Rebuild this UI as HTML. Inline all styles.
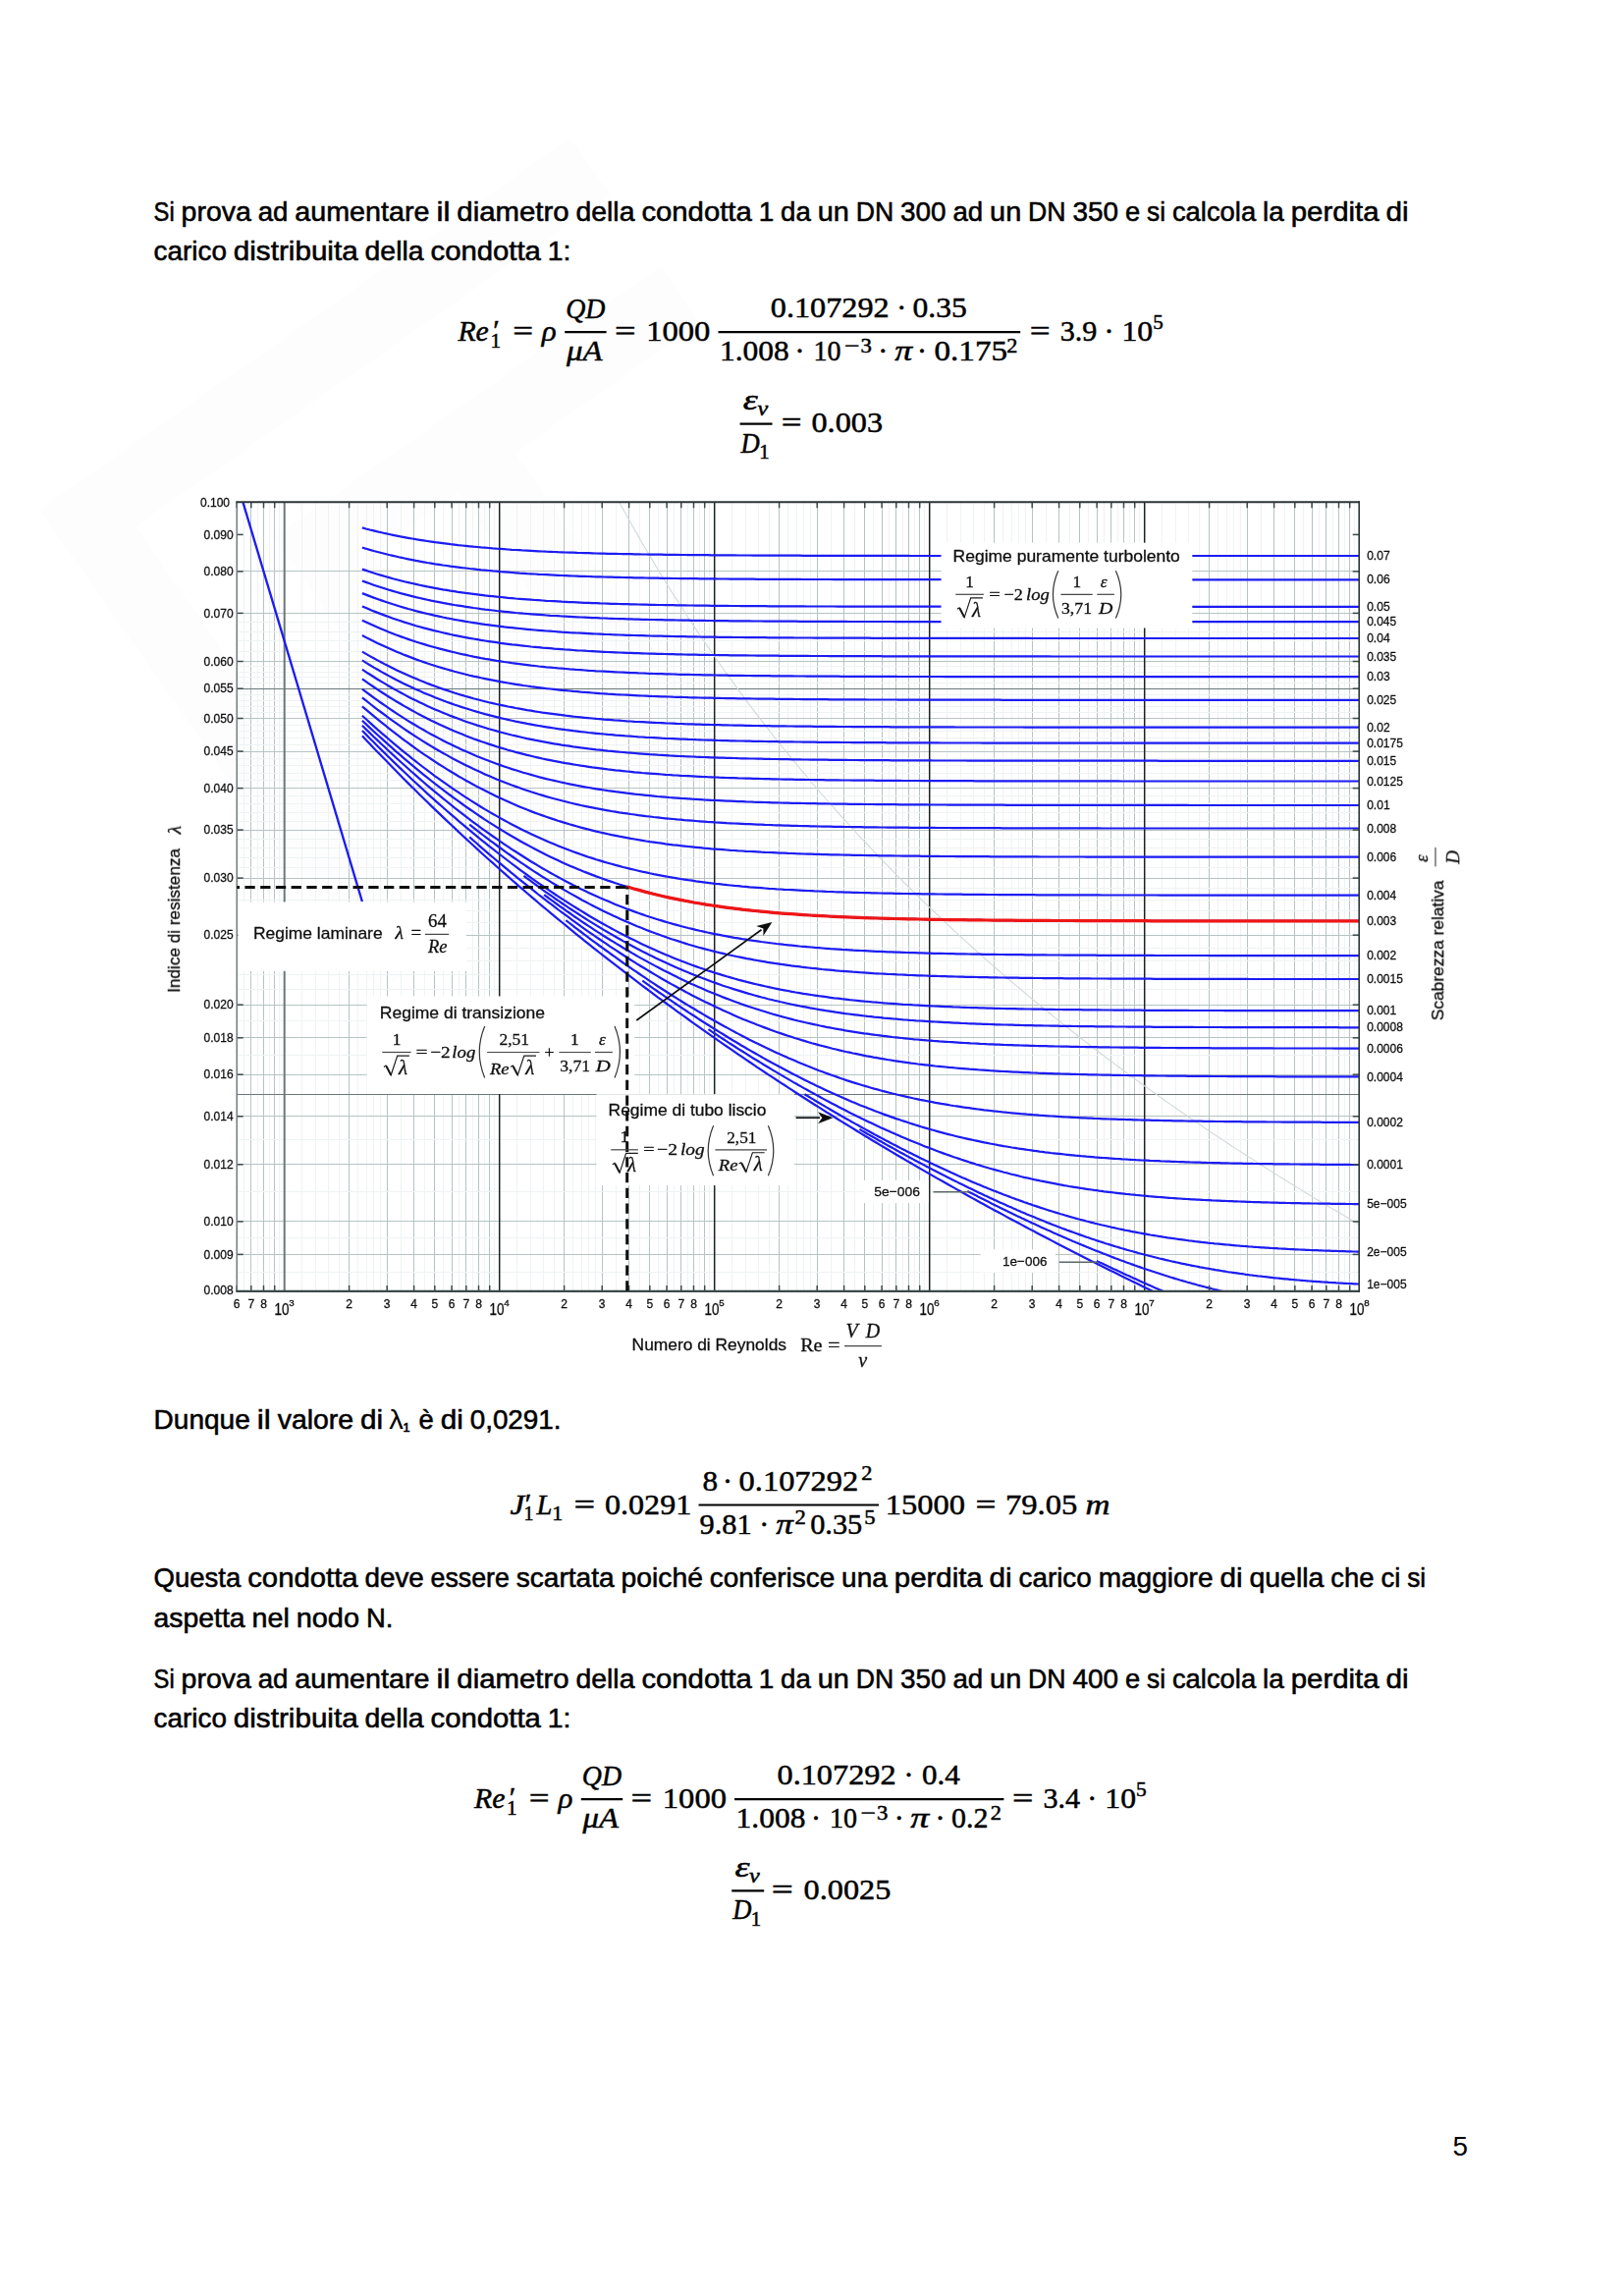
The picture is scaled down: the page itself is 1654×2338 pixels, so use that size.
<!DOCTYPE html>
<html lang="it"><head><meta charset="utf-8"><title>Pagina 5</title>
<style>html,body{margin:0;padding:0;background:#fff}svg{display:block}.s{font-family:"Liberation Sans", sans-serif}.si{font-family:"Liberation Sans", sans-serif;font-style:italic}.r{font-family:"Liberation Serif", serif}.ri{font-family:"Liberation Serif", serif;font-style:italic}text{white-space:pre}.c text{stroke:#111;stroke-width:.3px}</style></head><body>
<svg width="1654" height="2338" viewBox="0 0 1654 2338">
<rect x="0.0" y="0.0" width="1654.0" height="2338.0" fill="#fff" />
<g fill="#fdfdfe" transform="translate(500,600) rotate(-35)">
<rect x="-330" y="-330" width="660" height="70"/>
<rect x="-330" y="-330" width="70" height="600"/>
<rect x="-150" y="-170" width="70" height="440"/>
<rect x="30" y="-170" width="70" height="440"/>
<rect x="-150" y="-170" width="480" height="70"/>
</g>
<text x="156.6" y="224.6" font-size="27.4" class="s" textLength="21.1" lengthAdjust="spacingAndGlyphs" stroke="#000" stroke-width="0.55">Si</text>
<text x="184.6" y="224.6" font-size="27.4" class="s" textLength="71.3" lengthAdjust="spacingAndGlyphs" stroke="#000" stroke-width="0.55">prova</text>
<text x="262.7" y="224.6" font-size="27.4" class="s" textLength="30.7" lengthAdjust="spacingAndGlyphs" stroke="#000" stroke-width="0.55">ad</text>
<text x="300.3" y="224.6" font-size="27.4" class="s" textLength="137.1" lengthAdjust="spacingAndGlyphs" stroke="#000" stroke-width="0.55">aumentare</text>
<text x="444.4" y="224.6" font-size="27.4" class="s" textLength="14.0" lengthAdjust="spacingAndGlyphs" stroke="#000" stroke-width="0.55">il</text>
<text x="465.3" y="224.6" font-size="27.4" class="s" textLength="114.3" lengthAdjust="spacingAndGlyphs" stroke="#000" stroke-width="0.55">diametro</text>
<text x="586.5" y="224.6" font-size="27.4" class="s" textLength="59.9" lengthAdjust="spacingAndGlyphs" stroke="#000" stroke-width="0.55">della</text>
<text x="653.4" y="224.6" font-size="27.4" class="s" textLength="112.4" lengthAdjust="spacingAndGlyphs" stroke="#000" stroke-width="0.55">condotta</text>
<text x="772.7" y="224.6" font-size="27.4" class="s" textLength="15.5" lengthAdjust="spacingAndGlyphs" stroke="#000" stroke-width="0.55">1</text>
<text x="795.1" y="224.6" font-size="27.4" class="s" textLength="30.7" lengthAdjust="spacingAndGlyphs" stroke="#000" stroke-width="0.55">da</text>
<text x="832.7" y="224.6" font-size="27.4" class="s" textLength="32.1" lengthAdjust="spacingAndGlyphs" stroke="#000" stroke-width="0.55">un</text>
<text x="871.7" y="224.6" font-size="27.4" class="s" textLength="38.5" lengthAdjust="spacingAndGlyphs" stroke="#000" stroke-width="0.55">DN</text>
<text x="917.1" y="224.6" font-size="27.4" class="s" textLength="46.5" lengthAdjust="spacingAndGlyphs" stroke="#000" stroke-width="0.55">300</text>
<text x="970.5" y="224.6" font-size="27.4" class="s" textLength="30.7" lengthAdjust="spacingAndGlyphs" stroke="#000" stroke-width="0.55">ad</text>
<text x="1008.1" y="224.6" font-size="27.4" class="s" textLength="32.1" lengthAdjust="spacingAndGlyphs" stroke="#000" stroke-width="0.55">un</text>
<text x="1047.1" y="224.6" font-size="27.4" class="s" textLength="38.5" lengthAdjust="spacingAndGlyphs" stroke="#000" stroke-width="0.55">DN</text>
<text x="1092.6" y="224.6" font-size="27.4" class="s" textLength="46.5" lengthAdjust="spacingAndGlyphs" stroke="#000" stroke-width="0.55">350</text>
<text x="1146.0" y="224.6" font-size="27.4" class="s" textLength="15.2" lengthAdjust="spacingAndGlyphs" stroke="#000" stroke-width="0.55">e</text>
<text x="1168.1" y="224.6" font-size="27.4" class="s" textLength="19.0" lengthAdjust="spacingAndGlyphs" stroke="#000" stroke-width="0.55">si</text>
<text x="1193.9" y="224.6" font-size="27.4" class="s" textLength="85.3" lengthAdjust="spacingAndGlyphs" stroke="#000" stroke-width="0.55">calcola</text>
<text x="1286.1" y="224.6" font-size="27.4" class="s" textLength="21.7" lengthAdjust="spacingAndGlyphs" stroke="#000" stroke-width="0.55">la</text>
<text x="1314.7" y="224.6" font-size="27.4" class="s" textLength="89.9" lengthAdjust="spacingAndGlyphs" stroke="#000" stroke-width="0.55">perdita</text>
<text x="1411.5" y="224.6" font-size="27.4" class="s" textLength="23.1" lengthAdjust="spacingAndGlyphs" stroke="#000" stroke-width="0.55">di</text>
<text x="156.6" y="264.9" font-size="27.4" class="s" textLength="74.3" lengthAdjust="spacingAndGlyphs" stroke="#000" stroke-width="0.55">carico</text>
<text x="237.8" y="264.9" font-size="27.4" class="s" textLength="126.9" lengthAdjust="spacingAndGlyphs" stroke="#000" stroke-width="0.55">distribuita</text>
<text x="371.6" y="264.9" font-size="27.4" class="s" textLength="59.9" lengthAdjust="spacingAndGlyphs" stroke="#000" stroke-width="0.55">della</text>
<text x="438.5" y="264.9" font-size="27.4" class="s" textLength="112.4" lengthAdjust="spacingAndGlyphs" stroke="#000" stroke-width="0.55">condotta</text>
<text x="557.7" y="264.9" font-size="27.4" class="s" textLength="23.7" lengthAdjust="spacingAndGlyphs" stroke="#000" stroke-width="0.55">1:</text>
<text x="156.6" y="1455.4" font-size="27.4" class="s" textLength="98.2" lengthAdjust="spacingAndGlyphs" stroke="#000" stroke-width="0.55">Dunque</text>
<text x="261.7" y="1455.4" font-size="27.4" class="s" textLength="14.0" lengthAdjust="spacingAndGlyphs" stroke="#000" stroke-width="0.55">il</text>
<text x="282.7" y="1455.4" font-size="27.4" class="s" textLength="77.4" lengthAdjust="spacingAndGlyphs" stroke="#000" stroke-width="0.55">valore</text>
<text x="367.0" y="1455.4" font-size="27.4" class="s" textLength="23.1" lengthAdjust="spacingAndGlyphs" stroke="#000" stroke-width="0.55">di</text>
<text x="396.2" y="1455.4" font-size="27.4" class="s" textLength="14.6" lengthAdjust="spacingAndGlyphs">λ</text>
<text x="410.6" y="1458.3" font-size="13.5" class="s" textLength="7.0" lengthAdjust="spacingAndGlyphs" stroke="#000" stroke-width="0.7">1</text>
<text x="426.6" y="1455.4" font-size="27.4" class="s" textLength="15.2" lengthAdjust="spacingAndGlyphs" stroke="#000" stroke-width="0.55">è</text>
<text x="448.7" y="1455.4" font-size="27.4" class="s" textLength="23.1" lengthAdjust="spacingAndGlyphs" stroke="#000" stroke-width="0.55">di</text>
<text x="478.7" y="1455.4" font-size="27.4" class="s" textLength="92.8" lengthAdjust="spacingAndGlyphs" stroke="#000" stroke-width="0.55">0,0291.</text>
<text x="156.6" y="1616.2" font-size="27.4" class="s" textLength="88.7" lengthAdjust="spacingAndGlyphs" stroke="#000" stroke-width="0.55">Questa</text>
<text x="252.2" y="1616.2" font-size="27.4" class="s" textLength="112.4" lengthAdjust="spacingAndGlyphs" stroke="#000" stroke-width="0.55">condotta</text>
<text x="371.5" y="1616.2" font-size="27.4" class="s" textLength="60.3" lengthAdjust="spacingAndGlyphs" stroke="#000" stroke-width="0.55">deve</text>
<text x="438.6" y="1616.2" font-size="27.4" class="s" textLength="80.2" lengthAdjust="spacingAndGlyphs" stroke="#000" stroke-width="0.55">essere</text>
<text x="525.7" y="1616.2" font-size="27.4" class="s" textLength="99.9" lengthAdjust="spacingAndGlyphs" stroke="#000" stroke-width="0.55">scartata</text>
<text x="632.5" y="1616.2" font-size="27.4" class="s" textLength="83.4" lengthAdjust="spacingAndGlyphs" stroke="#000" stroke-width="0.55">poiché</text>
<text x="722.8" y="1616.2" font-size="27.4" class="s" textLength="127.4" lengthAdjust="spacingAndGlyphs" stroke="#000" stroke-width="0.55">conferisce</text>
<text x="857.1" y="1616.2" font-size="27.4" class="s" textLength="46.7" lengthAdjust="spacingAndGlyphs" stroke="#000" stroke-width="0.55">una</text>
<text x="910.8" y="1616.2" font-size="27.4" class="s" textLength="89.9" lengthAdjust="spacingAndGlyphs" stroke="#000" stroke-width="0.55">perdita</text>
<text x="1007.5" y="1616.2" font-size="27.4" class="s" textLength="23.1" lengthAdjust="spacingAndGlyphs" stroke="#000" stroke-width="0.55">di</text>
<text x="1037.5" y="1616.2" font-size="27.4" class="s" textLength="74.3" lengthAdjust="spacingAndGlyphs" stroke="#000" stroke-width="0.55">carico</text>
<text x="1118.7" y="1616.2" font-size="27.4" class="s" textLength="116.8" lengthAdjust="spacingAndGlyphs" stroke="#000" stroke-width="0.55">maggiore</text>
<text x="1242.4" y="1616.2" font-size="27.4" class="s" textLength="23.1" lengthAdjust="spacingAndGlyphs" stroke="#000" stroke-width="0.55">di</text>
<text x="1272.4" y="1616.2" font-size="27.4" class="s" textLength="76.0" lengthAdjust="spacingAndGlyphs" stroke="#000" stroke-width="0.55">quella</text>
<text x="1355.3" y="1616.2" font-size="27.4" class="s" textLength="44.2" lengthAdjust="spacingAndGlyphs" stroke="#000" stroke-width="0.55">che</text>
<text x="1406.4" y="1616.2" font-size="27.4" class="s" textLength="19.9" lengthAdjust="spacingAndGlyphs" stroke="#000" stroke-width="0.55">ci</text>
<text x="1433.2" y="1616.2" font-size="27.4" class="s" textLength="19.0" lengthAdjust="spacingAndGlyphs" stroke="#000" stroke-width="0.55">si</text>
<text x="156.6" y="1656.6" font-size="27.4" class="s" textLength="93.0" lengthAdjust="spacingAndGlyphs" stroke="#000" stroke-width="0.55">aspetta</text>
<text x="256.5" y="1656.6" font-size="27.4" class="s" textLength="38.3" lengthAdjust="spacingAndGlyphs" stroke="#000" stroke-width="0.55">nel</text>
<text x="301.7" y="1656.6" font-size="27.4" class="s" textLength="64.3" lengthAdjust="spacingAndGlyphs" stroke="#000" stroke-width="0.55">nodo</text>
<text x="372.9" y="1656.6" font-size="27.4" class="s" textLength="27.4" lengthAdjust="spacingAndGlyphs" stroke="#000" stroke-width="0.55">N.</text>
<text x="156.6" y="1718.7" font-size="27.4" class="s" textLength="21.1" lengthAdjust="spacingAndGlyphs" stroke="#000" stroke-width="0.55">Si</text>
<text x="184.6" y="1718.7" font-size="27.4" class="s" textLength="71.3" lengthAdjust="spacingAndGlyphs" stroke="#000" stroke-width="0.55">prova</text>
<text x="262.7" y="1718.7" font-size="27.4" class="s" textLength="30.7" lengthAdjust="spacingAndGlyphs" stroke="#000" stroke-width="0.55">ad</text>
<text x="300.3" y="1718.7" font-size="27.4" class="s" textLength="137.1" lengthAdjust="spacingAndGlyphs" stroke="#000" stroke-width="0.55">aumentare</text>
<text x="444.4" y="1718.7" font-size="27.4" class="s" textLength="14.0" lengthAdjust="spacingAndGlyphs" stroke="#000" stroke-width="0.55">il</text>
<text x="465.3" y="1718.7" font-size="27.4" class="s" textLength="114.3" lengthAdjust="spacingAndGlyphs" stroke="#000" stroke-width="0.55">diametro</text>
<text x="586.5" y="1718.7" font-size="27.4" class="s" textLength="59.9" lengthAdjust="spacingAndGlyphs" stroke="#000" stroke-width="0.55">della</text>
<text x="653.4" y="1718.7" font-size="27.4" class="s" textLength="112.4" lengthAdjust="spacingAndGlyphs" stroke="#000" stroke-width="0.55">condotta</text>
<text x="772.7" y="1718.7" font-size="27.4" class="s" textLength="15.5" lengthAdjust="spacingAndGlyphs" stroke="#000" stroke-width="0.55">1</text>
<text x="795.1" y="1718.7" font-size="27.4" class="s" textLength="30.7" lengthAdjust="spacingAndGlyphs" stroke="#000" stroke-width="0.55">da</text>
<text x="832.7" y="1718.7" font-size="27.4" class="s" textLength="32.1" lengthAdjust="spacingAndGlyphs" stroke="#000" stroke-width="0.55">un</text>
<text x="871.7" y="1718.7" font-size="27.4" class="s" textLength="38.5" lengthAdjust="spacingAndGlyphs" stroke="#000" stroke-width="0.55">DN</text>
<text x="917.1" y="1718.7" font-size="27.4" class="s" textLength="46.5" lengthAdjust="spacingAndGlyphs" stroke="#000" stroke-width="0.55">350</text>
<text x="970.5" y="1718.7" font-size="27.4" class="s" textLength="30.7" lengthAdjust="spacingAndGlyphs" stroke="#000" stroke-width="0.55">ad</text>
<text x="1008.1" y="1718.7" font-size="27.4" class="s" textLength="32.1" lengthAdjust="spacingAndGlyphs" stroke="#000" stroke-width="0.55">un</text>
<text x="1047.1" y="1718.7" font-size="27.4" class="s" textLength="38.5" lengthAdjust="spacingAndGlyphs" stroke="#000" stroke-width="0.55">DN</text>
<text x="1092.6" y="1718.7" font-size="27.4" class="s" textLength="46.5" lengthAdjust="spacingAndGlyphs" stroke="#000" stroke-width="0.55">400</text>
<text x="1146.0" y="1718.7" font-size="27.4" class="s" textLength="15.2" lengthAdjust="spacingAndGlyphs" stroke="#000" stroke-width="0.55">e</text>
<text x="1168.1" y="1718.7" font-size="27.4" class="s" textLength="19.0" lengthAdjust="spacingAndGlyphs" stroke="#000" stroke-width="0.55">si</text>
<text x="1193.9" y="1718.7" font-size="27.4" class="s" textLength="85.3" lengthAdjust="spacingAndGlyphs" stroke="#000" stroke-width="0.55">calcola</text>
<text x="1286.1" y="1718.7" font-size="27.4" class="s" textLength="21.7" lengthAdjust="spacingAndGlyphs" stroke="#000" stroke-width="0.55">la</text>
<text x="1314.7" y="1718.7" font-size="27.4" class="s" textLength="89.9" lengthAdjust="spacingAndGlyphs" stroke="#000" stroke-width="0.55">perdita</text>
<text x="1411.5" y="1718.7" font-size="27.4" class="s" textLength="23.1" lengthAdjust="spacingAndGlyphs" stroke="#000" stroke-width="0.55">di</text>
<text x="156.6" y="1759.2" font-size="27.4" class="s" textLength="74.3" lengthAdjust="spacingAndGlyphs" stroke="#000" stroke-width="0.55">carico</text>
<text x="237.8" y="1759.2" font-size="27.4" class="s" textLength="126.9" lengthAdjust="spacingAndGlyphs" stroke="#000" stroke-width="0.55">distribuita</text>
<text x="371.6" y="1759.2" font-size="27.4" class="s" textLength="59.9" lengthAdjust="spacingAndGlyphs" stroke="#000" stroke-width="0.55">della</text>
<text x="438.5" y="1759.2" font-size="27.4" class="s" textLength="112.4" lengthAdjust="spacingAndGlyphs" stroke="#000" stroke-width="0.55">condotta</text>
<text x="557.7" y="1759.2" font-size="27.4" class="s" textLength="23.7" lengthAdjust="spacingAndGlyphs" stroke="#000" stroke-width="0.55">1:</text>
<text x="1479.6" y="2195.2" font-size="27.4" class="s" textLength="15.5" lengthAdjust="spacingAndGlyphs">5</text>
<text x="466.4" y="347.2" font-size="30" class="ri" textLength="31.4" lengthAdjust="spacingAndGlyphs" stroke="#000" stroke-width="0.5">Re</text>
<text x="502.2" y="346.2" font-size="30" class="r" stroke="#000" stroke-width="0.5">′</text>
<text x="499.4" y="353.5" font-size="21.0" class="r" textLength="10.6" lengthAdjust="spacingAndGlyphs" stroke="#000" stroke-width="0.5">1</text>
<text x="522.2" y="347.2" font-size="30" class="r" textLength="20.8" lengthAdjust="spacingAndGlyphs" stroke="#000" stroke-width="0.5">=</text>
<text x="551.8" y="347.2" font-size="30" class="ri" textLength="14.9" lengthAdjust="spacingAndGlyphs" stroke="#000" stroke-width="0.5">ρ</text>
<line x1="575.2" y1="338.1" x2="617.6" y2="338.1" stroke="#000" stroke-width="2.2" />
<text x="576.2" y="323.8" font-size="30" class="ri" textLength="40.2" lengthAdjust="spacingAndGlyphs" stroke="#000" stroke-width="0.5">QD</text>
<text x="577.0" y="367.0" font-size="30" class="ri" textLength="36.5" lengthAdjust="spacingAndGlyphs" stroke="#000" stroke-width="0.5">μA</text>
<text x="626.0" y="347.2" font-size="30" class="r" textLength="21.6" lengthAdjust="spacingAndGlyphs" stroke="#000" stroke-width="0.5">=</text>
<text x="658.2" y="347.2" font-size="30" class="r" textLength="65.2" lengthAdjust="spacingAndGlyphs" stroke="#000" stroke-width="0.5">1000</text>
<line x1="731.5" y1="338.1" x2="1039.2" y2="338.1" stroke="#000" stroke-width="2.2" />
<text x="784.8" y="323.1" font-size="30" class="r" textLength="120.9" lengthAdjust="spacingAndGlyphs" stroke="#000" stroke-width="0.5">0.107292</text>
<text x="918.2" y="323.1" font-size="30" class="r" text-anchor="middle" stroke="#000" stroke-width="0.6">·</text>
<text x="929.6" y="323.1" font-size="30" class="r" textLength="55.2" lengthAdjust="spacingAndGlyphs" stroke="#000" stroke-width="0.5">0.35</text>
<text x="733.0" y="367.4" font-size="30" class="r" textLength="70.8" lengthAdjust="spacingAndGlyphs" stroke="#000" stroke-width="0.5">1.008</text>
<text x="814.4" y="367.4" font-size="30" class="r" text-anchor="middle" stroke="#000" stroke-width="0.6">·</text>
<text x="828.4" y="367.4" font-size="30" class="r" textLength="28.0" lengthAdjust="spacingAndGlyphs" stroke="#000" stroke-width="0.5">10</text>
<text x="859.9" y="359.4" font-size="21.0" class="r" textLength="15.4" lengthAdjust="spacingAndGlyphs" stroke="#000" stroke-width="0.5">−</text>
<text x="876.5" y="359.4" font-size="21.0" class="r" textLength="11.4" lengthAdjust="spacingAndGlyphs" stroke="#000" stroke-width="0.5">3</text>
<text x="899.2" y="367.4" font-size="30" class="r" text-anchor="middle" stroke="#000" stroke-width="0.6">·</text>
<text x="911.3" y="367.4" font-size="30" class="ri" textLength="17.9" lengthAdjust="spacingAndGlyphs" stroke="#000" stroke-width="0.5">π</text>
<text x="939.1" y="367.4" font-size="30" class="r" text-anchor="middle" stroke="#000" stroke-width="0.6">·</text>
<text x="951.5" y="367.4" font-size="30" class="r" textLength="74.5" lengthAdjust="spacingAndGlyphs" stroke="#000" stroke-width="0.5">0.175</text>
<text x="1025.3" y="359.4" font-size="21.0" class="r" textLength="11.1" lengthAdjust="spacingAndGlyphs" stroke="#000" stroke-width="0.5">2</text>
<text x="1048.7" y="347.2" font-size="30" class="r" textLength="20.9" lengthAdjust="spacingAndGlyphs" stroke="#000" stroke-width="0.5">=</text>
<text x="1079.7" y="347.2" font-size="30" class="r" textLength="37.7" lengthAdjust="spacingAndGlyphs" stroke="#000" stroke-width="0.5">3.9</text>
<text x="1129.4" y="347.2" font-size="30" class="r" text-anchor="middle" stroke="#000" stroke-width="0.6">·</text>
<text x="1142.5" y="347.2" font-size="30" class="r" textLength="31.7" lengthAdjust="spacingAndGlyphs" stroke="#000" stroke-width="0.5">10</text>
<text x="1174.3" y="335.3" font-size="21.0" class="r" textLength="10.5" lengthAdjust="spacingAndGlyphs" stroke="#000" stroke-width="0.5">5</text>
<line x1="753.6" y1="431.6" x2="786.5" y2="431.6" stroke="#000" stroke-width="2.2" />
<text x="756.8" y="416.8" font-size="30" class="ri" textLength="15.0" lengthAdjust="spacingAndGlyphs" stroke="#000" stroke-width="0.5">ε</text>
<text x="771.4" y="423.2" font-size="21.0" class="ri" textLength="10.7" lengthAdjust="spacingAndGlyphs" stroke="#000" stroke-width="0.5">v</text>
<text x="754.6" y="460.7" font-size="30" class="ri" textLength="19.2" lengthAdjust="spacingAndGlyphs" stroke="#000" stroke-width="0.5">D</text>
<text x="773.2" y="467.2" font-size="21.0" class="r" textLength="10.4" lengthAdjust="spacingAndGlyphs" stroke="#000" stroke-width="0.5">1</text>
<text x="795.8" y="440.4" font-size="30" class="r" textLength="20.8" lengthAdjust="spacingAndGlyphs" stroke="#000" stroke-width="0.5">=</text>
<text x="826.5" y="440.4" font-size="30" class="r" textLength="72.5" lengthAdjust="spacingAndGlyphs" stroke="#000" stroke-width="0.5">0.003</text>
<text x="519.4" y="1541.7" font-size="30" class="ri" textLength="14.7" lengthAdjust="spacingAndGlyphs" stroke="#000" stroke-width="0.5">J</text>
<text x="534.8" y="1540.7" font-size="30" class="r" stroke="#000" stroke-width="0.5">′</text>
<text x="533.6" y="1548.3" font-size="21.0" class="r" textLength="10.0" lengthAdjust="spacingAndGlyphs" stroke="#000" stroke-width="0.5">1</text>
<text x="546.5" y="1541.7" font-size="30" class="ri" textLength="15.9" lengthAdjust="spacingAndGlyphs" stroke="#000" stroke-width="0.5">L</text>
<text x="562.2" y="1548.3" font-size="21.0" class="r" textLength="11.0" lengthAdjust="spacingAndGlyphs" stroke="#000" stroke-width="0.5">1</text>
<text x="584.4" y="1541.7" font-size="30" class="r" textLength="21.6" lengthAdjust="spacingAndGlyphs" stroke="#000" stroke-width="0.5">=</text>
<text x="616.0" y="1541.7" font-size="30" class="r" textLength="88.2" lengthAdjust="spacingAndGlyphs" stroke="#000" stroke-width="0.5">0.0291</text>
<line x1="711.5" y1="1532.5" x2="895.0" y2="1532.5" stroke="#000" stroke-width="2.2" />
<text x="715.6" y="1518.3" font-size="30" class="r" textLength="15.6" lengthAdjust="spacingAndGlyphs" stroke="#000" stroke-width="0.5">8</text>
<text x="741.0" y="1518.3" font-size="30" class="r" text-anchor="middle" stroke="#000" stroke-width="0.6">·</text>
<text x="752.6" y="1518.3" font-size="30" class="r" textLength="121.6" lengthAdjust="spacingAndGlyphs" stroke="#000" stroke-width="0.5">0.107292</text>
<text x="877.3" y="1507.2" font-size="21.0" class="r" textLength="11.2" lengthAdjust="spacingAndGlyphs" stroke="#000" stroke-width="0.5">2</text>
<text x="712.5" y="1562.1" font-size="30" class="r" textLength="53.2" lengthAdjust="spacingAndGlyphs" stroke="#000" stroke-width="0.5">9.81</text>
<text x="778.2" y="1562.1" font-size="30" class="r" text-anchor="middle" stroke="#000" stroke-width="0.6">·</text>
<text x="790.3" y="1562.1" font-size="30" class="ri" textLength="17.6" lengthAdjust="spacingAndGlyphs" stroke="#000" stroke-width="0.5">π</text>
<text x="809.5" y="1552.4" font-size="21.0" class="r" textLength="11.3" lengthAdjust="spacingAndGlyphs" stroke="#000" stroke-width="0.5">2</text>
<text x="825.2" y="1562.1" font-size="30" class="r" textLength="53.1" lengthAdjust="spacingAndGlyphs" stroke="#000" stroke-width="0.5">0.35</text>
<text x="880.3" y="1552.4" font-size="21.0" class="r" textLength="11.3" lengthAdjust="spacingAndGlyphs" stroke="#000" stroke-width="0.5">5</text>
<text x="901.8" y="1541.7" font-size="30" class="r" textLength="81.2" lengthAdjust="spacingAndGlyphs" stroke="#000" stroke-width="0.5">15000</text>
<text x="993.4" y="1541.7" font-size="30" class="r" textLength="21.0" lengthAdjust="spacingAndGlyphs" stroke="#000" stroke-width="0.5">=</text>
<text x="1023.9" y="1541.7" font-size="30" class="r" textLength="73.4" lengthAdjust="spacingAndGlyphs" stroke="#000" stroke-width="0.5">79.05</text>
<text x="1105.4" y="1541.7" font-size="30" class="ri" textLength="25.0" lengthAdjust="spacingAndGlyphs" stroke="#000" stroke-width="0.5">m</text>
<text x="483.0" y="1841.2" font-size="30" class="ri" textLength="31.4" lengthAdjust="spacingAndGlyphs" stroke="#000" stroke-width="0.5">Re</text>
<text x="518.8" y="1840.2" font-size="30" class="r" stroke="#000" stroke-width="0.5">′</text>
<text x="516.0" y="1847.5" font-size="21.0" class="r" textLength="10.6" lengthAdjust="spacingAndGlyphs" stroke="#000" stroke-width="0.5">1</text>
<text x="538.8" y="1841.2" font-size="30" class="r" textLength="20.8" lengthAdjust="spacingAndGlyphs" stroke="#000" stroke-width="0.5">=</text>
<text x="568.4" y="1841.2" font-size="30" class="ri" textLength="14.9" lengthAdjust="spacingAndGlyphs" stroke="#000" stroke-width="0.5">ρ</text>
<line x1="591.8" y1="1832.1" x2="634.2" y2="1832.1" stroke="#000" stroke-width="2.2" />
<text x="592.8" y="1817.8" font-size="30" class="ri" textLength="40.2" lengthAdjust="spacingAndGlyphs" stroke="#000" stroke-width="0.5">QD</text>
<text x="593.6" y="1861.0" font-size="30" class="ri" textLength="36.5" lengthAdjust="spacingAndGlyphs" stroke="#000" stroke-width="0.5">μA</text>
<text x="642.6" y="1841.2" font-size="30" class="r" textLength="21.6" lengthAdjust="spacingAndGlyphs" stroke="#000" stroke-width="0.5">=</text>
<text x="674.8" y="1841.2" font-size="30" class="r" textLength="65.2" lengthAdjust="spacingAndGlyphs" stroke="#000" stroke-width="0.5">1000</text>
<line x1="748.1" y1="1832.1" x2="1022.4" y2="1832.1" stroke="#000" stroke-width="2.2" />
<text x="791.5" y="1817.1" font-size="30" class="r" textLength="121.1" lengthAdjust="spacingAndGlyphs" stroke="#000" stroke-width="0.5">0.107292</text>
<text x="925.6" y="1817.1" font-size="30" class="r" text-anchor="middle" stroke="#000" stroke-width="0.6">·</text>
<text x="939.0" y="1817.1" font-size="30" class="r" textLength="38.8" lengthAdjust="spacingAndGlyphs" stroke="#000" stroke-width="0.5">0.4</text>
<text x="749.6" y="1861.4" font-size="30" class="r" textLength="70.8" lengthAdjust="spacingAndGlyphs" stroke="#000" stroke-width="0.5">1.008</text>
<text x="831.0" y="1861.4" font-size="30" class="r" text-anchor="middle" stroke="#000" stroke-width="0.6">·</text>
<text x="845.0" y="1861.4" font-size="30" class="r" textLength="28.0" lengthAdjust="spacingAndGlyphs" stroke="#000" stroke-width="0.5">10</text>
<text x="876.5" y="1853.4" font-size="21.0" class="r" textLength="15.4" lengthAdjust="spacingAndGlyphs" stroke="#000" stroke-width="0.5">−</text>
<text x="893.1" y="1853.4" font-size="21.0" class="r" textLength="11.4" lengthAdjust="spacingAndGlyphs" stroke="#000" stroke-width="0.5">3</text>
<text x="915.8" y="1861.4" font-size="30" class="r" text-anchor="middle" stroke="#000" stroke-width="0.6">·</text>
<text x="927.2" y="1861.4" font-size="30" class="ri" textLength="18.9" lengthAdjust="spacingAndGlyphs" stroke="#000" stroke-width="0.5">π</text>
<text x="957.4" y="1861.4" font-size="30" class="r" text-anchor="middle" stroke="#000" stroke-width="0.6">·</text>
<text x="969.0" y="1861.4" font-size="30" class="r" textLength="37.4" lengthAdjust="spacingAndGlyphs" stroke="#000" stroke-width="0.5">0.2</text>
<text x="1008.7" y="1853.4" font-size="21.0" class="r" textLength="11.2" lengthAdjust="spacingAndGlyphs" stroke="#000" stroke-width="0.5">2</text>
<text x="1030.9" y="1841.2" font-size="30" class="r" textLength="21.4" lengthAdjust="spacingAndGlyphs" stroke="#000" stroke-width="0.5">=</text>
<text x="1062.5" y="1841.2" font-size="30" class="r" textLength="37.7" lengthAdjust="spacingAndGlyphs" stroke="#000" stroke-width="0.5">3.4</text>
<text x="1112.2" y="1841.2" font-size="30" class="r" text-anchor="middle" stroke="#000" stroke-width="0.6">·</text>
<text x="1125.3" y="1841.2" font-size="30" class="r" textLength="31.7" lengthAdjust="spacingAndGlyphs" stroke="#000" stroke-width="0.5">10</text>
<text x="1156.9" y="1829.3" font-size="21.0" class="r" textLength="10.7" lengthAdjust="spacingAndGlyphs" stroke="#000" stroke-width="0.5">5</text>
<line x1="745.2" y1="1925.3" x2="778.2" y2="1925.3" stroke="#000" stroke-width="2.2" />
<text x="748.4" y="1910.5" font-size="30" class="ri" textLength="15.0" lengthAdjust="spacingAndGlyphs" stroke="#000" stroke-width="0.5">ε</text>
<text x="763.0" y="1916.9" font-size="21.0" class="ri" textLength="10.7" lengthAdjust="spacingAndGlyphs" stroke="#000" stroke-width="0.5">v</text>
<text x="746.2" y="1954.4" font-size="30" class="ri" textLength="19.2" lengthAdjust="spacingAndGlyphs" stroke="#000" stroke-width="0.5">D</text>
<text x="764.8" y="1960.9" font-size="21.0" class="r" textLength="10.4" lengthAdjust="spacingAndGlyphs" stroke="#000" stroke-width="0.5">1</text>
<text x="785.8" y="1934.1" font-size="30" class="r" textLength="22.1" lengthAdjust="spacingAndGlyphs" stroke="#000" stroke-width="0.5">=</text>
<text x="818.6" y="1934.1" font-size="30" class="r" textLength="88.8" lengthAdjust="spacingAndGlyphs" stroke="#000" stroke-width="0.5">0.0025</text>
<filter id="bl" x="0" y="0" width="100%" height="100%" filterUnits="userSpaceOnUse"><feGaussianBlur stdDeviation="0.5"/></filter>
<g class="c" filter="url(#bl)">
<clipPath id="cp"><rect x="241.2" y="511.3" width="1143.0" height="803.6000000000001"/></clipPath>
<g clip-path="url(#cp)">
<g shape-rendering="crispEdges">
<line x1="241.1" y1="511.3" x2="241.1" y2="1314.9" stroke="#b7c3c3" stroke-width="1" />
<line x1="248.7" y1="511.3" x2="248.7" y2="1314.9" stroke="#eff3f3" stroke-width="1" />
<line x1="255.8" y1="511.3" x2="255.8" y2="1314.9" stroke="#b7c3c3" stroke-width="1" />
<line x1="262.3" y1="511.3" x2="262.3" y2="1314.9" stroke="#eff3f3" stroke-width="1" />
<line x1="268.5" y1="511.3" x2="268.5" y2="1314.9" stroke="#b7c3c3" stroke-width="1" />
<line x1="274.2" y1="511.3" x2="274.2" y2="1314.9" stroke="#eff3f3" stroke-width="1" />
<line x1="279.7" y1="511.3" x2="279.7" y2="1314.9" stroke="#b7c3c3" stroke-width="1" />
<line x1="284.8" y1="511.3" x2="284.8" y2="1314.9" stroke="#eff3f3" stroke-width="1" />
<line x1="307.0" y1="511.3" x2="307.0" y2="1314.9" stroke="#eff3f3" stroke-width="1" />
<line x1="321.7" y1="511.3" x2="321.7" y2="1314.9" stroke="#eff3f3" stroke-width="1" />
<line x1="334.4" y1="511.3" x2="334.4" y2="1314.9" stroke="#eff3f3" stroke-width="1" />
<line x1="345.6" y1="511.3" x2="345.6" y2="1314.9" stroke="#eff3f3" stroke-width="1" />
<line x1="355.6" y1="511.3" x2="355.6" y2="1314.9" stroke="#b7c3c3" stroke-width="1" />
<line x1="364.7" y1="511.3" x2="364.7" y2="1314.9" stroke="#eff3f3" stroke-width="1" />
<line x1="373.0" y1="511.3" x2="373.0" y2="1314.9" stroke="#eff3f3" stroke-width="1" />
<line x1="380.6" y1="511.3" x2="380.6" y2="1314.9" stroke="#eff3f3" stroke-width="1" />
<line x1="387.6" y1="511.3" x2="387.6" y2="1314.9" stroke="#eff3f3" stroke-width="1" />
<line x1="394.2" y1="511.3" x2="394.2" y2="1314.9" stroke="#b7c3c3" stroke-width="1" />
<line x1="408.9" y1="511.3" x2="408.9" y2="1314.9" stroke="#eff3f3" stroke-width="1" />
<line x1="421.6" y1="511.3" x2="421.6" y2="1314.9" stroke="#b7c3c3" stroke-width="1" />
<line x1="432.8" y1="511.3" x2="432.8" y2="1314.9" stroke="#eff3f3" stroke-width="1" />
<line x1="442.8" y1="511.3" x2="442.8" y2="1314.9" stroke="#b7c3c3" stroke-width="1" />
<line x1="451.8" y1="511.3" x2="451.8" y2="1314.9" stroke="#eff3f3" stroke-width="1" />
<line x1="460.1" y1="511.3" x2="460.1" y2="1314.9" stroke="#b7c3c3" stroke-width="1" />
<line x1="467.7" y1="511.3" x2="467.7" y2="1314.9" stroke="#eff3f3" stroke-width="1" />
<line x1="474.8" y1="511.3" x2="474.8" y2="1314.9" stroke="#b7c3c3" stroke-width="1" />
<line x1="481.3" y1="511.3" x2="481.3" y2="1314.9" stroke="#eff3f3" stroke-width="1" />
<line x1="487.5" y1="511.3" x2="487.5" y2="1314.9" stroke="#b7c3c3" stroke-width="1" />
<line x1="493.2" y1="511.3" x2="493.2" y2="1314.9" stroke="#eff3f3" stroke-width="1" />
<line x1="498.7" y1="511.3" x2="498.7" y2="1314.9" stroke="#b7c3c3" stroke-width="1" />
<line x1="503.8" y1="511.3" x2="503.8" y2="1314.9" stroke="#eff3f3" stroke-width="1" />
<line x1="526.0" y1="511.3" x2="526.0" y2="1314.9" stroke="#eff3f3" stroke-width="1" />
<line x1="540.7" y1="511.3" x2="540.7" y2="1314.9" stroke="#eff3f3" stroke-width="1" />
<line x1="553.4" y1="511.3" x2="553.4" y2="1314.9" stroke="#eff3f3" stroke-width="1" />
<line x1="564.6" y1="511.3" x2="564.6" y2="1314.9" stroke="#eff3f3" stroke-width="1" />
<line x1="574.6" y1="511.3" x2="574.6" y2="1314.9" stroke="#b7c3c3" stroke-width="1" />
<line x1="583.7" y1="511.3" x2="583.7" y2="1314.9" stroke="#eff3f3" stroke-width="1" />
<line x1="592.0" y1="511.3" x2="592.0" y2="1314.9" stroke="#eff3f3" stroke-width="1" />
<line x1="599.6" y1="511.3" x2="599.6" y2="1314.9" stroke="#eff3f3" stroke-width="1" />
<line x1="606.6" y1="511.3" x2="606.6" y2="1314.9" stroke="#eff3f3" stroke-width="1" />
<line x1="613.2" y1="511.3" x2="613.2" y2="1314.9" stroke="#b7c3c3" stroke-width="1" />
<line x1="627.9" y1="511.3" x2="627.9" y2="1314.9" stroke="#eff3f3" stroke-width="1" />
<line x1="640.6" y1="511.3" x2="640.6" y2="1314.9" stroke="#b7c3c3" stroke-width="1" />
<line x1="651.8" y1="511.3" x2="651.8" y2="1314.9" stroke="#eff3f3" stroke-width="1" />
<line x1="661.8" y1="511.3" x2="661.8" y2="1314.9" stroke="#b7c3c3" stroke-width="1" />
<line x1="670.8" y1="511.3" x2="670.8" y2="1314.9" stroke="#eff3f3" stroke-width="1" />
<line x1="679.1" y1="511.3" x2="679.1" y2="1314.9" stroke="#b7c3c3" stroke-width="1" />
<line x1="686.7" y1="511.3" x2="686.7" y2="1314.9" stroke="#eff3f3" stroke-width="1" />
<line x1="693.8" y1="511.3" x2="693.8" y2="1314.9" stroke="#b7c3c3" stroke-width="1" />
<line x1="700.3" y1="511.3" x2="700.3" y2="1314.9" stroke="#eff3f3" stroke-width="1" />
<line x1="706.5" y1="511.3" x2="706.5" y2="1314.9" stroke="#b7c3c3" stroke-width="1" />
<line x1="712.2" y1="511.3" x2="712.2" y2="1314.9" stroke="#eff3f3" stroke-width="1" />
<line x1="717.7" y1="511.3" x2="717.7" y2="1314.9" stroke="#b7c3c3" stroke-width="1" />
<line x1="722.8" y1="511.3" x2="722.8" y2="1314.9" stroke="#eff3f3" stroke-width="1" />
<line x1="745.0" y1="511.3" x2="745.0" y2="1314.9" stroke="#eff3f3" stroke-width="1" />
<line x1="759.7" y1="511.3" x2="759.7" y2="1314.9" stroke="#eff3f3" stroke-width="1" />
<line x1="772.4" y1="511.3" x2="772.4" y2="1314.9" stroke="#eff3f3" stroke-width="1" />
<line x1="783.6" y1="511.3" x2="783.6" y2="1314.9" stroke="#eff3f3" stroke-width="1" />
<line x1="793.6" y1="511.3" x2="793.6" y2="1314.9" stroke="#b7c3c3" stroke-width="1" />
<line x1="802.7" y1="511.3" x2="802.7" y2="1314.9" stroke="#eff3f3" stroke-width="1" />
<line x1="811.0" y1="511.3" x2="811.0" y2="1314.9" stroke="#eff3f3" stroke-width="1" />
<line x1="818.6" y1="511.3" x2="818.6" y2="1314.9" stroke="#eff3f3" stroke-width="1" />
<line x1="825.6" y1="511.3" x2="825.6" y2="1314.9" stroke="#eff3f3" stroke-width="1" />
<line x1="832.2" y1="511.3" x2="832.2" y2="1314.9" stroke="#b7c3c3" stroke-width="1" />
<line x1="846.9" y1="511.3" x2="846.9" y2="1314.9" stroke="#eff3f3" stroke-width="1" />
<line x1="859.6" y1="511.3" x2="859.6" y2="1314.9" stroke="#b7c3c3" stroke-width="1" />
<line x1="870.8" y1="511.3" x2="870.8" y2="1314.9" stroke="#eff3f3" stroke-width="1" />
<line x1="880.8" y1="511.3" x2="880.8" y2="1314.9" stroke="#b7c3c3" stroke-width="1" />
<line x1="889.8" y1="511.3" x2="889.8" y2="1314.9" stroke="#eff3f3" stroke-width="1" />
<line x1="898.1" y1="511.3" x2="898.1" y2="1314.9" stroke="#b7c3c3" stroke-width="1" />
<line x1="905.7" y1="511.3" x2="905.7" y2="1314.9" stroke="#eff3f3" stroke-width="1" />
<line x1="912.8" y1="511.3" x2="912.8" y2="1314.9" stroke="#b7c3c3" stroke-width="1" />
<line x1="919.3" y1="511.3" x2="919.3" y2="1314.9" stroke="#eff3f3" stroke-width="1" />
<line x1="925.5" y1="511.3" x2="925.5" y2="1314.9" stroke="#b7c3c3" stroke-width="1" />
<line x1="931.2" y1="511.3" x2="931.2" y2="1314.9" stroke="#eff3f3" stroke-width="1" />
<line x1="936.7" y1="511.3" x2="936.7" y2="1314.9" stroke="#b7c3c3" stroke-width="1" />
<line x1="941.8" y1="511.3" x2="941.8" y2="1314.9" stroke="#eff3f3" stroke-width="1" />
<line x1="964.0" y1="511.3" x2="964.0" y2="1314.9" stroke="#eff3f3" stroke-width="1" />
<line x1="978.7" y1="511.3" x2="978.7" y2="1314.9" stroke="#eff3f3" stroke-width="1" />
<line x1="991.4" y1="511.3" x2="991.4" y2="1314.9" stroke="#eff3f3" stroke-width="1" />
<line x1="1002.6" y1="511.3" x2="1002.6" y2="1314.9" stroke="#eff3f3" stroke-width="1" />
<line x1="1012.6" y1="511.3" x2="1012.6" y2="1314.9" stroke="#b7c3c3" stroke-width="1" />
<line x1="1021.7" y1="511.3" x2="1021.7" y2="1314.9" stroke="#eff3f3" stroke-width="1" />
<line x1="1030.0" y1="511.3" x2="1030.0" y2="1314.9" stroke="#eff3f3" stroke-width="1" />
<line x1="1037.6" y1="511.3" x2="1037.6" y2="1314.9" stroke="#eff3f3" stroke-width="1" />
<line x1="1044.6" y1="511.3" x2="1044.6" y2="1314.9" stroke="#eff3f3" stroke-width="1" />
<line x1="1051.2" y1="511.3" x2="1051.2" y2="1314.9" stroke="#b7c3c3" stroke-width="1" />
<line x1="1065.9" y1="511.3" x2="1065.9" y2="1314.9" stroke="#eff3f3" stroke-width="1" />
<line x1="1078.6" y1="511.3" x2="1078.6" y2="1314.9" stroke="#b7c3c3" stroke-width="1" />
<line x1="1089.8" y1="511.3" x2="1089.8" y2="1314.9" stroke="#eff3f3" stroke-width="1" />
<line x1="1099.8" y1="511.3" x2="1099.8" y2="1314.9" stroke="#b7c3c3" stroke-width="1" />
<line x1="1108.8" y1="511.3" x2="1108.8" y2="1314.9" stroke="#eff3f3" stroke-width="1" />
<line x1="1117.1" y1="511.3" x2="1117.1" y2="1314.9" stroke="#b7c3c3" stroke-width="1" />
<line x1="1124.7" y1="511.3" x2="1124.7" y2="1314.9" stroke="#eff3f3" stroke-width="1" />
<line x1="1131.8" y1="511.3" x2="1131.8" y2="1314.9" stroke="#b7c3c3" stroke-width="1" />
<line x1="1138.3" y1="511.3" x2="1138.3" y2="1314.9" stroke="#eff3f3" stroke-width="1" />
<line x1="1144.5" y1="511.3" x2="1144.5" y2="1314.9" stroke="#b7c3c3" stroke-width="1" />
<line x1="1150.2" y1="511.3" x2="1150.2" y2="1314.9" stroke="#eff3f3" stroke-width="1" />
<line x1="1155.7" y1="511.3" x2="1155.7" y2="1314.9" stroke="#b7c3c3" stroke-width="1" />
<line x1="1160.8" y1="511.3" x2="1160.8" y2="1314.9" stroke="#eff3f3" stroke-width="1" />
<line x1="1183.0" y1="511.3" x2="1183.0" y2="1314.9" stroke="#eff3f3" stroke-width="1" />
<line x1="1197.7" y1="511.3" x2="1197.7" y2="1314.9" stroke="#eff3f3" stroke-width="1" />
<line x1="1210.4" y1="511.3" x2="1210.4" y2="1314.9" stroke="#eff3f3" stroke-width="1" />
<line x1="1221.6" y1="511.3" x2="1221.6" y2="1314.9" stroke="#eff3f3" stroke-width="1" />
<line x1="1231.6" y1="511.3" x2="1231.6" y2="1314.9" stroke="#b7c3c3" stroke-width="1" />
<line x1="1240.7" y1="511.3" x2="1240.7" y2="1314.9" stroke="#eff3f3" stroke-width="1" />
<line x1="1249.0" y1="511.3" x2="1249.0" y2="1314.9" stroke="#eff3f3" stroke-width="1" />
<line x1="1256.6" y1="511.3" x2="1256.6" y2="1314.9" stroke="#eff3f3" stroke-width="1" />
<line x1="1263.6" y1="511.3" x2="1263.6" y2="1314.9" stroke="#eff3f3" stroke-width="1" />
<line x1="1270.2" y1="511.3" x2="1270.2" y2="1314.9" stroke="#b7c3c3" stroke-width="1" />
<line x1="1284.9" y1="511.3" x2="1284.9" y2="1314.9" stroke="#eff3f3" stroke-width="1" />
<line x1="1297.6" y1="511.3" x2="1297.6" y2="1314.9" stroke="#b7c3c3" stroke-width="1" />
<line x1="1308.8" y1="511.3" x2="1308.8" y2="1314.9" stroke="#eff3f3" stroke-width="1" />
<line x1="1318.8" y1="511.3" x2="1318.8" y2="1314.9" stroke="#b7c3c3" stroke-width="1" />
<line x1="1327.8" y1="511.3" x2="1327.8" y2="1314.9" stroke="#eff3f3" stroke-width="1" />
<line x1="1336.1" y1="511.3" x2="1336.1" y2="1314.9" stroke="#b7c3c3" stroke-width="1" />
<line x1="1343.7" y1="511.3" x2="1343.7" y2="1314.9" stroke="#eff3f3" stroke-width="1" />
<line x1="1350.8" y1="511.3" x2="1350.8" y2="1314.9" stroke="#b7c3c3" stroke-width="1" />
<line x1="1357.3" y1="511.3" x2="1357.3" y2="1314.9" stroke="#eff3f3" stroke-width="1" />
<line x1="1363.5" y1="511.3" x2="1363.5" y2="1314.9" stroke="#b7c3c3" stroke-width="1" />
<line x1="1369.2" y1="511.3" x2="1369.2" y2="1314.9" stroke="#eff3f3" stroke-width="1" />
<line x1="1374.7" y1="511.3" x2="1374.7" y2="1314.9" stroke="#b7c3c3" stroke-width="1" />
<line x1="1379.8" y1="511.3" x2="1379.8" y2="1314.9" stroke="#eff3f3" stroke-width="1" />
<line x1="241.2" y1="1295.6" x2="1384.2" y2="1295.6" stroke="#eff3f3" stroke-width="1" />
<line x1="241.2" y1="1260.2" x2="1384.2" y2="1260.2" stroke="#eff3f3" stroke-width="1" />
<line x1="241.2" y1="1213.5" x2="1384.2" y2="1213.5" stroke="#eff3f3" stroke-width="1" />
<line x1="241.2" y1="1160.3" x2="1384.2" y2="1160.3" stroke="#eff3f3" stroke-width="1" />
<line x1="241.2" y1="1074.9" x2="1384.2" y2="1074.9" stroke="#eff3f3" stroke-width="1" />
<line x1="241.2" y1="1039.5" x2="1384.2" y2="1039.5" stroke="#eff3f3" stroke-width="1" />
<line x1="241.2" y1="1007.7" x2="1384.2" y2="1007.7" stroke="#eff3f3" stroke-width="1" />
<line x1="241.2" y1="992.9" x2="1384.2" y2="992.9" stroke="#eff3f3" stroke-width="1" />
<line x1="241.2" y1="978.7" x2="1384.2" y2="978.7" stroke="#eff3f3" stroke-width="1" />
<line x1="241.2" y1="965.2" x2="1384.2" y2="965.2" stroke="#eff3f3" stroke-width="1" />
<line x1="241.2" y1="939.7" x2="1384.2" y2="939.7" stroke="#eff3f3" stroke-width="1" />
<line x1="241.2" y1="927.7" x2="1384.2" y2="927.7" stroke="#eff3f3" stroke-width="1" />
<line x1="241.2" y1="916.1" x2="1384.2" y2="916.1" stroke="#eff3f3" stroke-width="1" />
<line x1="241.2" y1="904.9" x2="1384.2" y2="904.9" stroke="#eff3f3" stroke-width="1" />
<line x1="241.2" y1="883.7" x2="1384.2" y2="883.7" stroke="#eff3f3" stroke-width="1" />
<line x1="241.2" y1="873.6" x2="1384.2" y2="873.6" stroke="#eff3f3" stroke-width="1" />
<line x1="241.2" y1="863.8" x2="1384.2" y2="863.8" stroke="#eff3f3" stroke-width="1" />
<line x1="241.2" y1="854.3" x2="1384.2" y2="854.3" stroke="#eff3f3" stroke-width="1" />
<line x1="241.2" y1="836.1" x2="1384.2" y2="836.1" stroke="#eff3f3" stroke-width="1" />
<line x1="241.2" y1="827.4" x2="1384.2" y2="827.4" stroke="#eff3f3" stroke-width="1" />
<line x1="241.2" y1="818.9" x2="1384.2" y2="818.9" stroke="#eff3f3" stroke-width="1" />
<line x1="241.2" y1="810.6" x2="1384.2" y2="810.6" stroke="#eff3f3" stroke-width="1" />
<line x1="241.2" y1="794.7" x2="1384.2" y2="794.7" stroke="#eff3f3" stroke-width="1" />
<line x1="241.2" y1="787.0" x2="1384.2" y2="787.0" stroke="#eff3f3" stroke-width="1" />
<line x1="241.2" y1="779.5" x2="1384.2" y2="779.5" stroke="#eff3f3" stroke-width="1" />
<line x1="241.2" y1="772.2" x2="1384.2" y2="772.2" stroke="#eff3f3" stroke-width="1" />
<line x1="241.2" y1="758.1" x2="1384.2" y2="758.1" stroke="#eff3f3" stroke-width="1" />
<line x1="241.2" y1="751.2" x2="1384.2" y2="751.2" stroke="#eff3f3" stroke-width="1" />
<line x1="241.2" y1="744.5" x2="1384.2" y2="744.5" stroke="#eff3f3" stroke-width="1" />
<line x1="241.2" y1="738.0" x2="1384.2" y2="738.0" stroke="#eff3f3" stroke-width="1" />
<line x1="241.2" y1="725.2" x2="1384.2" y2="725.2" stroke="#eff3f3" stroke-width="1" />
<line x1="241.2" y1="719.0" x2="1384.2" y2="719.0" stroke="#eff3f3" stroke-width="1" />
<line x1="241.2" y1="713.0" x2="1384.2" y2="713.0" stroke="#eff3f3" stroke-width="1" />
<line x1="241.2" y1="707.0" x2="1384.2" y2="707.0" stroke="#eff3f3" stroke-width="1" />
<line x1="241.2" y1="695.4" x2="1384.2" y2="695.4" stroke="#eff3f3" stroke-width="1" />
<line x1="241.2" y1="689.8" x2="1384.2" y2="689.8" stroke="#eff3f3" stroke-width="1" />
<line x1="241.2" y1="684.3" x2="1384.2" y2="684.3" stroke="#eff3f3" stroke-width="1" />
<line x1="241.2" y1="678.8" x2="1384.2" y2="678.8" stroke="#eff3f3" stroke-width="1" />
<line x1="241.2" y1="663.0" x2="1384.2" y2="663.0" stroke="#eff3f3" stroke-width="1" />
<line x1="241.2" y1="652.9" x2="1384.2" y2="652.9" stroke="#eff3f3" stroke-width="1" />
<line x1="241.2" y1="643.1" x2="1384.2" y2="643.1" stroke="#eff3f3" stroke-width="1" />
<line x1="241.2" y1="633.6" x2="1384.2" y2="633.6" stroke="#eff3f3" stroke-width="1" />
<line x1="241.2" y1="1277.4" x2="1384.2" y2="1277.4" stroke="#b7c3c3" stroke-width="1" />
<line x1="241.2" y1="1243.9" x2="1384.2" y2="1243.9" stroke="#b7c3c3" stroke-width="1" />
<line x1="241.2" y1="1185.8" x2="1384.2" y2="1185.8" stroke="#b7c3c3" stroke-width="1" />
<line x1="241.2" y1="1136.8" x2="1384.2" y2="1136.8" stroke="#b7c3c3" stroke-width="1" />
<line x1="241.2" y1="1094.2" x2="1384.2" y2="1094.2" stroke="#b7c3c3" stroke-width="1" />
<line x1="241.2" y1="1056.8" x2="1384.2" y2="1056.8" stroke="#b7c3c3" stroke-width="1" />
<line x1="241.2" y1="1023.2" x2="1384.2" y2="1023.2" stroke="#b7c3c3" stroke-width="1" />
<line x1="241.2" y1="952.2" x2="1384.2" y2="952.2" stroke="#b7c3c3" stroke-width="1" />
<line x1="241.2" y1="894.1" x2="1384.2" y2="894.1" stroke="#b7c3c3" stroke-width="1" />
<line x1="241.2" y1="845.1" x2="1384.2" y2="845.1" stroke="#b7c3c3" stroke-width="1" />
<line x1="241.2" y1="802.6" x2="1384.2" y2="802.6" stroke="#b7c3c3" stroke-width="1" />
<line x1="241.2" y1="765.1" x2="1384.2" y2="765.1" stroke="#b7c3c3" stroke-width="1" />
<line x1="241.2" y1="731.5" x2="1384.2" y2="731.5" stroke="#b7c3c3" stroke-width="1" />
<line x1="241.2" y1="673.5" x2="1384.2" y2="673.5" stroke="#b7c3c3" stroke-width="1" />
<line x1="241.2" y1="624.4" x2="1384.2" y2="624.4" stroke="#b7c3c3" stroke-width="1" />
<line x1="241.2" y1="581.9" x2="1384.2" y2="581.9" stroke="#b7c3c3" stroke-width="1" />
<line x1="241.2" y1="1114.8" x2="1384.2" y2="1114.8" stroke="#6a7878" stroke-width="1" />
<line x1="241.2" y1="701.2" x2="1384.2" y2="701.2" stroke="#6a7878" stroke-width="1" />
</g>
<line x1="289.7" y1="511.3" x2="289.7" y2="1314.9" stroke="#6a7878" stroke-width="2.0" />
<line x1="508.7" y1="511.3" x2="508.7" y2="1314.9" stroke="#1c2222" stroke-width="1.5" />
<line x1="727.7" y1="511.3" x2="727.7" y2="1314.9" stroke="#1c2222" stroke-width="1.5" />
<line x1="946.7" y1="511.3" x2="946.7" y2="1314.9" stroke="#1c2222" stroke-width="1.5" />
<line x1="1165.7" y1="511.3" x2="1165.7" y2="1314.9" stroke="#1c2222" stroke-width="1.5" />
<polyline fill="none" stroke="#d2d9d9" stroke-width="1.1" points="606.0,464.2 610.3,472.8 614.7,481.3 619.1,489.7 623.5,497.9 627.9,506.1 632.2,514.2 636.6,522.1 641.0,530.0 645.4,537.8 649.8,545.4 654.1,553.0 658.5,560.5 662.9,567.9 667.3,575.2 671.7,582.5 676.0,589.6 680.4,596.7 684.8,603.7 689.2,610.6 693.6,617.5 697.9,624.3 702.3,631.0 706.7,637.6 711.1,644.2 715.5,650.7 719.8,657.1 724.2,663.5 728.6,669.8 733.0,676.0 737.4,682.2 741.7,688.3 746.1,694.4 750.5,700.4 754.9,706.3 759.3,712.2 763.6,718.1 768.0,723.9 772.4,729.6 776.8,735.3 781.2,740.9 785.5,746.5 789.9,752.1 794.3,757.5 798.7,763.0 803.1,768.4 807.4,773.7 811.8,779.0 816.2,784.3 820.6,789.5 825.0,794.7 829.3,799.8 833.7,804.9 838.1,810.0 842.5,815.0 846.9,820.0 851.2,824.9 855.6,829.8 860.0,834.7 864.4,839.5 868.8,844.3 873.1,849.0 877.5,853.8 881.9,858.4 886.3,863.1 890.7,867.7 895.0,872.3 899.4,876.8 903.8,881.4 908.2,885.8 912.6,890.3 916.9,894.7 921.3,899.1 925.7,903.5 930.1,907.8 934.5,912.1 938.8,916.4 943.2,920.6 947.6,924.8 952.0,929.0 956.4,933.2 960.7,937.3 965.1,941.4 969.5,945.5 973.9,949.6 978.3,953.6 982.6,957.6 987.0,961.6 991.4,965.5 995.8,969.5 1000.2,973.4 1004.5,977.3 1008.9,981.1 1013.3,985.0 1017.7,988.8 1022.1,992.6 1026.4,996.3 1030.8,1000.1 1035.2,1003.8 1039.6,1007.5 1044.0,1011.2 1048.3,1014.8 1052.7,1018.5 1057.1,1022.1 1061.5,1025.7 1065.9,1029.3 1070.2,1032.8 1074.6,1036.4 1079.0,1039.9 1083.4,1043.4 1087.8,1046.9 1092.1,1050.3 1096.5,1053.8 1100.9,1057.2 1105.3,1060.6 1109.7,1064.0 1114.0,1067.4 1118.4,1070.7 1122.8,1074.0 1127.2,1077.4 1131.6,1080.7 1135.9,1083.9 1140.3,1087.2 1144.7,1090.5 1149.1,1093.7 1153.5,1096.9 1157.8,1100.1 1162.2,1103.3 1166.6,1106.5 1171.0,1109.6 1175.4,1112.7 1179.7,1115.9 1184.1,1119.0 1188.5,1122.1 1192.9,1125.1 1197.3,1128.2 1201.6,1131.2 1206.0,1134.3 1210.4,1137.3 1214.8,1140.3 1219.2,1143.3 1223.5,1146.3 1227.9,1149.2 1232.3,1152.2 1236.7,1155.1 1241.1,1158.0 1245.4,1160.9 1249.8,1163.8 1254.2,1166.7 1258.6,1169.6 1263.0,1172.4 1267.3,1175.3 1271.7,1178.1 1276.1,1180.9 1280.5,1183.7 1284.9,1186.5 1289.2,1189.3 1293.6,1192.1 1298.0,1194.8 1302.4,1197.6 1306.8,1200.3 1311.1,1203.0 1315.5,1205.7 1319.9,1208.4 1324.3,1211.1 1328.7,1213.8 1333.0,1216.5 1337.4,1219.1 1341.8,1221.8 1346.2,1224.4 1350.6,1227.0 1354.9,1229.6 1359.3,1232.2 1363.7,1234.8 1368.1,1237.4 1372.5,1240.0 1376.8,1242.5 1381.2,1245.1 1385.6,1247.6 1390.0,1250.1 1394.4,1252.6 1398.7,1255.1 1403.1,1257.6 1407.5,1260.1 1411.9,1262.6 1416.3,1265.1 1420.6,1267.5 1425.0,1270.0 1429.4,1272.4 1433.8,1274.9 1438.2,1277.3 1442.5,1279.7 1446.9,1282.1 1451.3,1284.5 1455.7,1286.9 1460.1,1289.2 1464.4,1291.6 1468.8,1294.0 1473.2,1296.3 1477.6,1298.7"/>
<line x1="247.3" y1="510.9" x2="368.9" y2="918.1" stroke="#1a1af2" stroke-width="2.3" />
<polyline fill="none" stroke="#1a1af2" stroke-width="2.2" points="368.9,537.4 372.8,538.5 376.7,539.5 380.6,540.4 384.5,541.4 388.5,542.3 392.4,543.2 396.3,544.0 400.2,544.8 404.1,545.6 408.0,546.4 411.9,547.1 415.8,547.8 419.7,548.5 423.6,549.2 427.5,549.8 431.4,550.4 435.3,551.0 439.2,551.6 443.1,552.2 447.1,552.7 451.0,553.2 454.9,553.7 458.8,554.2 462.7,554.6 466.6,555.1 470.5,555.5 474.4,555.9 478.3,556.3 482.2,556.7 486.1,557.0 490.0,557.4 493.9,557.7 497.8,558.0 501.8,558.4 505.7,558.7 509.6,558.9 513.5,559.2 517.4,559.5 521.3,559.8 525.2,560.0 529.1,560.2 533.0,560.5 536.9,560.7 540.8,560.9 544.7,561.1 548.6,561.3 552.5,561.5 556.4,561.7 560.4,561.8 564.3,562.0 568.2,562.2 572.1,562.3 576.0,562.5 579.9,562.6 583.8,562.7 587.7,562.9 591.6,563.0 595.5,563.1 599.4,563.2 603.3,563.3 607.2,563.5 611.1,563.6 615.1,563.7 619.0,563.8 622.9,563.8 626.8,563.9 630.7,564.0 634.6,564.1 638.5,564.2 642.4,564.2 646.3,564.3 650.2,564.4 654.1,564.5 658.0,564.5 661.9,564.6 665.8,564.6 669.7,564.7 673.7,564.7 677.6,564.8 681.5,564.8 685.4,564.9 689.3,564.9 693.2,565.0 697.1,565.0 701.0,565.1 704.9,565.1 708.8,565.1 712.7,565.2 716.6,565.2 720.5,565.2 724.4,565.3 728.3,565.3 732.3,565.3 736.2,565.4 740.1,565.4 744.0,565.4 747.9,565.4 751.8,565.5 755.7,565.5 759.6,565.5 763.5,565.5 767.4,565.6 771.3,565.6 775.2,565.6 779.1,565.6 783.0,565.6 787.0,565.6 790.9,565.7 794.8,565.7 798.7,565.7 802.6,565.7 806.5,565.7 810.4,565.7 814.3,565.7 818.2,565.8 822.1,565.8 826.0,565.8 829.9,565.8 833.8,565.8 837.7,565.8 841.6,565.8 845.6,565.8 849.5,565.8 853.4,565.8 857.3,565.9 861.2,565.9 865.1,565.9 869.0,565.9 872.9,565.9 876.8,565.9 880.7,565.9 884.6,565.9 888.5,565.9 892.4,565.9 896.3,565.9 900.3,565.9 904.2,565.9 908.1,565.9 912.0,565.9 915.9,565.9 919.8,565.9 923.7,565.9 927.6,566.0 931.5,566.0 935.4,566.0 939.3,566.0 943.2,566.0 947.1,566.0 951.0,566.0 954.9,566.0 958.9,566.0 962.8,566.0 966.7,566.0 970.6,566.0 974.5,566.0 978.4,566.0 982.3,566.0 986.2,566.0 990.1,566.0 994.0,566.0 997.9,566.0 1001.8,566.0 1005.7,566.0 1009.6,566.0 1013.5,566.0 1017.5,566.0 1021.4,566.0 1025.3,566.0 1029.2,566.0 1033.1,566.0 1037.0,566.0 1040.9,566.0 1044.8,566.0 1048.7,566.0 1052.6,566.0 1056.5,566.0 1060.4,566.0 1064.3,566.0 1068.2,566.0 1072.2,566.0 1076.1,566.0 1080.0,566.0 1083.9,566.0 1087.8,566.0 1091.7,566.0 1095.6,566.0 1099.5,566.0 1103.4,566.0 1107.3,566.0 1111.2,566.0 1115.1,566.0 1119.0,566.0 1122.9,566.0 1126.8,566.0 1130.8,566.0 1134.7,566.0 1138.6,566.0 1142.5,566.0 1146.4,566.0 1150.3,566.0 1154.2,566.0 1158.1,566.0 1162.0,566.0 1165.9,566.0 1169.8,566.0 1173.7,566.0 1177.6,566.0 1181.5,566.0 1185.5,566.0 1189.4,566.0 1193.3,566.0 1197.2,566.0 1201.1,566.0 1205.0,566.0 1208.9,566.0 1212.8,566.0 1216.7,566.0 1220.6,566.0 1224.5,566.0 1228.4,566.0 1232.3,566.0 1236.2,566.0 1240.1,566.0 1244.1,566.0 1248.0,566.0 1251.9,566.0 1255.8,566.0 1259.7,566.0 1263.6,566.0 1267.5,566.0 1271.4,566.0 1275.3,566.0 1279.2,566.0 1283.1,566.0 1287.0,566.0 1290.9,566.0 1294.8,566.0 1298.7,566.0 1302.7,566.0 1306.6,566.0 1310.5,566.0 1314.4,566.0 1318.3,566.0 1322.2,566.0 1326.1,566.0 1330.0,566.0 1333.9,566.0 1337.8,566.0 1341.7,566.0 1345.6,566.0 1349.5,566.0 1353.4,566.0 1357.4,566.0 1361.3,566.0 1365.2,566.0 1369.1,566.0 1373.0,566.0 1376.9,566.0 1380.8,566.0 1384.7,566.0"/>
<polyline fill="none" stroke="#1a1af2" stroke-width="2.2" points="368.9,557.6 372.8,558.7 376.7,559.9 380.6,561.0 384.5,562.0 388.5,563.0 392.4,564.0 396.3,565.0 400.2,565.9 404.1,566.8 408.0,567.7 411.9,568.5 415.8,569.3 419.7,570.1 423.6,570.9 427.5,571.6 431.4,572.3 435.3,573.0 439.2,573.6 443.1,574.3 447.1,574.9 451.0,575.5 454.9,576.0 458.8,576.6 462.7,577.1 466.6,577.6 470.5,578.1 474.4,578.5 478.3,579.0 482.2,579.4 486.1,579.9 490.0,580.3 493.9,580.6 497.8,581.0 501.8,581.4 505.7,581.7 509.6,582.1 513.5,582.4 517.4,582.7 521.3,583.0 525.2,583.3 529.1,583.6 533.0,583.8 536.9,584.1 540.8,584.3 544.7,584.5 548.6,584.8 552.5,585.0 556.4,585.2 560.4,585.4 564.3,585.6 568.2,585.8 572.1,586.0 576.0,586.1 579.9,586.3 583.8,586.5 587.7,586.6 591.6,586.8 595.5,586.9 599.4,587.0 603.3,587.2 607.2,587.3 611.1,587.4 615.1,587.5 619.0,587.6 622.9,587.7 626.8,587.8 630.7,587.9 634.6,588.0 638.5,588.1 642.4,588.2 646.3,588.3 650.2,588.4 654.1,588.4 658.0,588.5 661.9,588.6 665.8,588.7 669.7,588.7 673.7,588.8 677.6,588.8 681.5,588.9 685.4,589.0 689.3,589.0 693.2,589.1 697.1,589.1 701.0,589.2 704.9,589.2 708.8,589.2 712.7,589.3 716.6,589.3 720.5,589.4 724.4,589.4 728.3,589.4 732.3,589.5 736.2,589.5 740.1,589.5 744.0,589.6 747.9,589.6 751.8,589.6 755.7,589.7 759.6,589.7 763.5,589.7 767.4,589.7 771.3,589.8 775.2,589.8 779.1,589.8 783.0,589.8 787.0,589.8 790.9,589.9 794.8,589.9 798.7,589.9 802.6,589.9 806.5,589.9 810.4,589.9 814.3,589.9 818.2,590.0 822.1,590.0 826.0,590.0 829.9,590.0 833.8,590.0 837.7,590.0 841.6,590.0 845.6,590.0 849.5,590.1 853.4,590.1 857.3,590.1 861.2,590.1 865.1,590.1 869.0,590.1 872.9,590.1 876.8,590.1 880.7,590.1 884.6,590.1 888.5,590.1 892.4,590.1 896.3,590.1 900.3,590.2 904.2,590.2 908.1,590.2 912.0,590.2 915.9,590.2 919.8,590.2 923.7,590.2 927.6,590.2 931.5,590.2 935.4,590.2 939.3,590.2 943.2,590.2 947.1,590.2 951.0,590.2 954.9,590.2 958.9,590.2 962.8,590.2 966.7,590.2 970.6,590.2 974.5,590.2 978.4,590.2 982.3,590.2 986.2,590.2 990.1,590.2 994.0,590.2 997.9,590.2 1001.8,590.2 1005.7,590.2 1009.6,590.2 1013.5,590.2 1017.5,590.3 1021.4,590.3 1025.3,590.3 1029.2,590.3 1033.1,590.3 1037.0,590.3 1040.9,590.3 1044.8,590.3 1048.7,590.3 1052.6,590.3 1056.5,590.3 1060.4,590.3 1064.3,590.3 1068.2,590.3 1072.2,590.3 1076.1,590.3 1080.0,590.3 1083.9,590.3 1087.8,590.3 1091.7,590.3 1095.6,590.3 1099.5,590.3 1103.4,590.3 1107.3,590.3 1111.2,590.3 1115.1,590.3 1119.0,590.3 1122.9,590.3 1126.8,590.3 1130.8,590.3 1134.7,590.3 1138.6,590.3 1142.5,590.3 1146.4,590.3 1150.3,590.3 1154.2,590.3 1158.1,590.3 1162.0,590.3 1165.9,590.3 1169.8,590.3 1173.7,590.3 1177.6,590.3 1181.5,590.3 1185.5,590.3 1189.4,590.3 1193.3,590.3 1197.2,590.3 1201.1,590.3 1205.0,590.3 1208.9,590.3 1212.8,590.3 1216.7,590.3 1220.6,590.3 1224.5,590.3 1228.4,590.3 1232.3,590.3 1236.2,590.3 1240.1,590.3 1244.1,590.3 1248.0,590.3 1251.9,590.3 1255.8,590.3 1259.7,590.3 1263.6,590.3 1267.5,590.3 1271.4,590.3 1275.3,590.3 1279.2,590.3 1283.1,590.3 1287.0,590.3 1290.9,590.3 1294.8,590.3 1298.7,590.3 1302.7,590.3 1306.6,590.3 1310.5,590.3 1314.4,590.3 1318.3,590.3 1322.2,590.3 1326.1,590.3 1330.0,590.3 1333.9,590.3 1337.8,590.3 1341.7,590.3 1345.6,590.3 1349.5,590.3 1353.4,590.3 1357.4,590.3 1361.3,590.3 1365.2,590.3 1369.1,590.3 1373.0,590.3 1376.9,590.3 1380.8,590.3 1384.7,590.3"/>
<polyline fill="none" stroke="#1a1af2" stroke-width="2.2" points="368.9,579.6 372.8,580.9 376.7,582.2 380.6,583.5 384.5,584.7 388.5,585.9 392.4,587.0 396.3,588.1 400.2,589.2 404.1,590.2 408.0,591.2 411.9,592.2 415.8,593.1 419.7,594.0 423.6,594.9 427.5,595.8 431.4,596.6 435.3,597.4 439.2,598.1 443.1,598.9 447.1,599.6 451.0,600.3 454.9,600.9 458.8,601.6 462.7,602.2 466.6,602.8 470.5,603.3 474.4,603.9 478.3,604.4 482.2,604.9 486.1,605.4 490.0,605.9 493.9,606.4 497.8,606.8 501.8,607.2 505.7,607.6 509.6,608.0 513.5,608.4 517.4,608.8 521.3,609.1 525.2,609.5 529.1,609.8 533.0,610.1 536.9,610.4 540.8,610.7 544.7,611.0 548.6,611.2 552.5,611.5 556.4,611.8 560.4,612.0 564.3,612.2 568.2,612.4 572.1,612.7 576.0,612.9 579.9,613.1 583.8,613.2 587.7,613.4 591.6,613.6 595.5,613.8 599.4,613.9 603.3,614.1 607.2,614.2 611.1,614.4 615.1,614.5 619.0,614.6 622.9,614.8 626.8,614.9 630.7,615.0 634.6,615.1 638.5,615.2 642.4,615.3 646.3,615.4 650.2,615.5 654.1,615.6 658.0,615.7 661.9,615.8 665.8,615.9 669.7,616.0 673.7,616.0 677.6,616.1 681.5,616.2 685.4,616.2 689.3,616.3 693.2,616.4 697.1,616.4 701.0,616.5 704.9,616.5 708.8,616.6 712.7,616.6 716.6,616.7 720.5,616.7 724.4,616.8 728.3,616.8 732.3,616.9 736.2,616.9 740.1,616.9 744.0,617.0 747.9,617.0 751.8,617.0 755.7,617.1 759.6,617.1 763.5,617.1 767.4,617.2 771.3,617.2 775.2,617.2 779.1,617.2 783.0,617.3 787.0,617.3 790.9,617.3 794.8,617.3 798.7,617.3 802.6,617.4 806.5,617.4 810.4,617.4 814.3,617.4 818.2,617.4 822.1,617.5 826.0,617.5 829.9,617.5 833.8,617.5 837.7,617.5 841.6,617.5 845.6,617.5 849.5,617.5 853.4,617.6 857.3,617.6 861.2,617.6 865.1,617.6 869.0,617.6 872.9,617.6 876.8,617.6 880.7,617.6 884.6,617.6 888.5,617.6 892.4,617.7 896.3,617.7 900.3,617.7 904.2,617.7 908.1,617.7 912.0,617.7 915.9,617.7 919.8,617.7 923.7,617.7 927.6,617.7 931.5,617.7 935.4,617.7 939.3,617.7 943.2,617.7 947.1,617.7 951.0,617.7 954.9,617.7 958.9,617.7 962.8,617.7 966.7,617.7 970.6,617.8 974.5,617.8 978.4,617.8 982.3,617.8 986.2,617.8 990.1,617.8 994.0,617.8 997.9,617.8 1001.8,617.8 1005.7,617.8 1009.6,617.8 1013.5,617.8 1017.5,617.8 1021.4,617.8 1025.3,617.8 1029.2,617.8 1033.1,617.8 1037.0,617.8 1040.9,617.8 1044.8,617.8 1048.7,617.8 1052.6,617.8 1056.5,617.8 1060.4,617.8 1064.3,617.8 1068.2,617.8 1072.2,617.8 1076.1,617.8 1080.0,617.8 1083.9,617.8 1087.8,617.8 1091.7,617.8 1095.6,617.8 1099.5,617.8 1103.4,617.8 1107.3,617.8 1111.2,617.8 1115.1,617.8 1119.0,617.8 1122.9,617.8 1126.8,617.8 1130.8,617.8 1134.7,617.8 1138.6,617.8 1142.5,617.8 1146.4,617.8 1150.3,617.8 1154.2,617.8 1158.1,617.8 1162.0,617.8 1165.9,617.8 1169.8,617.8 1173.7,617.8 1177.6,617.8 1181.5,617.8 1185.5,617.8 1189.4,617.8 1193.3,617.8 1197.2,617.8 1201.1,617.8 1205.0,617.8 1208.9,617.8 1212.8,617.8 1216.7,617.8 1220.6,617.8 1224.5,617.8 1228.4,617.8 1232.3,617.8 1236.2,617.8 1240.1,617.8 1244.1,617.8 1248.0,617.8 1251.9,617.8 1255.8,617.8 1259.7,617.8 1263.6,617.8 1267.5,617.8 1271.4,617.8 1275.3,617.8 1279.2,617.8 1283.1,617.8 1287.0,617.8 1290.9,617.8 1294.8,617.8 1298.7,617.8 1302.7,617.8 1306.6,617.8 1310.5,617.8 1314.4,617.8 1318.3,617.8 1322.2,617.8 1326.1,617.8 1330.0,617.8 1333.9,617.8 1337.8,617.8 1341.7,617.8 1345.6,617.8 1349.5,617.8 1353.4,617.8 1357.4,617.8 1361.3,617.8 1365.2,617.8 1369.1,617.8 1373.0,617.8 1376.9,617.8 1380.8,617.8 1384.7,617.8"/>
<polyline fill="none" stroke="#1a1af2" stroke-width="2.2" points="368.9,591.5 372.8,592.9 376.7,594.3 380.6,595.7 384.5,597.0 388.5,598.3 392.4,599.5 396.3,600.7 400.2,601.9 404.1,603.0 408.0,604.1 411.9,605.1 415.8,606.1 419.7,607.1 423.6,608.1 427.5,609.0 431.4,609.9 435.3,610.7 439.2,611.6 443.1,612.4 447.1,613.1 451.0,613.9 454.9,614.6 458.8,615.3 462.7,616.0 466.6,616.6 470.5,617.2 474.4,617.8 478.3,618.4 482.2,619.0 486.1,619.5 490.0,620.1 493.9,620.6 497.8,621.0 501.8,621.5 505.7,622.0 509.6,622.4 513.5,622.8 517.4,623.2 521.3,623.6 525.2,624.0 529.1,624.3 533.0,624.7 536.9,625.0 540.8,625.3 544.7,625.6 548.6,625.9 552.5,626.2 556.4,626.5 560.4,626.8 564.3,627.0 568.2,627.2 572.1,627.5 576.0,627.7 579.9,627.9 583.8,628.1 587.7,628.3 591.6,628.5 595.5,628.7 599.4,628.9 603.3,629.1 607.2,629.2 611.1,629.4 615.1,629.5 619.0,629.7 622.9,629.8 626.8,630.0 630.7,630.1 634.6,630.2 638.5,630.3 642.4,630.4 646.3,630.6 650.2,630.7 654.1,630.8 658.0,630.9 661.9,631.0 665.8,631.0 669.7,631.1 673.7,631.2 677.6,631.3 681.5,631.4 685.4,631.4 689.3,631.5 693.2,631.6 697.1,631.7 701.0,631.7 704.9,631.8 708.8,631.8 712.7,631.9 716.6,631.9 720.5,632.0 724.4,632.0 728.3,632.1 732.3,632.1 736.2,632.2 740.1,632.2 744.0,632.3 747.9,632.3 751.8,632.3 755.7,632.4 759.6,632.4 763.5,632.4 767.4,632.5 771.3,632.5 775.2,632.5 779.1,632.6 783.0,632.6 787.0,632.6 790.9,632.6 794.8,632.7 798.7,632.7 802.6,632.7 806.5,632.7 810.4,632.7 814.3,632.8 818.2,632.8 822.1,632.8 826.0,632.8 829.9,632.8 833.8,632.8 837.7,632.9 841.6,632.9 845.6,632.9 849.5,632.9 853.4,632.9 857.3,632.9 861.2,632.9 865.1,633.0 869.0,633.0 872.9,633.0 876.8,633.0 880.7,633.0 884.6,633.0 888.5,633.0 892.4,633.0 896.3,633.0 900.3,633.0 904.2,633.0 908.1,633.0 912.0,633.1 915.9,633.1 919.8,633.1 923.7,633.1 927.6,633.1 931.5,633.1 935.4,633.1 939.3,633.1 943.2,633.1 947.1,633.1 951.0,633.1 954.9,633.1 958.9,633.1 962.8,633.1 966.7,633.1 970.6,633.1 974.5,633.1 978.4,633.1 982.3,633.1 986.2,633.1 990.1,633.1 994.0,633.2 997.9,633.2 1001.8,633.2 1005.7,633.2 1009.6,633.2 1013.5,633.2 1017.5,633.2 1021.4,633.2 1025.3,633.2 1029.2,633.2 1033.1,633.2 1037.0,633.2 1040.9,633.2 1044.8,633.2 1048.7,633.2 1052.6,633.2 1056.5,633.2 1060.4,633.2 1064.3,633.2 1068.2,633.2 1072.2,633.2 1076.1,633.2 1080.0,633.2 1083.9,633.2 1087.8,633.2 1091.7,633.2 1095.6,633.2 1099.5,633.2 1103.4,633.2 1107.3,633.2 1111.2,633.2 1115.1,633.2 1119.0,633.2 1122.9,633.2 1126.8,633.2 1130.8,633.2 1134.7,633.2 1138.6,633.2 1142.5,633.2 1146.4,633.2 1150.3,633.2 1154.2,633.2 1158.1,633.2 1162.0,633.2 1165.9,633.2 1169.8,633.2 1173.7,633.2 1177.6,633.2 1181.5,633.2 1185.5,633.2 1189.4,633.2 1193.3,633.2 1197.2,633.2 1201.1,633.2 1205.0,633.2 1208.9,633.2 1212.8,633.2 1216.7,633.2 1220.6,633.2 1224.5,633.2 1228.4,633.2 1232.3,633.2 1236.2,633.2 1240.1,633.2 1244.1,633.2 1248.0,633.2 1251.9,633.2 1255.8,633.2 1259.7,633.2 1263.6,633.2 1267.5,633.2 1271.4,633.2 1275.3,633.2 1279.2,633.2 1283.1,633.2 1287.0,633.2 1290.9,633.2 1294.8,633.2 1298.7,633.2 1302.7,633.2 1306.6,633.2 1310.5,633.2 1314.4,633.2 1318.3,633.2 1322.2,633.2 1326.1,633.2 1330.0,633.2 1333.9,633.2 1337.8,633.2 1341.7,633.2 1345.6,633.2 1349.5,633.2 1353.4,633.2 1357.4,633.2 1361.3,633.2 1365.2,633.2 1369.1,633.2 1373.0,633.2 1376.9,633.2 1380.8,633.2 1384.7,633.2"/>
<polyline fill="none" stroke="#1a1af2" stroke-width="2.2" points="368.9,604.1 372.8,605.6 376.7,607.1 380.6,608.6 384.5,610.0 388.5,611.4 392.4,612.7 396.3,614.0 400.2,615.3 404.1,616.5 408.0,617.7 411.9,618.9 415.8,620.0 419.7,621.0 423.6,622.1 427.5,623.1 431.4,624.1 435.3,625.0 439.2,625.9 443.1,626.8 447.1,627.6 451.0,628.5 454.9,629.3 458.8,630.0 462.7,630.8 466.6,631.5 470.5,632.2 474.4,632.9 478.3,633.5 482.2,634.1 486.1,634.7 490.0,635.3 493.9,635.9 497.8,636.4 501.8,636.9 505.7,637.4 509.6,637.9 513.5,638.4 517.4,638.8 521.3,639.2 525.2,639.6 529.1,640.0 533.0,640.4 536.9,640.8 540.8,641.2 544.7,641.5 548.6,641.8 552.5,642.1 556.4,642.5 560.4,642.7 564.3,643.0 568.2,643.3 572.1,643.6 576.0,643.8 579.9,644.1 583.8,644.3 587.7,644.5 591.6,644.7 595.5,644.9 599.4,645.1 603.3,645.3 607.2,645.5 611.1,645.7 615.1,645.9 619.0,646.0 622.9,646.2 626.8,646.3 630.7,646.5 634.6,646.6 638.5,646.8 642.4,646.9 646.3,647.0 650.2,647.1 654.1,647.2 658.0,647.3 661.9,647.5 665.8,647.6 669.7,647.6 673.7,647.7 677.6,647.8 681.5,647.9 685.4,648.0 689.3,648.1 693.2,648.2 697.1,648.2 701.0,648.3 704.9,648.4 708.8,648.4 712.7,648.5 716.6,648.6 720.5,648.6 724.4,648.7 728.3,648.7 732.3,648.8 736.2,648.8 740.1,648.9 744.0,648.9 747.9,649.0 751.8,649.0 755.7,649.0 759.6,649.1 763.5,649.1 767.4,649.1 771.3,649.2 775.2,649.2 779.1,649.2 783.0,649.3 787.0,649.3 790.9,649.3 794.8,649.4 798.7,649.4 802.6,649.4 806.5,649.4 810.4,649.5 814.3,649.5 818.2,649.5 822.1,649.5 826.0,649.5 829.9,649.6 833.8,649.6 837.7,649.6 841.6,649.6 845.6,649.6 849.5,649.6 853.4,649.7 857.3,649.7 861.2,649.7 865.1,649.7 869.0,649.7 872.9,649.7 876.8,649.7 880.7,649.7 884.6,649.7 888.5,649.8 892.4,649.8 896.3,649.8 900.3,649.8 904.2,649.8 908.1,649.8 912.0,649.8 915.9,649.8 919.8,649.8 923.7,649.8 927.6,649.8 931.5,649.8 935.4,649.8 939.3,649.9 943.2,649.9 947.1,649.9 951.0,649.9 954.9,649.9 958.9,649.9 962.8,649.9 966.7,649.9 970.6,649.9 974.5,649.9 978.4,649.9 982.3,649.9 986.2,649.9 990.1,649.9 994.0,649.9 997.9,649.9 1001.8,649.9 1005.7,649.9 1009.6,649.9 1013.5,649.9 1017.5,649.9 1021.4,649.9 1025.3,649.9 1029.2,649.9 1033.1,649.9 1037.0,649.9 1040.9,649.9 1044.8,649.9 1048.7,649.9 1052.6,650.0 1056.5,650.0 1060.4,650.0 1064.3,650.0 1068.2,650.0 1072.2,650.0 1076.1,650.0 1080.0,650.0 1083.9,650.0 1087.8,650.0 1091.7,650.0 1095.6,650.0 1099.5,650.0 1103.4,650.0 1107.3,650.0 1111.2,650.0 1115.1,650.0 1119.0,650.0 1122.9,650.0 1126.8,650.0 1130.8,650.0 1134.7,650.0 1138.6,650.0 1142.5,650.0 1146.4,650.0 1150.3,650.0 1154.2,650.0 1158.1,650.0 1162.0,650.0 1165.9,650.0 1169.8,650.0 1173.7,650.0 1177.6,650.0 1181.5,650.0 1185.5,650.0 1189.4,650.0 1193.3,650.0 1197.2,650.0 1201.1,650.0 1205.0,650.0 1208.9,650.0 1212.8,650.0 1216.7,650.0 1220.6,650.0 1224.5,650.0 1228.4,650.0 1232.3,650.0 1236.2,650.0 1240.1,650.0 1244.1,650.0 1248.0,650.0 1251.9,650.0 1255.8,650.0 1259.7,650.0 1263.6,650.0 1267.5,650.0 1271.4,650.0 1275.3,650.0 1279.2,650.0 1283.1,650.0 1287.0,650.0 1290.9,650.0 1294.8,650.0 1298.7,650.0 1302.7,650.0 1306.6,650.0 1310.5,650.0 1314.4,650.0 1318.3,650.0 1322.2,650.0 1326.1,650.0 1330.0,650.0 1333.9,650.0 1337.8,650.0 1341.7,650.0 1345.6,650.0 1349.5,650.0 1353.4,650.0 1357.4,650.0 1361.3,650.0 1365.2,650.0 1369.1,650.0 1373.0,650.0 1376.9,650.0 1380.8,650.0 1384.7,650.0"/>
<polyline fill="none" stroke="#1a1af2" stroke-width="2.2" points="368.9,617.4 372.8,619.1 376.7,620.8 380.6,622.4 384.5,623.9 388.5,625.4 392.4,626.9 396.3,628.3 400.2,629.7 404.1,631.0 408.0,632.3 411.9,633.6 415.8,634.8 419.7,636.0 423.6,637.2 427.5,638.3 431.4,639.4 435.3,640.4 439.2,641.4 443.1,642.4 447.1,643.3 451.0,644.2 454.9,645.1 458.8,646.0 462.7,646.8 466.6,647.6 470.5,648.4 474.4,649.1 478.3,649.8 482.2,650.5 486.1,651.2 490.0,651.9 493.9,652.5 497.8,653.1 501.8,653.7 505.7,654.2 509.6,654.8 513.5,655.3 517.4,655.8 521.3,656.3 525.2,656.7 529.1,657.2 533.0,657.6 536.9,658.0 540.8,658.5 544.7,658.8 548.6,659.2 552.5,659.6 556.4,659.9 560.4,660.2 564.3,660.6 568.2,660.9 572.1,661.2 576.0,661.5 579.9,661.7 583.8,662.0 587.7,662.3 591.6,662.5 595.5,662.7 599.4,663.0 603.3,663.2 607.2,663.4 611.1,663.6 615.1,663.8 619.0,664.0 622.9,664.1 626.8,664.3 630.7,664.5 634.6,664.6 638.5,664.8 642.4,664.9 646.3,665.1 650.2,665.2 654.1,665.3 658.0,665.5 661.9,665.6 665.8,665.7 669.7,665.8 673.7,665.9 677.6,666.0 681.5,666.1 685.4,666.2 689.3,666.3 693.2,666.4 697.1,666.5 701.0,666.6 704.9,666.6 708.8,666.7 712.7,666.8 716.6,666.8 720.5,666.9 724.4,667.0 728.3,667.0 732.3,667.1 736.2,667.2 740.1,667.2 744.0,667.3 747.9,667.3 751.8,667.4 755.7,667.4 759.6,667.4 763.5,667.5 767.4,667.5 771.3,667.6 775.2,667.6 779.1,667.6 783.0,667.7 787.0,667.7 790.9,667.7 794.8,667.8 798.7,667.8 802.6,667.8 806.5,667.8 810.4,667.9 814.3,667.9 818.2,667.9 822.1,667.9 826.0,668.0 829.9,668.0 833.8,668.0 837.7,668.0 841.6,668.0 845.6,668.1 849.5,668.1 853.4,668.1 857.3,668.1 861.2,668.1 865.1,668.1 869.0,668.2 872.9,668.2 876.8,668.2 880.7,668.2 884.6,668.2 888.5,668.2 892.4,668.2 896.3,668.2 900.3,668.3 904.2,668.3 908.1,668.3 912.0,668.3 915.9,668.3 919.8,668.3 923.7,668.3 927.6,668.3 931.5,668.3 935.4,668.3 939.3,668.3 943.2,668.3 947.1,668.3 951.0,668.3 954.9,668.4 958.9,668.4 962.8,668.4 966.7,668.4 970.6,668.4 974.5,668.4 978.4,668.4 982.3,668.4 986.2,668.4 990.1,668.4 994.0,668.4 997.9,668.4 1001.8,668.4 1005.7,668.4 1009.6,668.4 1013.5,668.4 1017.5,668.4 1021.4,668.4 1025.3,668.4 1029.2,668.4 1033.1,668.4 1037.0,668.4 1040.9,668.4 1044.8,668.4 1048.7,668.4 1052.6,668.4 1056.5,668.4 1060.4,668.4 1064.3,668.4 1068.2,668.4 1072.2,668.5 1076.1,668.5 1080.0,668.5 1083.9,668.5 1087.8,668.5 1091.7,668.5 1095.6,668.5 1099.5,668.5 1103.4,668.5 1107.3,668.5 1111.2,668.5 1115.1,668.5 1119.0,668.5 1122.9,668.5 1126.8,668.5 1130.8,668.5 1134.7,668.5 1138.6,668.5 1142.5,668.5 1146.4,668.5 1150.3,668.5 1154.2,668.5 1158.1,668.5 1162.0,668.5 1165.9,668.5 1169.8,668.5 1173.7,668.5 1177.6,668.5 1181.5,668.5 1185.5,668.5 1189.4,668.5 1193.3,668.5 1197.2,668.5 1201.1,668.5 1205.0,668.5 1208.9,668.5 1212.8,668.5 1216.7,668.5 1220.6,668.5 1224.5,668.5 1228.4,668.5 1232.3,668.5 1236.2,668.5 1240.1,668.5 1244.1,668.5 1248.0,668.5 1251.9,668.5 1255.8,668.5 1259.7,668.5 1263.6,668.5 1267.5,668.5 1271.4,668.5 1275.3,668.5 1279.2,668.5 1283.1,668.5 1287.0,668.5 1290.9,668.5 1294.8,668.5 1298.7,668.5 1302.7,668.5 1306.6,668.5 1310.5,668.5 1314.4,668.5 1318.3,668.5 1322.2,668.5 1326.1,668.5 1330.0,668.5 1333.9,668.5 1337.8,668.5 1341.7,668.5 1345.6,668.5 1349.5,668.5 1353.4,668.5 1357.4,668.5 1361.3,668.5 1365.2,668.5 1369.1,668.5 1373.0,668.5 1376.9,668.5 1380.8,668.5 1384.7,668.5"/>
<polyline fill="none" stroke="#1a1af2" stroke-width="2.2" points="368.9,631.7 372.8,633.5 376.7,635.3 380.6,637.1 384.5,638.8 388.5,640.5 392.4,642.1 396.3,643.7 400.2,645.2 404.1,646.7 408.0,648.1 411.9,649.5 415.8,650.9 419.7,652.2 423.6,653.5 427.5,654.7 431.4,655.9 435.3,657.1 439.2,658.2 443.1,659.3 447.1,660.4 451.0,661.4 454.9,662.4 458.8,663.4 462.7,664.3 466.6,665.2 470.5,666.1 474.4,666.9 478.3,667.8 482.2,668.6 486.1,669.3 490.0,670.1 493.9,670.8 497.8,671.4 501.8,672.1 505.7,672.8 509.6,673.4 513.5,674.0 517.4,674.5 521.3,675.1 525.2,675.6 529.1,676.1 533.0,676.6 536.9,677.1 540.8,677.6 544.7,678.0 548.6,678.5 552.5,678.9 556.4,679.3 560.4,679.6 564.3,680.0 568.2,680.4 572.1,680.7 576.0,681.0 579.9,681.4 583.8,681.7 587.7,682.0 591.6,682.2 595.5,682.5 599.4,682.8 603.3,683.0 607.2,683.3 611.1,683.5 615.1,683.7 619.0,683.9 622.9,684.1 626.8,684.3 630.7,684.5 634.6,684.7 638.5,684.9 642.4,685.1 646.3,685.2 650.2,685.4 654.1,685.5 658.0,685.7 661.9,685.8 665.8,686.0 669.7,686.1 673.7,686.2 677.6,686.3 681.5,686.4 685.4,686.5 689.3,686.7 693.2,686.8 697.1,686.9 701.0,686.9 704.9,687.0 708.8,687.1 712.7,687.2 716.6,687.3 720.5,687.4 724.4,687.4 728.3,687.5 732.3,687.6 736.2,687.6 740.1,687.7 744.0,687.8 747.9,687.8 751.8,687.9 755.7,687.9 759.6,688.0 763.5,688.0 767.4,688.1 771.3,688.1 775.2,688.2 779.1,688.2 783.0,688.2 787.0,688.3 790.9,688.3 794.8,688.4 798.7,688.4 802.6,688.4 806.5,688.4 810.4,688.5 814.3,688.5 818.2,688.5 822.1,688.6 826.0,688.6 829.9,688.6 833.8,688.6 837.7,688.7 841.6,688.7 845.6,688.7 849.5,688.7 853.4,688.7 857.3,688.8 861.2,688.8 865.1,688.8 869.0,688.8 872.9,688.8 876.8,688.8 880.7,688.9 884.6,688.9 888.5,688.9 892.4,688.9 896.3,688.9 900.3,688.9 904.2,688.9 908.1,688.9 912.0,688.9 915.9,689.0 919.8,689.0 923.7,689.0 927.6,689.0 931.5,689.0 935.4,689.0 939.3,689.0 943.2,689.0 947.1,689.0 951.0,689.0 954.9,689.0 958.9,689.0 962.8,689.1 966.7,689.1 970.6,689.1 974.5,689.1 978.4,689.1 982.3,689.1 986.2,689.1 990.1,689.1 994.0,689.1 997.9,689.1 1001.8,689.1 1005.7,689.1 1009.6,689.1 1013.5,689.1 1017.5,689.1 1021.4,689.1 1025.3,689.1 1029.2,689.1 1033.1,689.1 1037.0,689.1 1040.9,689.1 1044.8,689.1 1048.7,689.1 1052.6,689.1 1056.5,689.1 1060.4,689.1 1064.3,689.1 1068.2,689.1 1072.2,689.1 1076.1,689.2 1080.0,689.2 1083.9,689.2 1087.8,689.2 1091.7,689.2 1095.6,689.2 1099.5,689.2 1103.4,689.2 1107.3,689.2 1111.2,689.2 1115.1,689.2 1119.0,689.2 1122.9,689.2 1126.8,689.2 1130.8,689.2 1134.7,689.2 1138.6,689.2 1142.5,689.2 1146.4,689.2 1150.3,689.2 1154.2,689.2 1158.1,689.2 1162.0,689.2 1165.9,689.2 1169.8,689.2 1173.7,689.2 1177.6,689.2 1181.5,689.2 1185.5,689.2 1189.4,689.2 1193.3,689.2 1197.2,689.2 1201.1,689.2 1205.0,689.2 1208.9,689.2 1212.8,689.2 1216.7,689.2 1220.6,689.2 1224.5,689.2 1228.4,689.2 1232.3,689.2 1236.2,689.2 1240.1,689.2 1244.1,689.2 1248.0,689.2 1251.9,689.2 1255.8,689.2 1259.7,689.2 1263.6,689.2 1267.5,689.2 1271.4,689.2 1275.3,689.2 1279.2,689.2 1283.1,689.2 1287.0,689.2 1290.9,689.2 1294.8,689.2 1298.7,689.2 1302.7,689.2 1306.6,689.2 1310.5,689.2 1314.4,689.2 1318.3,689.2 1322.2,689.2 1326.1,689.2 1330.0,689.2 1333.9,689.2 1337.8,689.2 1341.7,689.2 1345.6,689.2 1349.5,689.2 1353.4,689.2 1357.4,689.2 1361.3,689.2 1365.2,689.2 1369.1,689.2 1373.0,689.2 1376.9,689.2 1380.8,689.2 1384.7,689.2"/>
<polyline fill="none" stroke="#1a1af2" stroke-width="2.2" points="368.9,647.0 372.8,649.1 376.7,651.1 380.6,653.0 384.5,654.9 388.5,656.8 392.4,658.6 396.3,660.3 400.2,662.0 404.1,663.7 408.0,665.3 411.9,666.9 415.8,668.4 419.7,669.9 423.6,671.4 427.5,672.8 431.4,674.1 435.3,675.5 439.2,676.8 443.1,678.0 447.1,679.2 451.0,680.4 454.9,681.5 458.8,682.6 462.7,683.7 466.6,684.7 470.5,685.7 474.4,686.7 478.3,687.7 482.2,688.6 486.1,689.4 490.0,690.3 493.9,691.1 497.8,691.9 501.8,692.7 505.7,693.4 509.6,694.2 513.5,694.8 517.4,695.5 521.3,696.2 525.2,696.8 529.1,697.4 533.0,698.0 536.9,698.5 540.8,699.1 544.7,699.6 548.6,700.1 552.5,700.6 556.4,701.1 560.4,701.5 564.3,701.9 568.2,702.4 572.1,702.8 576.0,703.1 579.9,703.5 583.8,703.9 587.7,704.2 591.6,704.6 595.5,704.9 599.4,705.2 603.3,705.5 607.2,705.8 611.1,706.1 615.1,706.3 619.0,706.6 622.9,706.8 626.8,707.1 630.7,707.3 634.6,707.5 638.5,707.7 642.4,707.9 646.3,708.1 650.2,708.3 654.1,708.5 658.0,708.6 661.9,708.8 665.8,709.0 669.7,709.1 673.7,709.3 677.6,709.4 681.5,709.5 685.4,709.7 689.3,709.8 693.2,709.9 697.1,710.0 701.0,710.2 704.9,710.3 708.8,710.4 712.7,710.5 716.6,710.6 720.5,710.6 724.4,710.7 728.3,710.8 732.3,710.9 736.2,711.0 740.1,711.1 744.0,711.1 747.9,711.2 751.8,711.3 755.7,711.3 759.6,711.4 763.5,711.4 767.4,711.5 771.3,711.6 775.2,711.6 779.1,711.7 783.0,711.7 787.0,711.7 790.9,711.8 794.8,711.8 798.7,711.9 802.6,711.9 806.5,711.9 810.4,712.0 814.3,712.0 818.2,712.1 822.1,712.1 826.0,712.1 829.9,712.1 833.8,712.2 837.7,712.2 841.6,712.2 845.6,712.3 849.5,712.3 853.4,712.3 857.3,712.3 861.2,712.3 865.1,712.4 869.0,712.4 872.9,712.4 876.8,712.4 880.7,712.4 884.6,712.5 888.5,712.5 892.4,712.5 896.3,712.5 900.3,712.5 904.2,712.5 908.1,712.5 912.0,712.5 915.9,712.6 919.8,712.6 923.7,712.6 927.6,712.6 931.5,712.6 935.4,712.6 939.3,712.6 943.2,712.6 947.1,712.6 951.0,712.6 954.9,712.7 958.9,712.7 962.8,712.7 966.7,712.7 970.6,712.7 974.5,712.7 978.4,712.7 982.3,712.7 986.2,712.7 990.1,712.7 994.0,712.7 997.9,712.7 1001.8,712.7 1005.7,712.7 1009.6,712.7 1013.5,712.7 1017.5,712.7 1021.4,712.8 1025.3,712.8 1029.2,712.8 1033.1,712.8 1037.0,712.8 1040.9,712.8 1044.8,712.8 1048.7,712.8 1052.6,712.8 1056.5,712.8 1060.4,712.8 1064.3,712.8 1068.2,712.8 1072.2,712.8 1076.1,712.8 1080.0,712.8 1083.9,712.8 1087.8,712.8 1091.7,712.8 1095.6,712.8 1099.5,712.8 1103.4,712.8 1107.3,712.8 1111.2,712.8 1115.1,712.8 1119.0,712.8 1122.9,712.8 1126.8,712.8 1130.8,712.8 1134.7,712.8 1138.6,712.8 1142.5,712.8 1146.4,712.8 1150.3,712.8 1154.2,712.8 1158.1,712.8 1162.0,712.8 1165.9,712.8 1169.8,712.8 1173.7,712.8 1177.6,712.8 1181.5,712.8 1185.5,712.8 1189.4,712.8 1193.3,712.8 1197.2,712.8 1201.1,712.8 1205.0,712.8 1208.9,712.8 1212.8,712.8 1216.7,712.8 1220.6,712.8 1224.5,712.8 1228.4,712.8 1232.3,712.8 1236.2,712.8 1240.1,712.8 1244.1,712.8 1248.0,712.8 1251.9,712.8 1255.8,712.8 1259.7,712.8 1263.6,712.8 1267.5,712.8 1271.4,712.8 1275.3,712.8 1279.2,712.8 1283.1,712.8 1287.0,712.8 1290.9,712.8 1294.8,712.8 1298.7,712.8 1302.7,712.8 1306.6,712.8 1310.5,712.8 1314.4,712.8 1318.3,712.8 1322.2,712.8 1326.1,712.8 1330.0,712.8 1333.9,712.8 1337.8,712.8 1341.7,712.8 1345.6,712.8 1349.5,712.8 1353.4,712.8 1357.4,712.8 1361.3,712.8 1365.2,712.8 1369.1,712.8 1373.0,712.8 1376.9,712.8 1380.8,712.8 1384.7,712.8"/>
<polyline fill="none" stroke="#1a1af2" stroke-width="2.2" points="368.9,663.6 372.8,665.9 376.7,668.1 380.6,670.3 384.5,672.4 388.5,674.5 392.4,676.6 396.3,678.5 400.2,680.5 404.1,682.4 408.0,684.2 411.9,686.0 415.8,687.8 419.7,689.5 423.6,691.1 427.5,692.8 431.4,694.3 435.3,695.9 439.2,697.4 443.1,698.8 447.1,700.2 451.0,701.6 454.9,702.9 458.8,704.2 462.7,705.5 466.6,706.7 470.5,707.9 474.4,709.0 478.3,710.1 482.2,711.2 486.1,712.2 490.0,713.2 493.9,714.2 497.8,715.2 501.8,716.1 505.7,717.0 509.6,717.8 513.5,718.6 517.4,719.5 521.3,720.2 525.2,721.0 529.1,721.7 533.0,722.4 536.9,723.1 540.8,723.7 544.7,724.4 548.6,725.0 552.5,725.6 556.4,726.1 560.4,726.7 564.3,727.2 568.2,727.7 572.1,728.2 576.0,728.7 579.9,729.1 583.8,729.6 587.7,730.0 591.6,730.4 595.5,730.8 599.4,731.2 603.3,731.5 607.2,731.9 611.1,732.2 615.1,732.6 619.0,732.9 622.9,733.2 626.8,733.5 630.7,733.7 634.6,734.0 638.5,734.3 642.4,734.5 646.3,734.8 650.2,735.0 654.1,735.2 658.0,735.4 661.9,735.6 665.8,735.8 669.7,736.0 673.7,736.2 677.6,736.4 681.5,736.5 685.4,736.7 689.3,736.9 693.2,737.0 697.1,737.2 701.0,737.3 704.9,737.4 708.8,737.6 712.7,737.7 716.6,737.8 720.5,737.9 724.4,738.0 728.3,738.1 732.3,738.2 736.2,738.3 740.1,738.4 744.0,738.5 747.9,738.6 751.8,738.7 755.7,738.7 759.6,738.8 763.5,738.9 767.4,739.0 771.3,739.0 775.2,739.1 779.1,739.2 783.0,739.2 787.0,739.3 790.9,739.3 794.8,739.4 798.7,739.4 802.6,739.5 806.5,739.5 810.4,739.6 814.3,739.6 818.2,739.7 822.1,739.7 826.0,739.7 829.9,739.8 833.8,739.8 837.7,739.8 841.6,739.9 845.6,739.9 849.5,739.9 853.4,740.0 857.3,740.0 861.2,740.0 865.1,740.0 869.0,740.1 872.9,740.1 876.8,740.1 880.7,740.1 884.6,740.2 888.5,740.2 892.4,740.2 896.3,740.2 900.3,740.2 904.2,740.2 908.1,740.3 912.0,740.3 915.9,740.3 919.8,740.3 923.7,740.3 927.6,740.3 931.5,740.3 935.4,740.4 939.3,740.4 943.2,740.4 947.1,740.4 951.0,740.4 954.9,740.4 958.9,740.4 962.8,740.4 966.7,740.4 970.6,740.4 974.5,740.5 978.4,740.5 982.3,740.5 986.2,740.5 990.1,740.5 994.0,740.5 997.9,740.5 1001.8,740.5 1005.7,740.5 1009.6,740.5 1013.5,740.5 1017.5,740.5 1021.4,740.5 1025.3,740.5 1029.2,740.5 1033.1,740.5 1037.0,740.5 1040.9,740.5 1044.8,740.6 1048.7,740.6 1052.6,740.6 1056.5,740.6 1060.4,740.6 1064.3,740.6 1068.2,740.6 1072.2,740.6 1076.1,740.6 1080.0,740.6 1083.9,740.6 1087.8,740.6 1091.7,740.6 1095.6,740.6 1099.5,740.6 1103.4,740.6 1107.3,740.6 1111.2,740.6 1115.1,740.6 1119.0,740.6 1122.9,740.6 1126.8,740.6 1130.8,740.6 1134.7,740.6 1138.6,740.6 1142.5,740.6 1146.4,740.6 1150.3,740.6 1154.2,740.6 1158.1,740.6 1162.0,740.6 1165.9,740.6 1169.8,740.6 1173.7,740.6 1177.6,740.6 1181.5,740.6 1185.5,740.6 1189.4,740.6 1193.3,740.6 1197.2,740.6 1201.1,740.6 1205.0,740.6 1208.9,740.6 1212.8,740.6 1216.7,740.6 1220.6,740.6 1224.5,740.6 1228.4,740.6 1232.3,740.6 1236.2,740.6 1240.1,740.6 1244.1,740.6 1248.0,740.6 1251.9,740.6 1255.8,740.6 1259.7,740.6 1263.6,740.6 1267.5,740.6 1271.4,740.6 1275.3,740.6 1279.2,740.6 1283.1,740.6 1287.0,740.6 1290.9,740.6 1294.8,740.6 1298.7,740.6 1302.7,740.6 1306.6,740.6 1310.5,740.6 1314.4,740.6 1318.3,740.6 1322.2,740.6 1326.1,740.6 1330.0,740.6 1333.9,740.6 1337.8,740.6 1341.7,740.6 1345.6,740.6 1349.5,740.6 1353.4,740.6 1357.4,740.6 1361.3,740.6 1365.2,740.6 1369.1,740.6 1373.0,740.6 1376.9,740.6 1380.8,740.6 1384.7,740.6"/>
<polyline fill="none" stroke="#1a1af2" stroke-width="2.2" points="368.9,672.4 372.8,674.9 376.7,677.2 380.6,679.6 384.5,681.8 388.5,684.1 392.4,686.2 396.3,688.4 400.2,690.4 404.1,692.5 408.0,694.4 411.9,696.4 415.8,698.3 419.7,700.1 423.6,701.9 427.5,703.6 431.4,705.4 435.3,707.0 439.2,708.6 443.1,710.2 447.1,711.7 451.0,713.2 454.9,714.7 458.8,716.1 462.7,717.5 466.6,718.8 470.5,720.1 474.4,721.3 478.3,722.5 482.2,723.7 486.1,724.9 490.0,726.0 493.9,727.1 497.8,728.1 501.8,729.1 505.7,730.1 509.6,731.1 513.5,732.0 517.4,732.9 521.3,733.7 525.2,734.6 529.1,735.4 533.0,736.1 536.9,736.9 540.8,737.6 544.7,738.3 548.6,739.0 552.5,739.7 556.4,740.3 560.4,740.9 564.3,741.5 568.2,742.1 572.1,742.6 576.0,743.2 579.9,743.7 583.8,744.2 587.7,744.6 591.6,745.1 595.5,745.5 599.4,746.0 603.3,746.4 607.2,746.8 611.1,747.2 615.1,747.5 619.0,747.9 622.9,748.2 626.8,748.6 630.7,748.9 634.6,749.2 638.5,749.5 642.4,749.7 646.3,750.0 650.2,750.3 654.1,750.5 658.0,750.8 661.9,751.0 665.8,751.2 669.7,751.4 673.7,751.7 677.6,751.9 681.5,752.0 685.4,752.2 689.3,752.4 693.2,752.6 697.1,752.7 701.0,752.9 704.9,753.0 708.8,753.2 712.7,753.3 716.6,753.5 720.5,753.6 724.4,753.7 728.3,753.8 732.3,754.0 736.2,754.1 740.1,754.2 744.0,754.3 747.9,754.4 751.8,754.5 755.7,754.5 759.6,754.6 763.5,754.7 767.4,754.8 771.3,754.9 775.2,754.9 779.1,755.0 783.0,755.1 787.0,755.2 790.9,755.2 794.8,755.3 798.7,755.3 802.6,755.4 806.5,755.4 810.4,755.5 814.3,755.5 818.2,755.6 822.1,755.6 826.0,755.7 829.9,755.7 833.8,755.8 837.7,755.8 841.6,755.8 845.6,755.9 849.5,755.9 853.4,755.9 857.3,756.0 861.2,756.0 865.1,756.0 869.0,756.1 872.9,756.1 876.8,756.1 880.7,756.1 884.6,756.2 888.5,756.2 892.4,756.2 896.3,756.2 900.3,756.2 904.2,756.3 908.1,756.3 912.0,756.3 915.9,756.3 919.8,756.3 923.7,756.3 927.6,756.4 931.5,756.4 935.4,756.4 939.3,756.4 943.2,756.4 947.1,756.4 951.0,756.4 954.9,756.4 958.9,756.5 962.8,756.5 966.7,756.5 970.6,756.5 974.5,756.5 978.4,756.5 982.3,756.5 986.2,756.5 990.1,756.5 994.0,756.5 997.9,756.5 1001.8,756.6 1005.7,756.6 1009.6,756.6 1013.5,756.6 1017.5,756.6 1021.4,756.6 1025.3,756.6 1029.2,756.6 1033.1,756.6 1037.0,756.6 1040.9,756.6 1044.8,756.6 1048.7,756.6 1052.6,756.6 1056.5,756.6 1060.4,756.6 1064.3,756.6 1068.2,756.6 1072.2,756.6 1076.1,756.6 1080.0,756.6 1083.9,756.6 1087.8,756.6 1091.7,756.7 1095.6,756.7 1099.5,756.7 1103.4,756.7 1107.3,756.7 1111.2,756.7 1115.1,756.7 1119.0,756.7 1122.9,756.7 1126.8,756.7 1130.8,756.7 1134.7,756.7 1138.6,756.7 1142.5,756.7 1146.4,756.7 1150.3,756.7 1154.2,756.7 1158.1,756.7 1162.0,756.7 1165.9,756.7 1169.8,756.7 1173.7,756.7 1177.6,756.7 1181.5,756.7 1185.5,756.7 1189.4,756.7 1193.3,756.7 1197.2,756.7 1201.1,756.7 1205.0,756.7 1208.9,756.7 1212.8,756.7 1216.7,756.7 1220.6,756.7 1224.5,756.7 1228.4,756.7 1232.3,756.7 1236.2,756.7 1240.1,756.7 1244.1,756.7 1248.0,756.7 1251.9,756.7 1255.8,756.7 1259.7,756.7 1263.6,756.7 1267.5,756.7 1271.4,756.7 1275.3,756.7 1279.2,756.7 1283.1,756.7 1287.0,756.7 1290.9,756.7 1294.8,756.7 1298.7,756.7 1302.7,756.7 1306.6,756.7 1310.5,756.7 1314.4,756.7 1318.3,756.7 1322.2,756.7 1326.1,756.7 1330.0,756.7 1333.9,756.7 1337.8,756.7 1341.7,756.7 1345.6,756.7 1349.5,756.7 1353.4,756.7 1357.4,756.7 1361.3,756.7 1365.2,756.7 1369.1,756.7 1373.0,756.7 1376.9,756.7 1380.8,756.7 1384.7,756.7"/>
<polyline fill="none" stroke="#1a1af2" stroke-width="2.2" points="368.9,681.7 372.8,684.3 376.7,686.8 380.6,689.3 384.5,691.7 388.5,694.1 392.4,696.4 396.3,698.7 400.2,701.0 404.1,703.1 408.0,705.3 411.9,707.4 415.8,709.4 419.7,711.4 423.6,713.3 427.5,715.3 431.4,717.1 435.3,718.9 439.2,720.7 443.1,722.4 447.1,724.1 451.0,725.7 454.9,727.3 458.8,728.9 462.7,730.4 466.6,731.8 470.5,733.3 474.4,734.7 478.3,736.0 482.2,737.3 486.1,738.6 490.0,739.8 493.9,741.0 497.8,742.2 501.8,743.3 505.7,744.4 509.6,745.5 513.5,746.5 517.4,747.5 521.3,748.5 525.2,749.4 529.1,750.3 533.0,751.2 536.9,752.1 540.8,752.9 544.7,753.7 548.6,754.4 552.5,755.2 556.4,755.9 560.4,756.6 564.3,757.3 568.2,757.9 572.1,758.6 576.0,759.2 579.9,759.7 583.8,760.3 587.7,760.8 591.6,761.4 595.5,761.9 599.4,762.4 603.3,762.8 607.2,763.3 611.1,763.7 615.1,764.2 619.0,764.6 622.9,764.9 626.8,765.3 630.7,765.7 634.6,766.0 638.5,766.4 642.4,766.7 646.3,767.0 650.2,767.3 654.1,767.6 658.0,767.9 661.9,768.2 665.8,768.4 669.7,768.7 673.7,768.9 677.6,769.1 681.5,769.4 685.4,769.6 689.3,769.8 693.2,770.0 697.1,770.2 701.0,770.3 704.9,770.5 708.8,770.7 712.7,770.8 716.6,771.0 720.5,771.1 724.4,771.3 728.3,771.4 732.3,771.6 736.2,771.7 740.1,771.8 744.0,771.9 747.9,772.0 751.8,772.2 755.7,772.3 759.6,772.4 763.5,772.5 767.4,772.5 771.3,772.6 775.2,772.7 779.1,772.8 783.0,772.9 787.0,773.0 790.9,773.0 794.8,773.1 798.7,773.2 802.6,773.2 806.5,773.3 810.4,773.4 814.3,773.4 818.2,773.5 822.1,773.5 826.0,773.6 829.9,773.6 833.8,773.7 837.7,773.7 841.6,773.7 845.6,773.8 849.5,773.8 853.4,773.9 857.3,773.9 861.2,773.9 865.1,774.0 869.0,774.0 872.9,774.0 876.8,774.1 880.7,774.1 884.6,774.1 888.5,774.1 892.4,774.2 896.3,774.2 900.3,774.2 904.2,774.2 908.1,774.3 912.0,774.3 915.9,774.3 919.8,774.3 923.7,774.3 927.6,774.4 931.5,774.4 935.4,774.4 939.3,774.4 943.2,774.4 947.1,774.4 951.0,774.5 954.9,774.5 958.9,774.5 962.8,774.5 966.7,774.5 970.6,774.5 974.5,774.5 978.4,774.5 982.3,774.5 986.2,774.6 990.1,774.6 994.0,774.6 997.9,774.6 1001.8,774.6 1005.7,774.6 1009.6,774.6 1013.5,774.6 1017.5,774.6 1021.4,774.6 1025.3,774.6 1029.2,774.6 1033.1,774.6 1037.0,774.6 1040.9,774.7 1044.8,774.7 1048.7,774.7 1052.6,774.7 1056.5,774.7 1060.4,774.7 1064.3,774.7 1068.2,774.7 1072.2,774.7 1076.1,774.7 1080.0,774.7 1083.9,774.7 1087.8,774.7 1091.7,774.7 1095.6,774.7 1099.5,774.7 1103.4,774.7 1107.3,774.7 1111.2,774.7 1115.1,774.7 1119.0,774.7 1122.9,774.7 1126.8,774.7 1130.8,774.7 1134.7,774.7 1138.6,774.7 1142.5,774.7 1146.4,774.7 1150.3,774.7 1154.2,774.7 1158.1,774.7 1162.0,774.7 1165.9,774.7 1169.8,774.7 1173.7,774.7 1177.6,774.7 1181.5,774.8 1185.5,774.8 1189.4,774.8 1193.3,774.8 1197.2,774.8 1201.1,774.8 1205.0,774.8 1208.9,774.8 1212.8,774.8 1216.7,774.8 1220.6,774.8 1224.5,774.8 1228.4,774.8 1232.3,774.8 1236.2,774.8 1240.1,774.8 1244.1,774.8 1248.0,774.8 1251.9,774.8 1255.8,774.8 1259.7,774.8 1263.6,774.8 1267.5,774.8 1271.4,774.8 1275.3,774.8 1279.2,774.8 1283.1,774.8 1287.0,774.8 1290.9,774.8 1294.8,774.8 1298.7,774.8 1302.7,774.8 1306.6,774.8 1310.5,774.8 1314.4,774.8 1318.3,774.8 1322.2,774.8 1326.1,774.8 1330.0,774.8 1333.9,774.8 1337.8,774.8 1341.7,774.8 1345.6,774.8 1349.5,774.8 1353.4,774.8 1357.4,774.8 1361.3,774.8 1365.2,774.8 1369.1,774.8 1373.0,774.8 1376.9,774.8 1380.8,774.8 1384.7,774.8"/>
<polyline fill="none" stroke="#1a1af2" stroke-width="2.2" points="368.9,691.4 372.8,694.2 376.7,696.9 380.6,699.5 384.5,702.2 388.5,704.7 392.4,707.2 396.3,709.7 400.2,712.1 404.1,714.5 408.0,716.8 411.9,719.1 415.8,721.3 419.7,723.5 423.6,725.6 427.5,727.7 431.4,729.7 435.3,731.7 439.2,733.7 443.1,735.6 447.1,737.4 451.0,739.2 454.9,741.0 458.8,742.7 462.7,744.4 466.6,746.0 470.5,747.6 474.4,749.2 478.3,750.7 482.2,752.2 486.1,753.6 490.0,755.0 493.9,756.3 497.8,757.6 501.8,758.9 505.7,760.2 509.6,761.4 513.5,762.5 517.4,763.7 521.3,764.8 525.2,765.9 529.1,766.9 533.0,767.9 536.9,768.9 540.8,769.8 544.7,770.7 548.6,771.6 552.5,772.5 556.4,773.3 560.4,774.1 564.3,774.9 568.2,775.6 572.1,776.4 576.0,777.1 579.9,777.7 583.8,778.4 587.7,779.0 591.6,779.7 595.5,780.2 599.4,780.8 603.3,781.4 607.2,781.9 611.1,782.4 615.1,782.9 619.0,783.4 622.9,783.8 626.8,784.3 630.7,784.7 634.6,785.1 638.5,785.5 642.4,785.9 646.3,786.3 650.2,786.6 654.1,787.0 658.0,787.3 661.9,787.6 665.8,787.9 669.7,788.2 673.7,788.5 677.6,788.8 681.5,789.0 685.4,789.3 689.3,789.5 693.2,789.8 697.1,790.0 701.0,790.2 704.9,790.4 708.8,790.6 712.7,790.8 716.6,791.0 720.5,791.2 724.4,791.3 728.3,791.5 732.3,791.7 736.2,791.8 740.1,792.0 744.0,792.1 747.9,792.2 751.8,792.4 755.7,792.5 759.6,792.6 763.5,792.7 767.4,792.8 771.3,792.9 775.2,793.0 779.1,793.1 783.0,793.2 787.0,793.3 790.9,793.4 794.8,793.5 798.7,793.6 802.6,793.6 806.5,793.7 810.4,793.8 814.3,793.9 818.2,793.9 822.1,794.0 826.0,794.0 829.9,794.1 833.8,794.2 837.7,794.2 841.6,794.3 845.6,794.3 849.5,794.4 853.4,794.4 857.3,794.5 861.2,794.5 865.1,794.5 869.0,794.6 872.9,794.6 876.8,794.6 880.7,794.7 884.6,794.7 888.5,794.7 892.4,794.8 896.3,794.8 900.3,794.8 904.2,794.9 908.1,794.9 912.0,794.9 915.9,794.9 919.8,795.0 923.7,795.0 927.6,795.0 931.5,795.0 935.4,795.0 939.3,795.1 943.2,795.1 947.1,795.1 951.0,795.1 954.9,795.1 958.9,795.1 962.8,795.2 966.7,795.2 970.6,795.2 974.5,795.2 978.4,795.2 982.3,795.2 986.2,795.2 990.1,795.2 994.0,795.3 997.9,795.3 1001.8,795.3 1005.7,795.3 1009.6,795.3 1013.5,795.3 1017.5,795.3 1021.4,795.3 1025.3,795.3 1029.2,795.3 1033.1,795.3 1037.0,795.3 1040.9,795.4 1044.8,795.4 1048.7,795.4 1052.6,795.4 1056.5,795.4 1060.4,795.4 1064.3,795.4 1068.2,795.4 1072.2,795.4 1076.1,795.4 1080.0,795.4 1083.9,795.4 1087.8,795.4 1091.7,795.4 1095.6,795.4 1099.5,795.4 1103.4,795.4 1107.3,795.4 1111.2,795.4 1115.1,795.4 1119.0,795.4 1122.9,795.4 1126.8,795.4 1130.8,795.4 1134.7,795.4 1138.6,795.4 1142.5,795.5 1146.4,795.5 1150.3,795.5 1154.2,795.5 1158.1,795.5 1162.0,795.5 1165.9,795.5 1169.8,795.5 1173.7,795.5 1177.6,795.5 1181.5,795.5 1185.5,795.5 1189.4,795.5 1193.3,795.5 1197.2,795.5 1201.1,795.5 1205.0,795.5 1208.9,795.5 1212.8,795.5 1216.7,795.5 1220.6,795.5 1224.5,795.5 1228.4,795.5 1232.3,795.5 1236.2,795.5 1240.1,795.5 1244.1,795.5 1248.0,795.5 1251.9,795.5 1255.8,795.5 1259.7,795.5 1263.6,795.5 1267.5,795.5 1271.4,795.5 1275.3,795.5 1279.2,795.5 1283.1,795.5 1287.0,795.5 1290.9,795.5 1294.8,795.5 1298.7,795.5 1302.7,795.5 1306.6,795.5 1310.5,795.5 1314.4,795.5 1318.3,795.5 1322.2,795.5 1326.1,795.5 1330.0,795.5 1333.9,795.5 1337.8,795.5 1341.7,795.5 1345.6,795.5 1349.5,795.5 1353.4,795.5 1357.4,795.5 1361.3,795.5 1365.2,795.5 1369.1,795.5 1373.0,795.5 1376.9,795.5 1380.8,795.5 1384.7,795.5"/>
<polyline fill="none" stroke="#1a1af2" stroke-width="2.2" points="368.9,701.6 372.8,704.6 376.7,707.5 380.6,710.4 384.5,713.2 388.5,716.0 392.4,718.7 396.3,721.4 400.2,724.0 404.1,726.6 408.0,729.1 411.9,731.6 415.8,734.1 419.7,736.5 423.6,738.8 427.5,741.1 431.4,743.3 435.3,745.6 439.2,747.7 443.1,749.8 447.1,751.9 451.0,753.9 454.9,755.9 458.8,757.8 462.7,759.7 466.6,761.6 470.5,763.4 474.4,765.1 478.3,766.8 482.2,768.5 486.1,770.2 490.0,771.7 493.9,773.3 497.8,774.8 501.8,776.3 505.7,777.7 509.6,779.1 513.5,780.5 517.4,781.8 521.3,783.1 525.2,784.3 529.1,785.5 533.0,786.7 536.9,787.8 540.8,788.9 544.7,790.0 548.6,791.1 552.5,792.1 556.4,793.1 560.4,794.0 564.3,794.9 568.2,795.8 572.1,796.7 576.0,797.5 579.9,798.3 583.8,799.1 587.7,799.9 591.6,800.6 595.5,801.3 599.4,802.0 603.3,802.7 607.2,803.3 611.1,803.9 615.1,804.5 619.0,805.1 622.9,805.6 626.8,806.2 630.7,806.7 634.6,807.2 638.5,807.7 642.4,808.1 646.3,808.6 650.2,809.0 654.1,809.4 658.0,809.8 661.9,810.2 665.8,810.6 669.7,811.0 673.7,811.3 677.6,811.6 681.5,812.0 685.4,812.3 689.3,812.6 693.2,812.9 697.1,813.1 701.0,813.4 704.9,813.7 708.8,813.9 712.7,814.1 716.6,814.4 720.5,814.6 724.4,814.8 728.3,815.0 732.3,815.2 736.2,815.4 740.1,815.6 744.0,815.7 747.9,815.9 751.8,816.1 755.7,816.2 759.6,816.4 763.5,816.5 767.4,816.7 771.3,816.8 775.2,816.9 779.1,817.0 783.0,817.1 787.0,817.3 790.9,817.4 794.8,817.5 798.7,817.6 802.6,817.7 806.5,817.8 810.4,817.8 814.3,817.9 818.2,818.0 822.1,818.1 826.0,818.2 829.9,818.2 833.8,818.3 837.7,818.4 841.6,818.4 845.6,818.5 849.5,818.6 853.4,818.6 857.3,818.7 861.2,818.7 865.1,818.8 869.0,818.8 872.9,818.9 876.8,818.9 880.7,819.0 884.6,819.0 888.5,819.0 892.4,819.1 896.3,819.1 900.3,819.1 904.2,819.2 908.1,819.2 912.0,819.2 915.9,819.3 919.8,819.3 923.7,819.3 927.6,819.4 931.5,819.4 935.4,819.4 939.3,819.4 943.2,819.4 947.1,819.5 951.0,819.5 954.9,819.5 958.9,819.5 962.8,819.5 966.7,819.6 970.6,819.6 974.5,819.6 978.4,819.6 982.3,819.6 986.2,819.6 990.1,819.7 994.0,819.7 997.9,819.7 1001.8,819.7 1005.7,819.7 1009.6,819.7 1013.5,819.7 1017.5,819.7 1021.4,819.7 1025.3,819.8 1029.2,819.8 1033.1,819.8 1037.0,819.8 1040.9,819.8 1044.8,819.8 1048.7,819.8 1052.6,819.8 1056.5,819.8 1060.4,819.8 1064.3,819.8 1068.2,819.8 1072.2,819.8 1076.1,819.8 1080.0,819.9 1083.9,819.9 1087.8,819.9 1091.7,819.9 1095.6,819.9 1099.5,819.9 1103.4,819.9 1107.3,819.9 1111.2,819.9 1115.1,819.9 1119.0,819.9 1122.9,819.9 1126.8,819.9 1130.8,819.9 1134.7,819.9 1138.6,819.9 1142.5,819.9 1146.4,819.9 1150.3,819.9 1154.2,819.9 1158.1,819.9 1162.0,819.9 1165.9,819.9 1169.8,819.9 1173.7,819.9 1177.6,819.9 1181.5,819.9 1185.5,819.9 1189.4,819.9 1193.3,819.9 1197.2,819.9 1201.1,819.9 1205.0,819.9 1208.9,819.9 1212.8,820.0 1216.7,820.0 1220.6,820.0 1224.5,820.0 1228.4,820.0 1232.3,820.0 1236.2,820.0 1240.1,820.0 1244.1,820.0 1248.0,820.0 1251.9,820.0 1255.8,820.0 1259.7,820.0 1263.6,820.0 1267.5,820.0 1271.4,820.0 1275.3,820.0 1279.2,820.0 1283.1,820.0 1287.0,820.0 1290.9,820.0 1294.8,820.0 1298.7,820.0 1302.7,820.0 1306.6,820.0 1310.5,820.0 1314.4,820.0 1318.3,820.0 1322.2,820.0 1326.1,820.0 1330.0,820.0 1333.9,820.0 1337.8,820.0 1341.7,820.0 1345.6,820.0 1349.5,820.0 1353.4,820.0 1357.4,820.0 1361.3,820.0 1365.2,820.0 1369.1,820.0 1373.0,820.0 1376.9,820.0 1380.8,820.0 1384.7,820.0"/>
<polyline fill="none" stroke="#1a1af2" stroke-width="2.2" points="368.9,710.3 372.8,713.4 376.7,716.5 380.6,719.6 384.5,722.6 388.5,725.5 392.4,728.4 396.3,731.3 400.2,734.1 404.1,736.9 408.0,739.7 411.9,742.4 415.8,745.0 419.7,747.6 423.6,750.1 427.5,752.6 431.4,755.1 435.3,757.5 439.2,759.9 443.1,762.2 447.1,764.5 451.0,766.7 454.9,768.9 458.8,771.1 462.7,773.2 466.6,775.2 470.5,777.2 474.4,779.2 478.3,781.1 482.2,783.0 486.1,784.8 490.0,786.6 493.9,788.4 497.8,790.1 501.8,791.8 505.7,793.4 509.6,795.0 513.5,796.5 517.4,798.0 521.3,799.5 525.2,800.9 529.1,802.3 533.0,803.7 536.9,805.0 540.8,806.3 544.7,807.5 548.6,808.8 552.5,809.9 556.4,811.1 560.4,812.2 564.3,813.3 568.2,814.3 572.1,815.3 576.0,816.3 579.9,817.3 583.8,818.2 587.7,819.1 591.6,820.0 595.5,820.8 599.4,821.6 603.3,822.4 607.2,823.2 611.1,823.9 615.1,824.6 619.0,825.3 622.9,826.0 626.8,826.6 630.7,827.3 634.6,827.9 638.5,828.4 642.4,829.0 646.3,829.5 650.2,830.1 654.1,830.6 658.0,831.1 661.9,831.5 665.8,832.0 669.7,832.4 673.7,832.9 677.6,833.3 681.5,833.7 685.4,834.0 689.3,834.4 693.2,834.7 697.1,835.1 701.0,835.4 704.9,835.7 708.8,836.0 712.7,836.3 716.6,836.6 720.5,836.9 724.4,837.1 728.3,837.4 732.3,837.6 736.2,837.8 740.1,838.1 744.0,838.3 747.9,838.5 751.8,838.7 755.7,838.9 759.6,839.1 763.5,839.2 767.4,839.4 771.3,839.6 775.2,839.7 779.1,839.9 783.0,840.0 787.0,840.2 790.9,840.3 794.8,840.4 798.7,840.6 802.6,840.7 806.5,840.8 810.4,840.9 814.3,841.0 818.2,841.1 822.1,841.2 826.0,841.3 829.9,841.4 833.8,841.5 837.7,841.6 841.6,841.6 845.6,841.7 849.5,841.8 853.4,841.9 857.3,841.9 861.2,842.0 865.1,842.0 869.0,842.1 872.9,842.2 876.8,842.2 880.7,842.3 884.6,842.3 888.5,842.4 892.4,842.4 896.3,842.5 900.3,842.5 904.2,842.6 908.1,842.6 912.0,842.6 915.9,842.7 919.8,842.7 923.7,842.7 927.6,842.8 931.5,842.8 935.4,842.8 939.3,842.9 943.2,842.9 947.1,842.9 951.0,842.9 954.9,843.0 958.9,843.0 962.8,843.0 966.7,843.0 970.6,843.1 974.5,843.1 978.4,843.1 982.3,843.1 986.2,843.1 990.1,843.1 994.0,843.2 997.9,843.2 1001.8,843.2 1005.7,843.2 1009.6,843.2 1013.5,843.2 1017.5,843.2 1021.4,843.3 1025.3,843.3 1029.2,843.3 1033.1,843.3 1037.0,843.3 1040.9,843.3 1044.8,843.3 1048.7,843.3 1052.6,843.3 1056.5,843.4 1060.4,843.4 1064.3,843.4 1068.2,843.4 1072.2,843.4 1076.1,843.4 1080.0,843.4 1083.9,843.4 1087.8,843.4 1091.7,843.4 1095.6,843.4 1099.5,843.4 1103.4,843.4 1107.3,843.4 1111.2,843.4 1115.1,843.4 1119.0,843.4 1122.9,843.5 1126.8,843.5 1130.8,843.5 1134.7,843.5 1138.6,843.5 1142.5,843.5 1146.4,843.5 1150.3,843.5 1154.2,843.5 1158.1,843.5 1162.0,843.5 1165.9,843.5 1169.8,843.5 1173.7,843.5 1177.6,843.5 1181.5,843.5 1185.5,843.5 1189.4,843.5 1193.3,843.5 1197.2,843.5 1201.1,843.5 1205.0,843.5 1208.9,843.5 1212.8,843.5 1216.7,843.5 1220.6,843.5 1224.5,843.5 1228.4,843.5 1232.3,843.5 1236.2,843.5 1240.1,843.5 1244.1,843.5 1248.0,843.5 1251.9,843.5 1255.8,843.5 1259.7,843.5 1263.6,843.5 1267.5,843.5 1271.4,843.5 1275.3,843.5 1279.2,843.5 1283.1,843.5 1287.0,843.5 1290.9,843.5 1294.8,843.5 1298.7,843.5 1302.7,843.5 1306.6,843.5 1310.5,843.5 1314.4,843.5 1318.3,843.5 1322.2,843.5 1326.1,843.5 1330.0,843.5 1333.9,843.5 1337.8,843.5 1341.7,843.5 1345.6,843.5 1349.5,843.5 1353.4,843.5 1357.4,843.5 1361.3,843.5 1365.2,843.5 1369.1,843.5 1373.0,843.5 1376.9,843.5 1380.8,843.5 1384.7,843.5"/>
<polyline fill="none" stroke="#1a1af2" stroke-width="2.2" points="368.9,719.3 372.8,722.6 376.7,725.9 380.6,729.2 384.5,732.4 388.5,735.6 392.4,738.7 396.3,741.8 400.2,744.9 404.1,747.9 408.0,750.9 411.9,753.8 415.8,756.7 419.7,759.5 423.6,762.3 427.5,765.1 431.4,767.8 435.3,770.4 439.2,773.0 443.1,775.6 447.1,778.2 451.0,780.6 454.9,783.1 458.8,785.5 462.7,787.8 466.6,790.2 470.5,792.4 474.4,794.7 478.3,796.8 482.2,799.0 486.1,801.1 490.0,803.1 493.9,805.1 497.8,807.1 501.8,809.0 505.7,810.9 509.6,812.8 513.5,814.6 517.4,816.3 521.3,818.1 525.2,819.7 529.1,821.4 533.0,823.0 536.9,824.6 540.8,826.1 544.7,827.6 548.6,829.0 552.5,830.4 556.4,831.8 560.4,833.1 564.3,834.4 568.2,835.7 572.1,836.9 576.0,838.1 579.9,839.3 583.8,840.4 587.7,841.5 591.6,842.6 595.5,843.6 599.4,844.6 603.3,845.6 607.2,846.6 611.1,847.5 615.1,848.4 619.0,849.2 622.9,850.1 626.8,850.9 630.7,851.7 634.6,852.4 638.5,853.1 642.4,853.9 646.3,854.5 650.2,855.2 654.1,855.8 658.0,856.5 661.9,857.1 665.8,857.6 669.7,858.2 673.7,858.7 677.6,859.3 681.5,859.8 685.4,860.3 689.3,860.7 693.2,861.2 697.1,861.6 701.0,862.0 704.9,862.4 708.8,862.8 712.7,863.2 716.6,863.6 720.5,863.9 724.4,864.3 728.3,864.6 732.3,864.9 736.2,865.2 740.1,865.5 744.0,865.8 747.9,866.0 751.8,866.3 755.7,866.5 759.6,866.8 763.5,867.0 767.4,867.2 771.3,867.4 775.2,867.7 779.1,867.9 783.0,868.0 787.0,868.2 790.9,868.4 794.8,868.6 798.7,868.7 802.6,868.9 806.5,869.0 810.4,869.2 814.3,869.3 818.2,869.5 822.1,869.6 826.0,869.7 829.9,869.8 833.8,869.9 837.7,870.1 841.6,870.2 845.6,870.3 849.5,870.4 853.4,870.4 857.3,870.5 861.2,870.6 865.1,870.7 869.0,870.8 872.9,870.9 876.8,870.9 880.7,871.0 884.6,871.1 888.5,871.1 892.4,871.2 896.3,871.3 900.3,871.3 904.2,871.4 908.1,871.4 912.0,871.5 915.9,871.5 919.8,871.6 923.7,871.6 927.6,871.7 931.5,871.7 935.4,871.7 939.3,871.8 943.2,871.8 947.1,871.9 951.0,871.9 954.9,871.9 958.9,872.0 962.8,872.0 966.7,872.0 970.6,872.0 974.5,872.1 978.4,872.1 982.3,872.1 986.2,872.1 990.1,872.2 994.0,872.2 997.9,872.2 1001.8,872.2 1005.7,872.2 1009.6,872.3 1013.5,872.3 1017.5,872.3 1021.4,872.3 1025.3,872.3 1029.2,872.3 1033.1,872.4 1037.0,872.4 1040.9,872.4 1044.8,872.4 1048.7,872.4 1052.6,872.4 1056.5,872.4 1060.4,872.5 1064.3,872.5 1068.2,872.5 1072.2,872.5 1076.1,872.5 1080.0,872.5 1083.9,872.5 1087.8,872.5 1091.7,872.5 1095.6,872.5 1099.5,872.5 1103.4,872.5 1107.3,872.6 1111.2,872.6 1115.1,872.6 1119.0,872.6 1122.9,872.6 1126.8,872.6 1130.8,872.6 1134.7,872.6 1138.6,872.6 1142.5,872.6 1146.4,872.6 1150.3,872.6 1154.2,872.6 1158.1,872.6 1162.0,872.6 1165.9,872.6 1169.8,872.6 1173.7,872.6 1177.6,872.6 1181.5,872.6 1185.5,872.6 1189.4,872.6 1193.3,872.6 1197.2,872.6 1201.1,872.7 1205.0,872.7 1208.9,872.7 1212.8,872.7 1216.7,872.7 1220.6,872.7 1224.5,872.7 1228.4,872.7 1232.3,872.7 1236.2,872.7 1240.1,872.7 1244.1,872.7 1248.0,872.7 1251.9,872.7 1255.8,872.7 1259.7,872.7 1263.6,872.7 1267.5,872.7 1271.4,872.7 1275.3,872.7 1279.2,872.7 1283.1,872.7 1287.0,872.7 1290.9,872.7 1294.8,872.7 1298.7,872.7 1302.7,872.7 1306.6,872.7 1310.5,872.7 1314.4,872.7 1318.3,872.7 1322.2,872.7 1326.1,872.7 1330.0,872.7 1333.9,872.7 1337.8,872.7 1341.7,872.7 1345.6,872.7 1349.5,872.7 1353.4,872.7 1357.4,872.7 1361.3,872.7 1365.2,872.7 1369.1,872.7 1373.0,872.7 1376.9,872.7 1380.8,872.7 1384.7,872.7"/>
<polyline fill="none" stroke="#1a1af2" stroke-width="2.2" points="368.9,728.8 372.8,732.3 376.7,735.9 380.6,739.4 384.5,742.9 388.5,746.3 392.4,749.7 396.3,753.0 400.2,756.4 404.1,759.6 408.0,762.9 411.9,766.1 415.8,769.2 419.7,772.4 423.6,775.4 427.5,778.5 431.4,781.5 435.3,784.4 439.2,787.4 443.1,790.3 447.1,793.1 451.0,795.9 454.9,798.7 458.8,801.4 462.7,804.1 466.6,806.7 470.5,809.3 474.4,811.9 478.3,814.4 482.2,816.9 486.1,819.3 490.0,821.7 493.9,824.1 497.8,826.4 501.8,828.7 505.7,830.9 509.6,833.1 513.5,835.3 517.4,837.4 521.3,839.4 525.2,841.5 529.1,843.5 533.0,845.4 536.9,847.3 540.8,849.2 544.7,851.0 548.6,852.8 552.5,854.6 556.4,856.3 560.4,858.0 564.3,859.6 568.2,861.2 572.1,862.8 576.0,864.3 579.9,865.8 583.8,867.2 587.7,868.6 591.6,870.0 595.5,871.4 599.4,872.7 603.3,873.9 607.2,875.2 611.1,876.4 615.1,877.6 619.0,878.7 622.9,879.8 626.8,880.9 630.7,881.9 634.6,883.0 638.5,883.9 642.4,884.9 646.3,885.8 650.2,886.7 654.1,887.6 658.0,888.4 661.9,889.3 665.8,890.1 669.7,890.8 673.7,891.6 677.6,892.3 681.5,893.0 685.4,893.7 689.3,894.3 693.2,895.0 697.1,895.6 701.0,896.2 704.9,896.7 708.8,897.3 712.7,897.8 716.6,898.3 720.5,898.8 724.4,899.3 728.3,899.8 732.3,900.2 736.2,900.7 740.1,901.1 744.0,901.5 747.9,901.9 751.8,902.2 755.7,902.6 759.6,902.9 763.5,903.3 767.4,903.6 771.3,903.9 775.2,904.2 779.1,904.5 783.0,904.8 787.0,905.0 790.9,905.3 794.8,905.5 798.7,905.8 802.6,906.0 806.5,906.2 810.4,906.4 814.3,906.6 818.2,906.8 822.1,907.0 826.0,907.2 829.9,907.4 833.8,907.5 837.7,907.7 841.6,907.9 845.6,908.0 849.5,908.2 853.4,908.3 857.3,908.4 861.2,908.6 865.1,908.7 869.0,908.8 872.9,908.9 876.8,909.0 880.7,909.1 884.6,909.2 888.5,909.3 892.4,909.4 896.3,909.5 900.3,909.6 904.2,909.7 908.1,909.7 912.0,909.8 915.9,909.9 919.8,910.0 923.7,910.0 927.6,910.1 931.5,910.2 935.4,910.2 939.3,910.3 943.2,910.3 947.1,910.4 951.0,910.4 954.9,910.5 958.9,910.5 962.8,910.6 966.7,910.6 970.6,910.7 974.5,910.7 978.4,910.7 982.3,910.8 986.2,910.8 990.1,910.8 994.0,910.9 997.9,910.9 1001.8,910.9 1005.7,911.0 1009.6,911.0 1013.5,911.0 1017.5,911.1 1021.4,911.1 1025.3,911.1 1029.2,911.1 1033.1,911.1 1037.0,911.2 1040.9,911.2 1044.8,911.2 1048.7,911.2 1052.6,911.2 1056.5,911.3 1060.4,911.3 1064.3,911.3 1068.2,911.3 1072.2,911.3 1076.1,911.3 1080.0,911.3 1083.9,911.4 1087.8,911.4 1091.7,911.4 1095.6,911.4 1099.5,911.4 1103.4,911.4 1107.3,911.4 1111.2,911.4 1115.1,911.4 1119.0,911.4 1122.9,911.5 1126.8,911.5 1130.8,911.5 1134.7,911.5 1138.6,911.5 1142.5,911.5 1146.4,911.5 1150.3,911.5 1154.2,911.5 1158.1,911.5 1162.0,911.5 1165.9,911.5 1169.8,911.5 1173.7,911.5 1177.6,911.5 1181.5,911.6 1185.5,911.6 1189.4,911.6 1193.3,911.6 1197.2,911.6 1201.1,911.6 1205.0,911.6 1208.9,911.6 1212.8,911.6 1216.7,911.6 1220.6,911.6 1224.5,911.6 1228.4,911.6 1232.3,911.6 1236.2,911.6 1240.1,911.6 1244.1,911.6 1248.0,911.6 1251.9,911.6 1255.8,911.6 1259.7,911.6 1263.6,911.6 1267.5,911.6 1271.4,911.6 1275.3,911.6 1279.2,911.6 1283.1,911.6 1287.0,911.6 1290.9,911.6 1294.8,911.6 1298.7,911.6 1302.7,911.6 1306.6,911.6 1310.5,911.6 1314.4,911.6 1318.3,911.6 1322.2,911.6 1326.1,911.6 1330.0,911.6 1333.9,911.6 1337.8,911.6 1341.7,911.6 1345.6,911.6 1349.5,911.6 1353.4,911.6 1357.4,911.6 1361.3,911.6 1365.2,911.6 1369.1,911.6 1373.0,911.6 1376.9,911.6 1380.8,911.6 1384.7,911.6"/>
<polyline fill="none" stroke="#1a1af2" stroke-width="2.2" points="368.9,733.7 372.8,737.4 376.7,741.1 380.6,744.7 384.5,748.3 388.5,751.9 392.4,755.4 396.3,758.9 400.2,762.4 404.1,765.8 408.0,769.2 411.9,772.6 415.8,775.9 419.7,779.2 423.6,782.4 427.5,785.6 431.4,788.8 435.3,791.9 439.2,795.0 443.1,798.1 447.1,801.1 451.0,804.1 454.9,807.1 458.8,810.0 462.7,812.9 466.6,815.7 470.5,818.5 474.4,821.3 478.3,824.0 482.2,826.7 486.1,829.4 490.0,832.0 493.9,834.6 497.8,837.1 501.8,839.6 505.7,842.1 509.6,844.5 513.5,846.9 517.4,849.2 521.3,851.5 525.2,853.8 529.1,856.0 533.0,858.2 536.9,860.3 540.8,862.4 544.7,864.5 548.6,866.5 552.5,868.5 556.4,870.5 560.4,872.4 564.3,874.3 568.2,876.1 572.1,877.9 576.0,879.7 579.9,881.4 583.8,883.1 587.7,884.7 591.6,886.3 595.5,887.9 599.4,889.4 603.3,890.9 607.2,892.4 611.1,893.8 615.1,895.2 619.0,896.6 622.9,897.9 626.8,899.2 630.7,900.5 634.6,901.7 638.5,902.9 642.4,904.0 646.3,905.2 650.2,906.3 654.1,907.3 658.0,908.4 661.9,909.4 665.8,910.3 669.7,911.3 673.7,912.2 677.6,913.1 681.5,914.0 685.4,914.8 689.3,915.6 693.2,916.4 697.1,917.2 701.0,917.9 704.9,918.6 708.8,919.3 712.7,920.0 716.6,920.6 720.5,921.3 724.4,921.9 728.3,922.5 732.3,923.0 736.2,923.6 740.1,924.1 744.0,924.6 747.9,925.1 751.8,925.6 755.7,926.1 759.6,926.5 763.5,926.9 767.4,927.4 771.3,927.7 775.2,928.1 779.1,928.5 783.0,928.9 787.0,929.2 790.9,929.5 794.8,929.9 798.7,930.2 802.6,930.5 806.5,930.8 810.4,931.0 814.3,931.3 818.2,931.6 822.1,931.8 826.0,932.0 829.9,932.3 833.8,932.5 837.7,932.7 841.6,932.9 845.6,933.1 849.5,933.3 853.4,933.5 857.3,933.6 861.2,933.8 865.1,934.0 869.0,934.1 872.9,934.3 876.8,934.4 880.7,934.6 884.6,934.7 888.5,934.8 892.4,934.9 896.3,935.1 900.3,935.2 904.2,935.3 908.1,935.4 912.0,935.5 915.9,935.6 919.8,935.7 923.7,935.8 927.6,935.8 931.5,935.9 935.4,936.0 939.3,936.1 943.2,936.2 947.1,936.2 951.0,936.3 954.9,936.4 958.9,936.4 962.8,936.5 966.7,936.5 970.6,936.6 974.5,936.6 978.4,936.7 982.3,936.7 986.2,936.8 990.1,936.8 994.0,936.9 997.9,936.9 1001.8,937.0 1005.7,937.0 1009.6,937.0 1013.5,937.1 1017.5,937.1 1021.4,937.1 1025.3,937.2 1029.2,937.2 1033.1,937.2 1037.0,937.3 1040.9,937.3 1044.8,937.3 1048.7,937.3 1052.6,937.4 1056.5,937.4 1060.4,937.4 1064.3,937.4 1068.2,937.4 1072.2,937.5 1076.1,937.5 1080.0,937.5 1083.9,937.5 1087.8,937.5 1091.7,937.5 1095.6,937.6 1099.5,937.6 1103.4,937.6 1107.3,937.6 1111.2,937.6 1115.1,937.6 1119.0,937.6 1122.9,937.6 1126.8,937.7 1130.8,937.7 1134.7,937.7 1138.6,937.7 1142.5,937.7 1146.4,937.7 1150.3,937.7 1154.2,937.7 1158.1,937.7 1162.0,937.7 1165.9,937.7 1169.8,937.8 1173.7,937.8 1177.6,937.8 1181.5,937.8 1185.5,937.8 1189.4,937.8 1193.3,937.8 1197.2,937.8 1201.1,937.8 1205.0,937.8 1208.9,937.8 1212.8,937.8 1216.7,937.8 1220.6,937.8 1224.5,937.8 1228.4,937.8 1232.3,937.8 1236.2,937.8 1240.1,937.8 1244.1,937.8 1248.0,937.8 1251.9,937.8 1255.8,937.9 1259.7,937.9 1263.6,937.9 1267.5,937.9 1271.4,937.9 1275.3,937.9 1279.2,937.9 1283.1,937.9 1287.0,937.9 1290.9,937.9 1294.8,937.9 1298.7,937.9 1302.7,937.9 1306.6,937.9 1310.5,937.9 1314.4,937.9 1318.3,937.9 1322.2,937.9 1326.1,937.9 1330.0,937.9 1333.9,937.9 1337.8,937.9 1341.7,937.9 1345.6,937.9 1349.5,937.9 1353.4,937.9 1357.4,937.9 1361.3,937.9 1365.2,937.9 1369.1,937.9 1373.0,937.9 1376.9,937.9 1380.8,937.9 1384.7,937.9"/>
<polyline fill="none" stroke="#1a1af2" stroke-width="2.2" points="368.9,738.7 372.8,742.6 376.7,746.4 380.6,750.2 384.5,753.9 388.5,757.7 392.4,761.3 396.3,765.0 400.2,768.6 404.1,772.2 408.0,775.8 411.9,779.3 415.8,782.8 419.7,786.3 423.6,789.7 427.5,793.1 431.4,796.5 435.3,799.8 439.2,803.1 443.1,806.4 447.1,809.6 451.0,812.8 454.9,816.0 458.8,819.1 462.7,822.3 466.6,825.3 470.5,828.4 474.4,831.4 478.3,834.3 482.2,837.3 486.1,840.2 490.0,843.1 493.9,845.9 497.8,848.7 501.8,851.5 505.7,854.2 509.6,856.9 513.5,859.6 517.4,862.2 521.3,864.8 525.2,867.3 529.1,869.8 533.0,872.3 536.9,874.8 540.8,877.2 544.7,879.5 548.6,881.9 552.5,884.2 556.4,886.4 560.4,888.7 564.3,890.9 568.2,893.0 572.1,895.1 576.0,897.2 579.9,899.2 583.8,901.3 587.7,903.2 591.6,905.2 595.5,907.0 599.4,908.9 603.3,910.7 607.2,912.5 611.1,914.3 615.1,916.0 619.0,917.6 622.9,919.3 626.8,920.9 630.7,922.5 634.6,924.0 638.5,925.5 642.4,926.9 646.3,928.4 650.2,929.8 654.1,931.1 658.0,932.5 661.9,933.8 665.8,935.0 669.7,936.2 673.7,937.4 677.6,938.6 681.5,939.7 685.4,940.9 689.3,941.9 693.2,943.0 697.1,944.0 701.0,945.0 704.9,945.9 708.8,946.9 712.7,947.8 716.6,948.6 720.5,949.5 724.4,950.3 728.3,951.1 732.3,951.9 736.2,952.7 740.1,953.4 744.0,954.1 747.9,954.8 751.8,955.4 755.7,956.1 759.6,956.7 763.5,957.3 767.4,957.9 771.3,958.4 775.2,959.0 779.1,959.5 783.0,960.0 787.0,960.5 790.9,961.0 794.8,961.4 798.7,961.9 802.6,962.3 806.5,962.7 810.4,963.1 814.3,963.5 818.2,963.8 822.1,964.2 826.0,964.5 829.9,964.9 833.8,965.2 837.7,965.5 841.6,965.8 845.6,966.1 849.5,966.3 853.4,966.6 857.3,966.9 861.2,967.1 865.1,967.3 869.0,967.6 872.9,967.8 876.8,968.0 880.7,968.2 884.6,968.4 888.5,968.6 892.4,968.8 896.3,968.9 900.3,969.1 904.2,969.3 908.1,969.4 912.0,969.6 915.9,969.7 919.8,969.8 923.7,970.0 927.6,970.1 931.5,970.2 935.4,970.3 939.3,970.4 943.2,970.6 947.1,970.7 951.0,970.8 954.9,970.9 958.9,970.9 962.8,971.0 966.7,971.1 970.6,971.2 974.5,971.3 978.4,971.4 982.3,971.4 986.2,971.5 990.1,971.6 994.0,971.6 997.9,971.7 1001.8,971.8 1005.7,971.8 1009.6,971.9 1013.5,971.9 1017.5,972.0 1021.4,972.0 1025.3,972.1 1029.2,972.1 1033.1,972.1 1037.0,972.2 1040.9,972.2 1044.8,972.3 1048.7,972.3 1052.6,972.3 1056.5,972.4 1060.4,972.4 1064.3,972.4 1068.2,972.5 1072.2,972.5 1076.1,972.5 1080.0,972.5 1083.9,972.6 1087.8,972.6 1091.7,972.6 1095.6,972.6 1099.5,972.7 1103.4,972.7 1107.3,972.7 1111.2,972.7 1115.1,972.7 1119.0,972.8 1122.9,972.8 1126.8,972.8 1130.8,972.8 1134.7,972.8 1138.6,972.8 1142.5,972.9 1146.4,972.9 1150.3,972.9 1154.2,972.9 1158.1,972.9 1162.0,972.9 1165.9,972.9 1169.8,972.9 1173.7,972.9 1177.6,973.0 1181.5,973.0 1185.5,973.0 1189.4,973.0 1193.3,973.0 1197.2,973.0 1201.1,973.0 1205.0,973.0 1208.9,973.0 1212.8,973.0 1216.7,973.0 1220.6,973.0 1224.5,973.0 1228.4,973.0 1232.3,973.1 1236.2,973.1 1240.1,973.1 1244.1,973.1 1248.0,973.1 1251.9,973.1 1255.8,973.1 1259.7,973.1 1263.6,973.1 1267.5,973.1 1271.4,973.1 1275.3,973.1 1279.2,973.1 1283.1,973.1 1287.0,973.1 1290.9,973.1 1294.8,973.1 1298.7,973.1 1302.7,973.1 1306.6,973.1 1310.5,973.1 1314.4,973.1 1318.3,973.1 1322.2,973.1 1326.1,973.1 1330.0,973.1 1333.9,973.1 1337.8,973.1 1341.7,973.1 1345.6,973.1 1349.5,973.1 1353.4,973.1 1357.4,973.1 1361.3,973.1 1365.2,973.1 1369.1,973.1 1373.0,973.2 1376.9,973.2 1380.8,973.2 1384.7,973.2"/>
<polyline fill="none" stroke="#1a1af2" stroke-width="2.2" points="478.2,839.7 481.7,842.4 485.2,845.2 488.7,847.9 492.1,850.5 495.6,853.2 499.1,855.8 502.6,858.4 506.1,861.0 509.6,863.5 513.1,866.1 516.5,868.6 520.0,871.0 523.5,873.5 527.0,875.9 530.5,878.3 534.0,880.6 537.5,883.0 541.0,885.3 544.4,887.6 547.9,889.8 551.4,892.1 554.9,894.3 558.4,896.4 561.9,898.6 565.4,900.7 568.8,902.8 572.3,904.9 575.8,906.9 579.3,908.9 582.8,910.9 586.3,912.8 589.8,914.8 593.2,916.7 596.7,918.5 600.2,920.4 603.7,922.2 607.2,924.0 610.7,925.7 614.2,927.5 617.7,929.2 621.1,930.8 624.6,932.5 628.1,934.1 631.6,935.7 635.1,937.2 638.6,938.8 642.1,940.3 645.5,941.7 649.0,943.2 652.5,944.6 656.0,946.0 659.5,947.4 663.0,948.7 666.5,950.0 670.0,951.3 673.4,952.5 676.9,953.8 680.4,955.0 683.9,956.2 687.4,957.3 690.9,958.4 694.4,959.5 697.8,960.6 701.3,961.7 704.8,962.7 708.3,963.7 711.8,964.7 715.3,965.6 718.8,966.6 722.3,967.5 725.7,968.4 729.2,969.2 732.7,970.1 736.2,970.9 739.7,971.7 743.2,972.5 746.7,973.2 750.1,974.0 753.6,974.7 757.1,975.4 760.6,976.1 764.1,976.7 767.6,977.4 771.1,978.0 774.6,978.6 778.0,979.2 781.5,979.8 785.0,980.3 788.5,980.9 792.0,981.4 795.5,981.9 799.0,982.4 802.4,982.9 805.9,983.4 809.4,983.8 812.9,984.2 816.4,984.7 819.9,985.1 823.4,985.5 826.8,985.9 830.3,986.2 833.8,986.6 837.3,987.0 840.8,987.3 844.3,987.6 847.8,987.9 851.3,988.3 854.7,988.6 858.2,988.8 861.7,989.1 865.2,989.4 868.7,989.7 872.2,989.9 875.7,990.2 879.1,990.4 882.6,990.6 886.1,990.8 889.6,991.1 893.1,991.3 896.6,991.5 900.1,991.7 903.6,991.9 907.0,992.0 910.5,992.2 914.0,992.4 917.5,992.5 921.0,992.7 924.5,992.9 928.0,993.0 931.4,993.1 934.9,993.3 938.4,993.4 941.9,993.5 945.4,993.7 948.9,993.8 952.4,993.9 955.9,994.0 959.3,994.1 962.8,994.2 966.3,994.3 969.8,994.4 973.3,994.5 976.8,994.6 980.3,994.7 983.7,994.8 987.2,994.9 990.7,994.9 994.2,995.0 997.7,995.1 1001.2,995.2 1004.7,995.2 1008.2,995.3 1011.6,995.3 1015.1,995.4 1018.6,995.5 1022.1,995.5 1025.6,995.6 1029.1,995.6 1032.6,995.7 1036.0,995.7 1039.5,995.8 1043.0,995.8 1046.5,995.9 1050.0,995.9 1053.5,996.0 1057.0,996.0 1060.4,996.0 1063.9,996.1 1067.4,996.1 1070.9,996.1 1074.4,996.2 1077.9,996.2 1081.4,996.2 1084.9,996.3 1088.3,996.3 1091.8,996.3 1095.3,996.3 1098.8,996.4 1102.3,996.4 1105.8,996.4 1109.3,996.4 1112.7,996.5 1116.2,996.5 1119.7,996.5 1123.2,996.5 1126.7,996.5 1130.2,996.6 1133.7,996.6 1137.2,996.6 1140.6,996.6 1144.1,996.6 1147.6,996.6 1151.1,996.7 1154.6,996.7 1158.1,996.7 1161.6,996.7 1165.0,996.7 1168.5,996.7 1172.0,996.7 1175.5,996.8 1179.0,996.8 1182.5,996.8 1186.0,996.8 1189.5,996.8 1192.9,996.8 1196.4,996.8 1199.9,996.8 1203.4,996.8 1206.9,996.8 1210.4,996.8 1213.9,996.9 1217.3,996.9 1220.8,996.9 1224.3,996.9 1227.8,996.9 1231.3,996.9 1234.8,996.9 1238.3,996.9 1241.8,996.9 1245.2,996.9 1248.7,996.9 1252.2,996.9 1255.7,996.9 1259.2,996.9 1262.7,996.9 1266.2,996.9 1269.6,996.9 1273.1,997.0 1276.6,997.0 1280.1,997.0 1283.6,997.0 1287.1,997.0 1290.6,997.0 1294.0,997.0 1297.5,997.0 1301.0,997.0 1304.5,997.0 1308.0,997.0 1311.5,997.0 1315.0,997.0 1318.5,997.0 1321.9,997.0 1325.4,997.0 1328.9,997.0 1332.4,997.0 1335.9,997.0 1339.4,997.0 1342.9,997.0 1346.3,997.0 1349.8,997.0 1353.3,997.0 1356.8,997.0 1360.3,997.0 1363.8,997.0 1367.3,997.0 1370.8,997.0 1374.2,997.0 1377.7,997.0 1381.2,997.0 1384.7,997.0"/>
<polyline fill="none" stroke="#1a1af2" stroke-width="2.2" points="368.9,744.0 372.8,747.9 376.7,751.9 380.6,755.8 384.5,759.7 388.5,763.6 392.4,767.5 396.3,771.3 400.2,775.1 404.1,778.9 408.0,782.6 411.9,786.3 415.8,790.0 419.7,793.7 423.6,797.3 427.5,800.9 431.4,804.5 435.3,808.1 439.2,811.6 443.1,815.1 447.1,818.6 451.0,822.0 454.9,825.5 458.8,828.9 462.7,832.2 466.6,835.6 470.5,838.9 474.4,842.2 478.3,845.4 482.2,848.7 486.1,851.9 490.0,855.1 493.9,858.2 497.8,861.3 501.8,864.4 505.7,867.5 509.6,870.5 513.5,873.5 517.4,876.5 521.3,879.5 525.2,882.4 529.1,885.3 533.0,888.1 536.9,891.0 540.8,893.8 544.7,896.6 548.6,899.3 552.5,902.0 556.4,904.7 560.4,907.3 564.3,910.0 568.2,912.6 572.1,915.1 576.0,917.6 579.9,920.1 583.8,922.6 587.7,925.0 591.6,927.4 595.5,929.8 599.4,932.2 603.3,934.5 607.2,936.7 611.1,939.0 615.1,941.2 619.0,943.4 622.9,945.5 626.8,947.6 630.7,949.7 634.6,951.7 638.5,953.7 642.4,955.7 646.3,957.6 650.2,959.5 654.1,961.4 658.0,963.3 661.9,965.1 665.8,966.8 669.7,968.6 673.7,970.3 677.6,972.0 681.5,973.6 685.4,975.2 689.3,976.8 693.2,978.3 697.1,979.8 701.0,981.3 704.9,982.7 708.8,984.1 712.7,985.5 716.6,986.8 720.5,988.2 724.4,989.4 728.3,990.7 732.3,991.9 736.2,993.1 740.1,994.3 744.0,995.4 747.9,996.5 751.8,997.6 755.7,998.6 759.6,999.6 763.5,1000.6 767.4,1001.6 771.3,1002.5 775.2,1003.4 779.1,1004.3 783.0,1005.1 787.0,1006.0 790.9,1006.8 794.8,1007.6 798.7,1008.3 802.6,1009.0 806.5,1009.8 810.4,1010.5 814.3,1011.1 818.2,1011.8 822.1,1012.4 826.0,1013.0 829.9,1013.6 833.8,1014.2 837.7,1014.7 841.6,1015.2 845.6,1015.8 849.5,1016.3 853.4,1016.7 857.3,1017.2 861.2,1017.6 865.1,1018.1 869.0,1018.5 872.9,1018.9 876.8,1019.3 880.7,1019.7 884.6,1020.0 888.5,1020.4 892.4,1020.7 896.3,1021.0 900.3,1021.4 904.2,1021.7 908.1,1021.9 912.0,1022.2 915.9,1022.5 919.8,1022.8 923.7,1023.0 927.6,1023.2 931.5,1023.5 935.4,1023.7 939.3,1023.9 943.2,1024.1 947.1,1024.3 951.0,1024.5 954.9,1024.7 958.9,1024.9 962.8,1025.1 966.7,1025.2 970.6,1025.4 974.5,1025.5 978.4,1025.7 982.3,1025.8 986.2,1026.0 990.1,1026.1 994.0,1026.2 997.9,1026.3 1001.8,1026.4 1005.7,1026.6 1009.6,1026.7 1013.5,1026.8 1017.5,1026.9 1021.4,1027.0 1025.3,1027.1 1029.2,1027.1 1033.1,1027.2 1037.0,1027.3 1040.9,1027.4 1044.8,1027.5 1048.7,1027.5 1052.6,1027.6 1056.5,1027.7 1060.4,1027.7 1064.3,1027.8 1068.2,1027.9 1072.2,1027.9 1076.1,1028.0 1080.0,1028.0 1083.9,1028.1 1087.8,1028.1 1091.7,1028.2 1095.6,1028.2 1099.5,1028.2 1103.4,1028.3 1107.3,1028.3 1111.2,1028.4 1115.1,1028.4 1119.0,1028.4 1122.9,1028.5 1126.8,1028.5 1130.8,1028.5 1134.7,1028.6 1138.6,1028.6 1142.5,1028.6 1146.4,1028.6 1150.3,1028.7 1154.2,1028.7 1158.1,1028.7 1162.0,1028.7 1165.9,1028.8 1169.8,1028.8 1173.7,1028.8 1177.6,1028.8 1181.5,1028.8 1185.5,1028.9 1189.4,1028.9 1193.3,1028.9 1197.2,1028.9 1201.1,1028.9 1205.0,1028.9 1208.9,1028.9 1212.8,1029.0 1216.7,1029.0 1220.6,1029.0 1224.5,1029.0 1228.4,1029.0 1232.3,1029.0 1236.2,1029.0 1240.1,1029.0 1244.1,1029.0 1248.0,1029.1 1251.9,1029.1 1255.8,1029.1 1259.7,1029.1 1263.6,1029.1 1267.5,1029.1 1271.4,1029.1 1275.3,1029.1 1279.2,1029.1 1283.1,1029.1 1287.0,1029.1 1290.9,1029.1 1294.8,1029.1 1298.7,1029.1 1302.7,1029.2 1306.6,1029.2 1310.5,1029.2 1314.4,1029.2 1318.3,1029.2 1322.2,1029.2 1326.1,1029.2 1330.0,1029.2 1333.9,1029.2 1337.8,1029.2 1341.7,1029.2 1345.6,1029.2 1349.5,1029.2 1353.4,1029.2 1357.4,1029.2 1361.3,1029.2 1365.2,1029.2 1369.1,1029.2 1373.0,1029.2 1376.9,1029.2 1380.8,1029.2 1384.7,1029.2"/>
<polyline fill="none" stroke="#1a1af2" stroke-width="2.2" points="533.4,891.8 536.7,894.3 540.0,896.7 543.2,899.1 546.5,901.5 549.8,903.9 553.0,906.3 556.3,908.6 559.6,910.9 562.9,913.2 566.1,915.5 569.4,917.7 572.7,920.0 576.0,922.2 579.2,924.4 582.5,926.5 585.8,928.7 589.1,930.8 592.3,932.9 595.6,935.0 598.9,937.1 602.2,939.1 605.4,941.1 608.7,943.1 612.0,945.1 615.3,947.1 618.5,949.0 621.8,950.9 625.1,952.8 628.4,954.7 631.6,956.5 634.9,958.4 638.2,960.2 641.5,962.0 644.7,963.7 648.0,965.5 651.3,967.2 654.6,968.9 657.8,970.5 661.1,972.2 664.4,973.8 667.6,975.4 670.9,977.0 674.2,978.5 677.5,980.0 680.7,981.5 684.0,983.0 687.3,984.5 690.6,985.9 693.8,987.3 697.1,988.7 700.4,990.1 703.7,991.4 706.9,992.8 710.2,994.1 713.5,995.3 716.8,996.6 720.0,997.8 723.3,999.0 726.6,1000.2 729.9,1001.4 733.1,1002.5 736.4,1003.7 739.7,1004.8 743.0,1005.8 746.2,1006.9 749.5,1007.9 752.8,1008.9 756.1,1009.9 759.3,1010.9 762.6,1011.9 765.9,1012.8 769.1,1013.7 772.4,1014.6 775.7,1015.5 779.0,1016.3 782.2,1017.2 785.5,1018.0 788.8,1018.8 792.1,1019.5 795.3,1020.3 798.6,1021.0 801.9,1021.8 805.2,1022.5 808.4,1023.2 811.7,1023.8 815.0,1024.5 818.3,1025.1 821.5,1025.7 824.8,1026.4 828.1,1026.9 831.4,1027.5 834.6,1028.1 837.9,1028.6 841.2,1029.2 844.5,1029.7 847.7,1030.2 851.0,1030.7 854.3,1031.1 857.6,1031.6 860.8,1032.1 864.1,1032.5 867.4,1032.9 870.6,1033.3 873.9,1033.7 877.2,1034.1 880.5,1034.5 883.7,1034.9 887.0,1035.2 890.3,1035.6 893.6,1035.9 896.8,1036.2 900.1,1036.6 903.4,1036.9 906.7,1037.2 909.9,1037.5 913.2,1037.7 916.5,1038.0 919.8,1038.3 923.0,1038.5 926.3,1038.8 929.6,1039.0 932.9,1039.3 936.1,1039.5 939.4,1039.7 942.7,1039.9 946.0,1040.1 949.2,1040.3 952.5,1040.5 955.8,1040.7 959.1,1040.9 962.3,1041.1 965.6,1041.2 968.9,1041.4 972.1,1041.6 975.4,1041.7 978.7,1041.9 982.0,1042.0 985.2,1042.2 988.5,1042.3 991.8,1042.4 995.1,1042.6 998.3,1042.7 1001.6,1042.8 1004.9,1042.9 1008.2,1043.0 1011.4,1043.1 1014.7,1043.3 1018.0,1043.4 1021.3,1043.5 1024.5,1043.5 1027.8,1043.6 1031.1,1043.7 1034.4,1043.8 1037.6,1043.9 1040.9,1044.0 1044.2,1044.1 1047.5,1044.1 1050.7,1044.2 1054.0,1044.3 1057.3,1044.3 1060.6,1044.4 1063.8,1044.5 1067.1,1044.5 1070.4,1044.6 1073.6,1044.7 1076.9,1044.7 1080.2,1044.8 1083.5,1044.8 1086.7,1044.9 1090.0,1044.9 1093.3,1045.0 1096.6,1045.0 1099.8,1045.1 1103.1,1045.1 1106.4,1045.1 1109.7,1045.2 1112.9,1045.2 1116.2,1045.3 1119.5,1045.3 1122.8,1045.3 1126.0,1045.4 1129.3,1045.4 1132.6,1045.4 1135.9,1045.5 1139.1,1045.5 1142.4,1045.5 1145.7,1045.5 1149.0,1045.6 1152.2,1045.6 1155.5,1045.6 1158.8,1045.6 1162.1,1045.7 1165.3,1045.7 1168.6,1045.7 1171.9,1045.7 1175.2,1045.8 1178.4,1045.8 1181.7,1045.8 1185.0,1045.8 1188.2,1045.8 1191.5,1045.8 1194.8,1045.9 1198.1,1045.9 1201.3,1045.9 1204.6,1045.9 1207.9,1045.9 1211.2,1045.9 1214.4,1045.9 1217.7,1046.0 1221.0,1046.0 1224.3,1046.0 1227.5,1046.0 1230.8,1046.0 1234.1,1046.0 1237.4,1046.0 1240.6,1046.0 1243.9,1046.0 1247.2,1046.1 1250.5,1046.1 1253.7,1046.1 1257.0,1046.1 1260.3,1046.1 1263.6,1046.1 1266.8,1046.1 1270.1,1046.1 1273.4,1046.1 1276.7,1046.1 1279.9,1046.1 1283.2,1046.1 1286.5,1046.1 1289.7,1046.2 1293.0,1046.2 1296.3,1046.2 1299.6,1046.2 1302.8,1046.2 1306.1,1046.2 1309.4,1046.2 1312.7,1046.2 1315.9,1046.2 1319.2,1046.2 1322.5,1046.2 1325.8,1046.2 1329.0,1046.2 1332.3,1046.2 1335.6,1046.2 1338.9,1046.2 1342.1,1046.2 1345.4,1046.2 1348.7,1046.2 1352.0,1046.2 1355.2,1046.2 1358.5,1046.2 1361.8,1046.2 1365.1,1046.3 1368.3,1046.3 1371.6,1046.3 1374.9,1046.3 1378.2,1046.3 1381.4,1046.3 1384.7,1046.3"/>
<polyline fill="none" stroke="#1a1af2" stroke-width="2.2" points="554.2,911.1 557.4,913.5 560.6,915.9 563.8,918.2 567.0,920.5 570.2,922.8 573.4,925.0 576.6,927.3 579.8,929.5 583.0,931.8 586.1,934.0 589.3,936.1 592.5,938.3 595.7,940.5 598.9,942.6 602.1,944.7 605.3,946.8 608.5,948.9 611.7,950.9 614.9,953.0 618.1,955.0 621.3,957.0 624.5,958.9 627.7,960.9 630.9,962.8 634.1,964.8 637.3,966.7 640.5,968.5 643.6,970.4 646.8,972.2 650.0,974.1 653.2,975.9 656.4,977.6 659.6,979.4 662.8,981.1 666.0,982.9 669.2,984.6 672.4,986.2 675.6,987.9 678.8,989.5 682.0,991.1 685.2,992.7 688.4,994.3 691.6,995.9 694.8,997.4 697.9,998.9 701.1,1000.4 704.3,1001.9 707.5,1003.3 710.7,1004.7 713.9,1006.1 717.1,1007.5 720.3,1008.9 723.5,1010.2 726.7,1011.5 729.9,1012.8 733.1,1014.1 736.3,1015.4 739.5,1016.6 742.7,1017.8 745.9,1019.0 749.1,1020.2 752.2,1021.3 755.4,1022.5 758.6,1023.6 761.8,1024.7 765.0,1025.7 768.2,1026.8 771.4,1027.8 774.6,1028.8 777.8,1029.8 781.0,1030.8 784.2,1031.8 787.4,1032.7 790.6,1033.6 793.8,1034.5 797.0,1035.4 800.2,1036.2 803.4,1037.1 806.5,1037.9 809.7,1038.7 812.9,1039.5 816.1,1040.2 819.3,1041.0 822.5,1041.7 825.7,1042.4 828.9,1043.1 832.1,1043.8 835.3,1044.5 838.5,1045.1 841.7,1045.8 844.9,1046.4 848.1,1047.0 851.3,1047.6 854.5,1048.2 857.7,1048.7 860.9,1049.3 864.0,1049.8 867.2,1050.3 870.4,1050.8 873.6,1051.3 876.8,1051.8 880.0,1052.3 883.2,1052.7 886.4,1053.2 889.6,1053.6 892.8,1054.0 896.0,1054.4 899.2,1054.8 902.4,1055.2 905.6,1055.6 908.8,1056.0 912.0,1056.3 915.2,1056.7 918.3,1057.0 921.5,1057.3 924.7,1057.7 927.9,1058.0 931.1,1058.3 934.3,1058.5 937.5,1058.8 940.7,1059.1 943.9,1059.4 947.1,1059.6 950.3,1059.9 953.5,1060.1 956.7,1060.4 959.9,1060.6 963.1,1060.8 966.3,1061.0 969.5,1061.2 972.6,1061.4 975.8,1061.6 979.0,1061.8 982.2,1062.0 985.4,1062.2 988.6,1062.4 991.8,1062.5 995.0,1062.7 998.2,1062.9 1001.4,1063.0 1004.6,1063.2 1007.8,1063.3 1011.0,1063.4 1014.2,1063.6 1017.4,1063.7 1020.6,1063.8 1023.8,1064.0 1026.9,1064.1 1030.1,1064.2 1033.3,1064.3 1036.5,1064.4 1039.7,1064.5 1042.9,1064.6 1046.1,1064.7 1049.3,1064.8 1052.5,1064.9 1055.7,1065.0 1058.9,1065.1 1062.1,1065.2 1065.3,1065.2 1068.5,1065.3 1071.7,1065.4 1074.9,1065.5 1078.1,1065.5 1081.3,1065.6 1084.4,1065.7 1087.6,1065.7 1090.8,1065.8 1094.0,1065.9 1097.2,1065.9 1100.4,1066.0 1103.6,1066.0 1106.8,1066.1 1110.0,1066.1 1113.2,1066.2 1116.4,1066.2 1119.6,1066.3 1122.8,1066.3 1126.0,1066.4 1129.2,1066.4 1132.4,1066.5 1135.6,1066.5 1138.7,1066.5 1141.9,1066.6 1145.1,1066.6 1148.3,1066.6 1151.5,1066.7 1154.7,1066.7 1157.9,1066.7 1161.1,1066.8 1164.3,1066.8 1167.5,1066.8 1170.7,1066.9 1173.9,1066.9 1177.1,1066.9 1180.3,1066.9 1183.5,1067.0 1186.7,1067.0 1189.9,1067.0 1193.0,1067.0 1196.2,1067.0 1199.4,1067.1 1202.6,1067.1 1205.8,1067.1 1209.0,1067.1 1212.2,1067.1 1215.4,1067.2 1218.6,1067.2 1221.8,1067.2 1225.0,1067.2 1228.2,1067.2 1231.4,1067.2 1234.6,1067.3 1237.8,1067.3 1241.0,1067.3 1244.2,1067.3 1247.3,1067.3 1250.5,1067.3 1253.7,1067.3 1256.9,1067.3 1260.1,1067.3 1263.3,1067.4 1266.5,1067.4 1269.7,1067.4 1272.9,1067.4 1276.1,1067.4 1279.3,1067.4 1282.5,1067.4 1285.7,1067.4 1288.9,1067.4 1292.1,1067.4 1295.3,1067.4 1298.5,1067.5 1301.7,1067.5 1304.8,1067.5 1308.0,1067.5 1311.2,1067.5 1314.4,1067.5 1317.6,1067.5 1320.8,1067.5 1324.0,1067.5 1327.2,1067.5 1330.4,1067.5 1333.6,1067.5 1336.8,1067.5 1340.0,1067.5 1343.2,1067.5 1346.4,1067.5 1349.6,1067.5 1352.8,1067.5 1356.0,1067.5 1359.1,1067.6 1362.3,1067.6 1365.5,1067.6 1368.7,1067.6 1371.9,1067.6 1375.1,1067.6 1378.3,1067.6 1381.5,1067.6 1384.7,1067.6"/>
<polyline fill="none" stroke="#1a1af2" stroke-width="2.2" points="478.2,852.4 481.7,855.5 485.2,858.5 488.7,861.6 492.1,864.6 495.6,867.6 499.1,870.6 502.6,873.5 506.1,876.5 509.6,879.4 513.1,882.3 516.5,885.2 520.0,888.1 523.5,890.9 527.0,893.8 530.5,896.6 534.0,899.4 537.5,902.2 541.0,905.0 544.4,907.7 547.9,910.5 551.4,913.2 554.9,915.9 558.4,918.6 561.9,921.2 565.4,923.9 568.8,926.5 572.3,929.1 575.8,931.7 579.3,934.2 582.8,936.8 586.3,939.3 589.8,941.8 593.2,944.3 596.7,946.8 600.2,949.3 603.7,951.7 607.2,954.1 610.7,956.5 614.2,958.9 617.7,961.2 621.1,963.6 624.6,965.9 628.1,968.2 631.6,970.5 635.1,972.7 638.6,975.0 642.1,977.2 645.5,979.4 649.0,981.6 652.5,983.7 656.0,985.8 659.5,987.9 663.0,990.0 666.5,992.1 670.0,994.1 673.4,996.2 676.9,998.2 680.4,1000.2 683.9,1002.1 687.4,1004.0 690.9,1006.0 694.4,1007.8 697.8,1009.7 701.3,1011.6 704.8,1013.4 708.3,1015.2 711.8,1016.9 715.3,1018.7 718.8,1020.4 722.3,1022.1 725.7,1023.8 729.2,1025.5 732.7,1027.1 736.2,1028.7 739.7,1030.3 743.2,1031.8 746.7,1033.4 750.1,1034.9 753.6,1036.4 757.1,1037.9 760.6,1039.3 764.1,1040.7 767.6,1042.1 771.1,1043.5 774.6,1044.8 778.0,1046.1 781.5,1047.4 785.0,1048.7 788.5,1050.0 792.0,1051.2 795.5,1052.4 799.0,1053.6 802.4,1054.7 805.9,1055.8 809.4,1057.0 812.9,1058.0 816.4,1059.1 819.9,1060.1 823.4,1061.2 826.8,1062.2 830.3,1063.1 833.8,1064.1 837.3,1065.0 840.8,1065.9 844.3,1066.8 847.8,1067.7 851.3,1068.5 854.7,1069.4 858.2,1070.2 861.7,1071.0 865.2,1071.7 868.7,1072.5 872.2,1073.2 875.7,1073.9 879.1,1074.6 882.6,1075.3 886.1,1075.9 889.6,1076.6 893.1,1077.2 896.6,1077.8 900.1,1078.4 903.6,1079.0 907.0,1079.5 910.5,1080.1 914.0,1080.6 917.5,1081.1 921.0,1081.6 924.5,1082.1 928.0,1082.6 931.4,1083.0 934.9,1083.5 938.4,1083.9 941.9,1084.3 945.4,1084.7 948.9,1085.1 952.4,1085.5 955.9,1085.8 959.3,1086.2 962.8,1086.5 966.3,1086.9 969.8,1087.2 973.3,1087.5 976.8,1087.8 980.3,1088.1 983.7,1088.4 987.2,1088.7 990.7,1088.9 994.2,1089.2 997.7,1089.5 1001.2,1089.7 1004.7,1089.9 1008.2,1090.2 1011.6,1090.4 1015.1,1090.6 1018.6,1090.8 1022.1,1091.0 1025.6,1091.2 1029.1,1091.4 1032.6,1091.6 1036.0,1091.7 1039.5,1091.9 1043.0,1092.1 1046.5,1092.2 1050.0,1092.4 1053.5,1092.5 1057.0,1092.7 1060.4,1092.8 1063.9,1092.9 1067.4,1093.1 1070.9,1093.2 1074.4,1093.3 1077.9,1093.4 1081.4,1093.5 1084.9,1093.6 1088.3,1093.7 1091.8,1093.8 1095.3,1093.9 1098.8,1094.0 1102.3,1094.1 1105.8,1094.2 1109.3,1094.3 1112.7,1094.4 1116.2,1094.4 1119.7,1094.5 1123.2,1094.6 1126.7,1094.7 1130.2,1094.7 1133.7,1094.8 1137.2,1094.9 1140.6,1094.9 1144.1,1095.0 1147.6,1095.0 1151.1,1095.1 1154.6,1095.1 1158.1,1095.2 1161.6,1095.2 1165.0,1095.3 1168.5,1095.3 1172.0,1095.4 1175.5,1095.4 1179.0,1095.5 1182.5,1095.5 1186.0,1095.5 1189.5,1095.6 1192.9,1095.6 1196.4,1095.6 1199.9,1095.7 1203.4,1095.7 1206.9,1095.7 1210.4,1095.8 1213.9,1095.8 1217.3,1095.8 1220.8,1095.9 1224.3,1095.9 1227.8,1095.9 1231.3,1095.9 1234.8,1096.0 1238.3,1096.0 1241.8,1096.0 1245.2,1096.0 1248.7,1096.0 1252.2,1096.1 1255.7,1096.1 1259.2,1096.1 1262.7,1096.1 1266.2,1096.1 1269.6,1096.1 1273.1,1096.2 1276.6,1096.2 1280.1,1096.2 1283.6,1096.2 1287.1,1096.2 1290.6,1096.2 1294.0,1096.2 1297.5,1096.2 1301.0,1096.3 1304.5,1096.3 1308.0,1096.3 1311.5,1096.3 1315.0,1096.3 1318.5,1096.3 1321.9,1096.3 1325.4,1096.3 1328.9,1096.3 1332.4,1096.3 1335.9,1096.4 1339.4,1096.4 1342.9,1096.4 1346.3,1096.4 1349.8,1096.4 1353.3,1096.4 1356.8,1096.4 1360.3,1096.4 1363.8,1096.4 1367.3,1096.4 1370.8,1096.4 1374.2,1096.4 1377.7,1096.4 1381.2,1096.4 1384.7,1096.4"/>
<polyline fill="none" stroke="#1a1af2" stroke-width="2.2" points="576.3,937.1 579.4,939.5 582.5,941.9 585.6,944.3 588.7,946.7 591.8,949.0 594.9,951.4 598.0,953.7 601.1,956.1 604.2,958.4 607.4,960.7 610.5,963.0 613.6,965.2 616.7,967.5 619.8,969.7 622.9,972.0 626.0,974.2 629.1,976.4 632.2,978.6 635.3,980.8 638.4,983.0 641.6,985.1 644.7,987.3 647.8,989.4 650.9,991.5 654.0,993.6 657.1,995.7 660.2,997.8 663.3,999.9 666.4,1001.9 669.5,1004.0 672.7,1006.0 675.8,1008.0 678.9,1010.0 682.0,1012.0 685.1,1014.0 688.2,1015.9 691.3,1017.9 694.4,1019.8 697.5,1021.7 700.6,1023.6 703.7,1025.5 706.9,1027.3 710.0,1029.2 713.1,1031.0 716.2,1032.9 719.3,1034.7 722.4,1036.5 725.5,1038.2 728.6,1040.0 731.7,1041.8 734.8,1043.5 737.9,1045.2 741.1,1046.9 744.2,1048.6 747.3,1050.3 750.4,1051.9 753.5,1053.6 756.6,1055.2 759.7,1056.8 762.8,1058.4 765.9,1059.9 769.0,1061.5 772.2,1063.0 775.3,1064.5 778.4,1066.1 781.5,1067.5 784.6,1069.0 787.7,1070.5 790.8,1071.9 793.9,1073.3 797.0,1074.7 800.1,1076.1 803.2,1077.5 806.4,1078.8 809.5,1080.1 812.6,1081.5 815.7,1082.8 818.8,1084.0 821.9,1085.3 825.0,1086.5 828.1,1087.8 831.2,1089.0 834.3,1090.2 837.4,1091.3 840.6,1092.5 843.7,1093.6 846.8,1094.7 849.9,1095.8 853.0,1096.9 856.1,1098.0 859.2,1099.0 862.3,1100.1 865.4,1101.1 868.5,1102.1 871.7,1103.1 874.8,1104.0 877.9,1105.0 881.0,1105.9 884.1,1106.8 887.2,1107.7 890.3,1108.6 893.4,1109.4 896.5,1110.3 899.6,1111.1 902.7,1111.9 905.9,1112.7 909.0,1113.5 912.1,1114.2 915.2,1115.0 918.3,1115.7 921.4,1116.4 924.5,1117.1 927.6,1117.8 930.7,1118.5 933.8,1119.1 936.9,1119.8 940.1,1120.4 943.2,1121.0 946.3,1121.6 949.4,1122.2 952.5,1122.8 955.6,1123.3 958.7,1123.9 961.8,1124.4 964.9,1124.9 968.0,1125.5 971.2,1126.0 974.3,1126.4 977.4,1126.9 980.5,1127.4 983.6,1127.8 986.7,1128.2 989.8,1128.7 992.9,1129.1 996.0,1129.5 999.1,1129.9 1002.2,1130.3 1005.4,1130.6 1008.5,1131.0 1011.6,1131.4 1014.7,1131.7 1017.8,1132.0 1020.9,1132.4 1024.0,1132.7 1027.1,1133.0 1030.2,1133.3 1033.3,1133.6 1036.4,1133.9 1039.6,1134.2 1042.7,1134.4 1045.8,1134.7 1048.9,1134.9 1052.0,1135.2 1055.1,1135.4 1058.2,1135.7 1061.3,1135.9 1064.4,1136.1 1067.5,1136.3 1070.7,1136.5 1073.8,1136.7 1076.9,1136.9 1080.0,1137.1 1083.1,1137.3 1086.2,1137.5 1089.3,1137.6 1092.4,1137.8 1095.5,1138.0 1098.6,1138.1 1101.7,1138.3 1104.9,1138.4 1108.0,1138.6 1111.1,1138.7 1114.2,1138.9 1117.3,1139.0 1120.4,1139.1 1123.5,1139.3 1126.6,1139.4 1129.7,1139.5 1132.8,1139.6 1135.9,1139.7 1139.1,1139.8 1142.2,1139.9 1145.3,1140.0 1148.4,1140.1 1151.5,1140.2 1154.6,1140.3 1157.7,1140.4 1160.8,1140.5 1163.9,1140.6 1167.0,1140.6 1170.2,1140.7 1173.3,1140.8 1176.4,1140.9 1179.5,1140.9 1182.6,1141.0 1185.7,1141.1 1188.8,1141.1 1191.9,1141.2 1195.0,1141.3 1198.1,1141.3 1201.2,1141.4 1204.4,1141.4 1207.5,1141.5 1210.6,1141.6 1213.7,1141.6 1216.8,1141.6 1219.9,1141.7 1223.0,1141.7 1226.1,1141.8 1229.2,1141.8 1232.3,1141.9 1235.4,1141.9 1238.6,1142.0 1241.7,1142.0 1244.8,1142.0 1247.9,1142.1 1251.0,1142.1 1254.1,1142.1 1257.2,1142.2 1260.3,1142.2 1263.4,1142.2 1266.5,1142.3 1269.7,1142.3 1272.8,1142.3 1275.9,1142.3 1279.0,1142.4 1282.1,1142.4 1285.2,1142.4 1288.3,1142.4 1291.4,1142.5 1294.5,1142.5 1297.6,1142.5 1300.7,1142.5 1303.9,1142.5 1307.0,1142.6 1310.1,1142.6 1313.2,1142.6 1316.3,1142.6 1319.4,1142.6 1322.5,1142.6 1325.6,1142.7 1328.7,1142.7 1331.8,1142.7 1334.9,1142.7 1338.1,1142.7 1341.2,1142.7 1344.3,1142.7 1347.4,1142.8 1350.5,1142.8 1353.6,1142.8 1356.7,1142.8 1359.8,1142.8 1362.9,1142.8 1366.0,1142.8 1369.2,1142.8 1372.3,1142.8 1375.4,1142.9 1378.5,1142.9 1381.6,1142.9 1384.7,1142.9"/>
<polyline fill="none" stroke="#1a1af2" stroke-width="2.2" points="654.3,998.7 657.1,1000.7 659.9,1002.6 662.7,1004.6 665.5,1006.6 668.3,1008.5 671.1,1010.5 674.0,1012.4 676.8,1014.4 679.6,1016.3 682.4,1018.2 685.2,1020.1 688.0,1022.0 690.8,1023.9 693.6,1025.8 696.4,1027.6 699.2,1029.5 702.0,1031.4 704.9,1033.2 707.7,1035.0 710.5,1036.9 713.3,1038.7 716.1,1040.5 718.9,1042.3 721.7,1044.0 724.5,1045.8 727.3,1047.6 730.1,1049.3 733.0,1051.1 735.8,1052.8 738.6,1054.5 741.4,1056.3 744.2,1058.0 747.0,1059.7 749.8,1061.3 752.6,1063.0 755.4,1064.7 758.2,1066.3 761.0,1068.0 763.9,1069.6 766.7,1071.2 769.5,1072.8 772.3,1074.4 775.1,1076.0 777.9,1077.6 780.7,1079.2 783.5,1080.7 786.3,1082.3 789.1,1083.8 791.9,1085.3 794.8,1086.8 797.6,1088.3 800.4,1089.8 803.2,1091.3 806.0,1092.8 808.8,1094.2 811.6,1095.6 814.4,1097.1 817.2,1098.5 820.0,1099.9 822.8,1101.3 825.7,1102.7 828.5,1104.0 831.3,1105.4 834.1,1106.7 836.9,1108.1 839.7,1109.4 842.5,1110.7 845.3,1112.0 848.1,1113.3 850.9,1114.5 853.7,1115.8 856.6,1117.0 859.4,1118.3 862.2,1119.5 865.0,1120.7 867.8,1121.9 870.6,1123.0 873.4,1124.2 876.2,1125.4 879.0,1126.5 881.8,1127.6 884.7,1128.7 887.5,1129.8 890.3,1130.9 893.1,1132.0 895.9,1133.0 898.7,1134.1 901.5,1135.1 904.3,1136.1 907.1,1137.1 909.9,1138.1 912.7,1139.1 915.6,1140.0 918.4,1141.0 921.2,1141.9 924.0,1142.8 926.8,1143.8 929.6,1144.6 932.4,1145.5 935.2,1146.4 938.0,1147.3 940.8,1148.1 943.6,1148.9 946.5,1149.7 949.3,1150.5 952.1,1151.3 954.9,1152.1 957.7,1152.9 960.5,1153.6 963.3,1154.4 966.1,1155.1 968.9,1155.8 971.7,1156.5 974.5,1157.2 977.4,1157.9 980.2,1158.5 983.0,1159.2 985.8,1159.8 988.6,1160.4 991.4,1161.0 994.2,1161.6 997.0,1162.2 999.8,1162.8 1002.6,1163.4 1005.4,1163.9 1008.3,1164.5 1011.1,1165.0 1013.9,1165.5 1016.7,1166.1 1019.5,1166.6 1022.3,1167.1 1025.1,1167.5 1027.9,1168.0 1030.7,1168.5 1033.5,1168.9 1036.4,1169.4 1039.2,1169.8 1042.0,1170.2 1044.8,1170.6 1047.6,1171.0 1050.4,1171.4 1053.2,1171.8 1056.0,1172.2 1058.8,1172.6 1061.6,1172.9 1064.4,1173.3 1067.3,1173.6 1070.1,1174.0 1072.9,1174.3 1075.7,1174.6 1078.5,1174.9 1081.3,1175.2 1084.1,1175.5 1086.9,1175.8 1089.7,1176.1 1092.5,1176.4 1095.3,1176.7 1098.2,1176.9 1101.0,1177.2 1103.8,1177.4 1106.6,1177.7 1109.4,1177.9 1112.2,1178.1 1115.0,1178.4 1117.8,1178.6 1120.6,1178.8 1123.4,1179.0 1126.2,1179.2 1129.1,1179.4 1131.9,1179.6 1134.7,1179.8 1137.5,1180.0 1140.3,1180.2 1143.1,1180.4 1145.9,1180.5 1148.7,1180.7 1151.5,1180.8 1154.3,1181.0 1157.1,1181.2 1160.0,1181.3 1162.8,1181.5 1165.6,1181.6 1168.4,1181.7 1171.2,1181.9 1174.0,1182.0 1176.8,1182.1 1179.6,1182.2 1182.4,1182.4 1185.2,1182.5 1188.1,1182.6 1190.9,1182.7 1193.7,1182.8 1196.5,1182.9 1199.3,1183.0 1202.1,1183.1 1204.9,1183.2 1207.7,1183.3 1210.5,1183.4 1213.3,1183.5 1216.1,1183.6 1219.0,1183.7 1221.8,1183.7 1224.6,1183.8 1227.4,1183.9 1230.2,1184.0 1233.0,1184.0 1235.8,1184.1 1238.6,1184.2 1241.4,1184.2 1244.2,1184.3 1247.0,1184.4 1249.9,1184.4 1252.7,1184.5 1255.5,1184.6 1258.3,1184.6 1261.1,1184.7 1263.9,1184.7 1266.7,1184.8 1269.5,1184.8 1272.3,1184.9 1275.1,1184.9 1277.9,1185.0 1280.8,1185.0 1283.6,1185.1 1286.4,1185.1 1289.2,1185.1 1292.0,1185.2 1294.8,1185.2 1297.6,1185.3 1300.4,1185.3 1303.2,1185.3 1306.0,1185.4 1308.8,1185.4 1311.7,1185.4 1314.5,1185.5 1317.3,1185.5 1320.1,1185.5 1322.9,1185.5 1325.7,1185.6 1328.5,1185.6 1331.3,1185.6 1334.1,1185.7 1336.9,1185.7 1339.8,1185.7 1342.6,1185.7 1345.4,1185.8 1348.2,1185.8 1351.0,1185.8 1353.8,1185.8 1356.6,1185.8 1359.4,1185.9 1362.2,1185.9 1365.0,1185.9 1367.8,1185.9 1370.7,1185.9 1373.5,1185.9 1376.3,1186.0 1379.1,1186.0 1381.9,1186.0 1384.7,1186.0"/>
<polyline fill="none" stroke="#1a1af2" stroke-width="2.2" points="721.5,1048.2 724.1,1049.9 726.6,1051.6 729.2,1053.2 731.7,1054.9 734.3,1056.6 736.8,1058.2 739.4,1059.9 741.9,1061.6 744.5,1063.2 747.0,1064.8 749.6,1066.5 752.1,1068.1 754.7,1069.7 757.2,1071.3 759.8,1072.9 762.3,1074.5 764.9,1076.1 767.4,1077.7 770.0,1079.3 772.5,1080.8 775.1,1082.4 777.6,1084.0 780.2,1085.5 782.7,1087.0 785.3,1088.6 787.8,1090.1 790.4,1091.6 792.9,1093.1 795.5,1094.6 798.0,1096.1 800.6,1097.6 803.1,1099.1 805.7,1100.6 808.2,1102.1 810.8,1103.5 813.3,1105.0 815.9,1106.4 818.4,1107.9 821.0,1109.3 823.6,1110.7 826.1,1112.1 828.7,1113.5 831.2,1114.9 833.8,1116.3 836.3,1117.7 838.9,1119.1 841.4,1120.5 844.0,1121.8 846.5,1123.2 849.1,1124.5 851.6,1125.8 854.2,1127.2 856.7,1128.5 859.3,1129.8 861.8,1131.1 864.4,1132.4 866.9,1133.7 869.5,1134.9 872.0,1136.2 874.6,1137.5 877.1,1138.7 879.7,1140.0 882.2,1141.2 884.8,1142.4 887.3,1143.6 889.9,1144.8 892.4,1146.0 895.0,1147.2 897.5,1148.4 900.1,1149.5 902.6,1150.7 905.2,1151.8 907.7,1153.0 910.3,1154.1 912.8,1155.2 915.4,1156.3 917.9,1157.4 920.5,1158.5 923.0,1159.6 925.6,1160.7 928.1,1161.7 930.7,1162.8 933.2,1163.8 935.8,1164.8 938.3,1165.8 940.9,1166.9 943.4,1167.9 946.0,1168.8 948.5,1169.8 951.1,1170.8 953.6,1171.7 956.2,1172.7 958.7,1173.6 961.3,1174.6 963.8,1175.5 966.4,1176.4 968.9,1177.3 971.5,1178.2 974.0,1179.0 976.6,1179.9 979.1,1180.8 981.7,1181.6 984.2,1182.4 986.8,1183.3 989.3,1184.1 991.9,1184.9 994.4,1185.7 997.0,1186.4 999.5,1187.2 1002.1,1188.0 1004.6,1188.7 1007.2,1189.5 1009.8,1190.2 1012.3,1190.9 1014.9,1191.6 1017.4,1192.3 1020.0,1193.0 1022.5,1193.7 1025.1,1194.3 1027.6,1195.0 1030.2,1195.7 1032.7,1196.3 1035.3,1196.9 1037.8,1197.5 1040.4,1198.2 1042.9,1198.8 1045.5,1199.3 1048.0,1199.9 1050.6,1200.5 1053.1,1201.1 1055.7,1201.6 1058.2,1202.1 1060.8,1202.7 1063.3,1203.2 1065.9,1203.7 1068.4,1204.2 1071.0,1204.7 1073.5,1205.2 1076.1,1205.7 1078.6,1206.2 1081.2,1206.6 1083.7,1207.1 1086.3,1207.5 1088.8,1208.0 1091.4,1208.4 1093.9,1208.8 1096.5,1209.2 1099.0,1209.6 1101.6,1210.0 1104.1,1210.4 1106.7,1210.8 1109.2,1211.2 1111.8,1211.5 1114.3,1211.9 1116.9,1212.2 1119.4,1212.6 1122.0,1212.9 1124.5,1213.3 1127.1,1213.6 1129.6,1213.9 1132.2,1214.2 1134.7,1214.5 1137.3,1214.8 1139.8,1215.1 1142.4,1215.4 1144.9,1215.7 1147.5,1216.0 1150.0,1216.2 1152.6,1216.5 1155.1,1216.7 1157.7,1217.0 1160.2,1217.2 1162.8,1217.5 1165.3,1217.7 1167.9,1217.9 1170.4,1218.2 1173.0,1218.4 1175.5,1218.6 1178.1,1218.8 1180.6,1219.0 1183.2,1219.2 1185.7,1219.4 1188.3,1219.6 1190.8,1219.8 1193.4,1220.0 1195.9,1220.1 1198.5,1220.3 1201.1,1220.5 1203.6,1220.7 1206.2,1220.8 1208.7,1221.0 1211.3,1221.1 1213.8,1221.3 1216.4,1221.4 1218.9,1221.6 1221.5,1221.7 1224.0,1221.8 1226.6,1222.0 1229.1,1222.1 1231.7,1222.2 1234.2,1222.4 1236.8,1222.5 1239.3,1222.6 1241.9,1222.7 1244.4,1222.8 1247.0,1222.9 1249.5,1223.0 1252.1,1223.1 1254.6,1223.2 1257.2,1223.3 1259.7,1223.4 1262.3,1223.5 1264.8,1223.6 1267.4,1223.7 1269.9,1223.8 1272.5,1223.9 1275.0,1224.0 1277.6,1224.1 1280.1,1224.1 1282.7,1224.2 1285.2,1224.3 1287.8,1224.4 1290.3,1224.4 1292.9,1224.5 1295.4,1224.6 1298.0,1224.6 1300.5,1224.7 1303.1,1224.8 1305.6,1224.8 1308.2,1224.9 1310.7,1225.0 1313.3,1225.0 1315.8,1225.1 1318.4,1225.1 1320.9,1225.2 1323.5,1225.2 1326.0,1225.3 1328.6,1225.3 1331.1,1225.4 1333.7,1225.4 1336.2,1225.5 1338.8,1225.5 1341.3,1225.5 1343.9,1225.6 1346.4,1225.6 1349.0,1225.7 1351.5,1225.7 1354.1,1225.7 1356.6,1225.8 1359.2,1225.8 1361.7,1225.9 1364.3,1225.9 1366.8,1225.9 1369.4,1225.9 1371.9,1226.0 1374.5,1226.0 1377.0,1226.0 1379.6,1226.1 1382.1,1226.1 1384.7,1226.1"/>
<polyline fill="none" stroke="#1a1af2" stroke-width="2.2" points="819.4,1114.2 821.6,1115.5 823.7,1116.8 825.9,1118.1 828.1,1119.4 830.3,1120.7 832.4,1122.0 834.6,1123.3 836.8,1124.6 839.0,1125.9 841.1,1127.1 843.3,1128.4 845.5,1129.7 847.7,1131.0 849.8,1132.2 852.0,1133.5 854.2,1134.7 856.4,1136.0 858.5,1137.2 860.7,1138.5 862.9,1139.7 865.1,1140.9 867.2,1142.2 869.4,1143.4 871.6,1144.6 873.8,1145.8 875.9,1147.0 878.1,1148.2 880.3,1149.4 882.4,1150.6 884.6,1151.8 886.8,1153.0 889.0,1154.2 891.1,1155.4 893.3,1156.5 895.5,1157.7 897.7,1158.9 899.8,1160.0 902.0,1161.2 904.2,1162.3 906.4,1163.5 908.5,1164.6 910.7,1165.7 912.9,1166.8 915.1,1168.0 917.2,1169.1 919.4,1170.2 921.6,1171.3 923.8,1172.4 925.9,1173.5 928.1,1174.6 930.3,1175.7 932.5,1176.8 934.6,1177.8 936.8,1178.9 939.0,1180.0 941.2,1181.0 943.3,1182.1 945.5,1183.1 947.7,1184.2 949.9,1185.2 952.0,1186.3 954.2,1187.3 956.4,1188.3 958.5,1189.3 960.7,1190.3 962.9,1191.3 965.1,1192.3 967.2,1193.3 969.4,1194.3 971.6,1195.3 973.8,1196.3 975.9,1197.2 978.1,1198.2 980.3,1199.2 982.5,1200.1 984.6,1201.1 986.8,1202.0 989.0,1202.9 991.2,1203.9 993.3,1204.8 995.5,1205.7 997.7,1206.6 999.9,1207.5 1002.0,1208.4 1004.2,1209.3 1006.4,1210.2 1008.6,1211.0 1010.7,1211.9 1012.9,1212.8 1015.1,1213.6 1017.3,1214.5 1019.4,1215.3 1021.6,1216.2 1023.8,1217.0 1025.9,1217.8 1028.1,1218.6 1030.3,1219.5 1032.5,1220.3 1034.6,1221.1 1036.8,1221.8 1039.0,1222.6 1041.2,1223.4 1043.3,1224.2 1045.5,1224.9 1047.7,1225.7 1049.9,1226.4 1052.0,1227.2 1054.2,1227.9 1056.4,1228.6 1058.6,1229.4 1060.7,1230.1 1062.9,1230.8 1065.1,1231.5 1067.3,1232.2 1069.4,1232.9 1071.6,1233.5 1073.8,1234.2 1076.0,1234.9 1078.1,1235.5 1080.3,1236.2 1082.5,1236.8 1084.7,1237.5 1086.8,1238.1 1089.0,1238.7 1091.2,1239.4 1093.4,1240.0 1095.5,1240.6 1097.7,1241.2 1099.9,1241.8 1102.0,1242.3 1104.2,1242.9 1106.4,1243.5 1108.6,1244.0 1110.7,1244.6 1112.9,1245.1 1115.1,1245.7 1117.3,1246.2 1119.4,1246.7 1121.6,1247.3 1123.8,1247.8 1126.0,1248.3 1128.1,1248.8 1130.3,1249.3 1132.5,1249.8 1134.7,1250.2 1136.8,1250.7 1139.0,1251.2 1141.2,1251.7 1143.4,1252.1 1145.5,1252.6 1147.7,1253.0 1149.9,1253.4 1152.1,1253.9 1154.2,1254.3 1156.4,1254.7 1158.6,1255.1 1160.8,1255.5 1162.9,1255.9 1165.1,1256.3 1167.3,1256.7 1169.4,1257.1 1171.6,1257.5 1173.8,1257.8 1176.0,1258.2 1178.1,1258.5 1180.3,1258.9 1182.5,1259.2 1184.7,1259.6 1186.8,1259.9 1189.0,1260.3 1191.2,1260.6 1193.4,1260.9 1195.5,1261.2 1197.7,1261.5 1199.9,1261.8 1202.1,1262.1 1204.2,1262.4 1206.4,1262.7 1208.6,1263.0 1210.8,1263.3 1212.9,1263.5 1215.1,1263.8 1217.3,1264.1 1219.5,1264.3 1221.6,1264.6 1223.8,1264.9 1226.0,1265.1 1228.2,1265.3 1230.3,1265.6 1232.5,1265.8 1234.7,1266.0 1236.9,1266.3 1239.0,1266.5 1241.2,1266.7 1243.4,1266.9 1245.5,1267.1 1247.7,1267.3 1249.9,1267.5 1252.1,1267.7 1254.2,1267.9 1256.4,1268.1 1258.6,1268.3 1260.8,1268.5 1262.9,1268.7 1265.1,1268.8 1267.3,1269.0 1269.5,1269.2 1271.6,1269.4 1273.8,1269.5 1276.0,1269.7 1278.2,1269.8 1280.3,1270.0 1282.5,1270.1 1284.7,1270.3 1286.9,1270.4 1289.0,1270.6 1291.2,1270.7 1293.4,1270.8 1295.6,1271.0 1297.7,1271.1 1299.9,1271.2 1302.1,1271.4 1304.3,1271.5 1306.4,1271.6 1308.6,1271.7 1310.8,1271.8 1312.9,1272.0 1315.1,1272.1 1317.3,1272.2 1319.5,1272.3 1321.6,1272.4 1323.8,1272.5 1326.0,1272.6 1328.2,1272.7 1330.3,1272.8 1332.5,1272.9 1334.7,1273.0 1336.9,1273.1 1339.0,1273.2 1341.2,1273.2 1343.4,1273.3 1345.6,1273.4 1347.7,1273.5 1349.9,1273.6 1352.1,1273.7 1354.3,1273.7 1356.4,1273.8 1358.6,1273.9 1360.8,1273.9 1363.0,1274.0 1365.1,1274.1 1367.3,1274.2 1369.5,1274.2 1371.7,1274.3 1373.8,1274.3 1376.0,1274.4 1378.2,1274.5 1380.4,1274.5 1382.5,1274.6 1384.7,1274.6"/>
<polyline fill="none" stroke="#1a1af2" stroke-width="2.2" points="875.4,1149.9 877.4,1151.1 879.3,1152.2 881.3,1153.3 883.2,1154.5 885.2,1155.6 887.2,1156.7 889.1,1157.8 891.1,1158.9 893.0,1160.0 895.0,1161.2 897.0,1162.3 898.9,1163.4 900.9,1164.5 902.8,1165.6 904.8,1166.7 906.8,1167.8 908.7,1168.8 910.7,1169.9 912.6,1171.0 914.6,1172.1 916.5,1173.2 918.5,1174.2 920.5,1175.3 922.4,1176.4 924.4,1177.4 926.3,1178.5 928.3,1179.6 930.3,1180.6 932.2,1181.7 934.2,1182.7 936.1,1183.7 938.1,1184.8 940.1,1185.8 942.0,1186.9 944.0,1187.9 945.9,1188.9 947.9,1189.9 949.8,1191.0 951.8,1192.0 953.8,1193.0 955.7,1194.0 957.7,1195.0 959.6,1196.0 961.6,1197.0 963.6,1198.0 965.5,1199.0 967.5,1200.0 969.4,1201.0 971.4,1202.0 973.4,1202.9 975.3,1203.9 977.3,1204.9 979.2,1205.8 981.2,1206.8 983.1,1207.8 985.1,1208.7 987.1,1209.7 989.0,1210.6 991.0,1211.6 992.9,1212.5 994.9,1213.4 996.9,1214.4 998.8,1215.3 1000.8,1216.2 1002.7,1217.2 1004.7,1218.1 1006.7,1219.0 1008.6,1219.9 1010.6,1220.8 1012.5,1221.7 1014.5,1222.6 1016.4,1223.5 1018.4,1224.4 1020.4,1225.3 1022.3,1226.1 1024.3,1227.0 1026.2,1227.9 1028.2,1228.8 1030.2,1229.6 1032.1,1230.5 1034.1,1231.3 1036.0,1232.2 1038.0,1233.0 1040.0,1233.9 1041.9,1234.7 1043.9,1235.5 1045.8,1236.4 1047.8,1237.2 1049.7,1238.0 1051.7,1238.8 1053.7,1239.6 1055.6,1240.4 1057.6,1241.2 1059.5,1242.0 1061.5,1242.8 1063.5,1243.6 1065.4,1244.4 1067.4,1245.2 1069.3,1245.9 1071.3,1246.7 1073.3,1247.5 1075.2,1248.2 1077.2,1249.0 1079.1,1249.7 1081.1,1250.5 1083.0,1251.2 1085.0,1251.9 1087.0,1252.7 1088.9,1253.4 1090.9,1254.1 1092.8,1254.8 1094.8,1255.5 1096.8,1256.2 1098.7,1256.9 1100.7,1257.6 1102.6,1258.3 1104.6,1259.0 1106.6,1259.7 1108.5,1260.3 1110.5,1261.0 1112.4,1261.7 1114.4,1262.3 1116.3,1263.0 1118.3,1263.6 1120.3,1264.3 1122.2,1264.9 1124.2,1265.5 1126.1,1266.2 1128.1,1266.8 1130.1,1267.4 1132.0,1268.0 1134.0,1268.6 1135.9,1269.2 1137.9,1269.8 1139.9,1270.4 1141.8,1271.0 1143.8,1271.5 1145.7,1272.1 1147.7,1272.7 1149.6,1273.2 1151.6,1273.8 1153.6,1274.3 1155.5,1274.9 1157.5,1275.4 1159.4,1276.0 1161.4,1276.5 1163.4,1277.0 1165.3,1277.5 1167.3,1278.0 1169.2,1278.5 1171.2,1279.0 1173.2,1279.5 1175.1,1280.0 1177.1,1280.5 1179.0,1281.0 1181.0,1281.5 1182.9,1281.9 1184.9,1282.4 1186.9,1282.9 1188.8,1283.3 1190.8,1283.8 1192.7,1284.2 1194.7,1284.7 1196.7,1285.1 1198.6,1285.5 1200.6,1285.9 1202.5,1286.4 1204.5,1286.8 1206.4,1287.2 1208.4,1287.6 1210.4,1288.0 1212.3,1288.4 1214.3,1288.8 1216.2,1289.2 1218.2,1289.5 1220.2,1289.9 1222.1,1290.3 1224.1,1290.6 1226.0,1291.0 1228.0,1291.4 1230.0,1291.7 1231.9,1292.0 1233.9,1292.4 1235.8,1292.7 1237.8,1293.1 1239.7,1293.4 1241.7,1293.7 1243.7,1294.0 1245.6,1294.3 1247.6,1294.6 1249.5,1295.0 1251.5,1295.3 1253.5,1295.5 1255.4,1295.8 1257.4,1296.1 1259.3,1296.4 1261.3,1296.7 1263.3,1297.0 1265.2,1297.2 1267.2,1297.5 1269.1,1297.8 1271.1,1298.0 1273.0,1298.3 1275.0,1298.5 1277.0,1298.8 1278.9,1299.0 1280.9,1299.3 1282.8,1299.5 1284.8,1299.7 1286.8,1300.0 1288.7,1300.2 1290.7,1300.4 1292.6,1300.6 1294.6,1300.8 1296.6,1301.1 1298.5,1301.3 1300.5,1301.5 1302.4,1301.7 1304.4,1301.9 1306.3,1302.1 1308.3,1302.3 1310.3,1302.4 1312.2,1302.6 1314.2,1302.8 1316.1,1303.0 1318.1,1303.2 1320.1,1303.3 1322.0,1303.5 1324.0,1303.7 1325.9,1303.8 1327.9,1304.0 1329.9,1304.2 1331.8,1304.3 1333.8,1304.5 1335.7,1304.6 1337.7,1304.8 1339.6,1304.9 1341.6,1305.1 1343.6,1305.2 1345.5,1305.3 1347.5,1305.5 1349.4,1305.6 1351.4,1305.7 1353.4,1305.9 1355.3,1306.0 1357.3,1306.1 1359.2,1306.2 1361.2,1306.4 1363.2,1306.5 1365.1,1306.6 1367.1,1306.7 1369.0,1306.8 1371.0,1306.9 1372.9,1307.0 1374.9,1307.1 1376.9,1307.2 1378.8,1307.3 1380.8,1307.4 1382.7,1307.5 1384.7,1307.6"/>
<polyline fill="none" stroke="#1a1af2" stroke-width="2.2" points="985.3,1212.9 986.8,1213.7 988.3,1214.4 989.9,1215.2 991.4,1216.0 992.9,1216.8 994.5,1217.6 996.0,1218.4 997.6,1219.2 999.1,1220.0 1000.6,1220.7 1002.2,1221.5 1003.7,1222.3 1005.2,1223.1 1006.8,1223.8 1008.3,1224.6 1009.8,1225.4 1011.4,1226.2 1012.9,1226.9 1014.5,1227.7 1016.0,1228.4 1017.5,1229.2 1019.1,1230.0 1020.6,1230.7 1022.1,1231.5 1023.7,1232.2 1025.2,1233.0 1026.7,1233.7 1028.3,1234.5 1029.8,1235.2 1031.4,1236.0 1032.9,1236.7 1034.4,1237.4 1036.0,1238.2 1037.5,1238.9 1039.0,1239.6 1040.6,1240.4 1042.1,1241.1 1043.6,1241.8 1045.2,1242.5 1046.7,1243.3 1048.3,1244.0 1049.8,1244.7 1051.3,1245.4 1052.9,1246.1 1054.4,1246.8 1055.9,1247.6 1057.5,1248.3 1059.0,1249.0 1060.5,1249.7 1062.1,1250.4 1063.6,1251.1 1065.2,1251.8 1066.7,1252.5 1068.2,1253.1 1069.8,1253.8 1071.3,1254.5 1072.8,1255.2 1074.4,1255.9 1075.9,1256.6 1077.4,1257.2 1079.0,1257.9 1080.5,1258.6 1082.1,1259.3 1083.6,1259.9 1085.1,1260.6 1086.7,1261.3 1088.2,1261.9 1089.7,1262.6 1091.3,1263.2 1092.8,1263.9 1094.3,1264.5 1095.9,1265.2 1097.4,1265.8 1098.9,1266.5 1100.5,1267.1 1102.0,1267.8 1103.6,1268.4 1105.1,1269.0 1106.6,1269.7 1108.2,1270.3 1109.7,1270.9 1111.2,1271.5 1112.8,1272.2 1114.3,1272.8 1115.8,1273.4 1117.4,1274.0 1118.9,1274.6 1120.5,1275.2 1122.0,1275.8 1123.5,1276.4 1125.1,1277.0 1126.6,1277.6 1128.1,1278.2 1129.7,1278.8 1131.2,1279.4 1132.7,1280.0 1134.3,1280.6 1135.8,1281.2 1137.4,1281.8 1138.9,1282.3 1140.4,1282.9 1142.0,1283.5 1143.5,1284.0 1145.0,1284.6 1146.6,1285.2 1148.1,1285.7 1149.6,1286.3 1151.2,1286.8 1152.7,1287.4 1154.3,1287.9 1155.8,1288.5 1157.3,1289.0 1158.9,1289.6 1160.4,1290.1 1161.9,1290.6 1163.5,1291.2 1165.0,1291.7 1166.5,1292.2 1168.1,1292.7 1169.6,1293.3 1171.2,1293.8 1172.7,1294.3 1174.2,1294.8 1175.8,1295.3 1177.3,1295.8 1178.8,1296.3 1180.4,1296.8 1181.9,1297.3 1183.4,1297.8 1185.0,1298.3 1186.5,1298.8 1188.1,1299.2 1189.6,1299.7 1191.1,1300.2 1192.7,1300.7 1194.2,1301.1 1195.7,1301.6 1197.3,1302.1 1198.8,1302.5 1200.3,1303.0 1201.9,1303.5 1203.4,1303.9 1205.0,1304.4 1206.5,1304.8 1208.0,1305.2 1209.6,1305.7 1211.1,1306.1 1212.6,1306.5 1214.2,1307.0 1215.7,1307.4 1217.2,1307.8 1218.8,1308.3 1220.3,1308.7 1221.9,1309.1 1223.4,1309.5 1224.9,1309.9 1226.5,1310.3 1228.0,1310.7 1229.5,1311.1 1231.1,1311.5 1232.6,1311.9 1234.1,1312.3 1235.7,1312.7 1237.2,1313.1 1238.8,1313.4 1240.3,1313.8 1241.8,1314.2 1243.4,1314.6 1244.9,1314.9 1246.4,1315.3 1248.0,1315.7 1249.5,1316.0 1251.0,1316.4 1252.6,1316.7 1254.1,1317.1 1255.7,1317.4 1257.2,1317.8 1258.7,1318.1 1260.3,1318.4 1261.8,1318.8 1263.3,1319.1 1264.9,1319.4 1266.4,1319.7 1267.9,1320.1 1269.5,1320.4 1271.0,1320.7 1272.6,1321.0 1274.1,1321.3 1275.6,1321.6 1277.2,1321.9 1278.7,1322.2 1280.2,1322.5 1281.8,1322.8 1283.3,1323.1 1284.8,1323.4 1286.4,1323.7 1287.9,1324.0 1289.4,1324.3 1291.0,1324.5 1292.5,1324.8 1294.1,1325.1 1295.6,1325.4 1297.1,1325.6 1298.7,1325.9 1300.2,1326.2 1301.7,1326.4 1303.3,1326.7 1304.8,1326.9 1306.3,1327.2 1307.9,1327.4 1309.4,1327.7 1311.0,1327.9 1312.5,1328.2 1314.0,1328.4 1315.6,1328.6 1317.1,1328.9 1318.6,1329.1 1320.2,1329.3 1321.7,1329.5 1323.2,1329.8 1324.8,1330.0 1326.3,1330.2 1327.9,1330.4 1329.4,1330.6 1330.9,1330.8 1332.5,1331.0 1334.0,1331.2 1335.5,1331.5 1337.1,1331.7 1338.6,1331.8 1340.1,1332.0 1341.7,1332.2 1343.2,1332.4 1344.8,1332.6 1346.3,1332.8 1347.8,1333.0 1349.4,1333.2 1350.9,1333.3 1352.4,1333.5 1354.0,1333.7 1355.5,1333.9 1357.0,1334.0 1358.6,1334.2 1360.1,1334.4 1361.7,1334.5 1363.2,1334.7 1364.7,1334.9 1366.3,1335.0 1367.8,1335.2 1369.3,1335.3 1370.9,1335.5 1372.4,1335.6 1373.9,1335.8 1375.5,1335.9 1377.0,1336.1 1378.6,1336.2 1380.1,1336.4 1381.6,1336.5 1383.2,1336.6 1384.7,1336.8"/>
<polyline fill="none" stroke="#1a1af2" stroke-width="2.2" points="1116.8,1283.9 1117.8,1284.4 1118.9,1284.9 1119.9,1285.4 1120.9,1285.8 1121.9,1286.3 1123.0,1286.8 1124.0,1287.3 1125.0,1287.8 1126.1,1288.3 1127.1,1288.8 1128.1,1289.3 1129.2,1289.7 1130.2,1290.2 1131.2,1290.7 1132.3,1291.2 1133.3,1291.7 1134.3,1292.2 1135.3,1292.6 1136.4,1293.1 1137.4,1293.6 1138.4,1294.1 1139.5,1294.6 1140.5,1295.0 1141.5,1295.5 1142.6,1296.0 1143.6,1296.5 1144.6,1297.0 1145.6,1297.4 1146.7,1297.9 1147.7,1298.4 1148.7,1298.8 1149.8,1299.3 1150.8,1299.8 1151.8,1300.3 1152.9,1300.7 1153.9,1301.2 1154.9,1301.7 1156.0,1302.1 1157.0,1302.6 1158.0,1303.1 1159.0,1303.5 1160.1,1304.0 1161.1,1304.5 1162.1,1304.9 1163.2,1305.4 1164.2,1305.9 1165.2,1306.3 1166.3,1306.8 1167.3,1307.2 1168.3,1307.7 1169.3,1308.2 1170.4,1308.6 1171.4,1309.1 1172.4,1309.5 1173.5,1310.0 1174.5,1310.5 1175.5,1310.9 1176.6,1311.4 1177.6,1311.8 1178.6,1312.3 1179.7,1312.7 1180.7,1313.2 1181.7,1313.6 1182.7,1314.1 1183.8,1314.5 1184.8,1315.0 1185.8,1315.4 1186.9,1315.9 1187.9,1316.3 1188.9,1316.8 1190.0,1317.2 1191.0,1317.7 1192.0,1318.1 1193.0,1318.5 1194.1,1319.0 1195.1,1319.4 1196.1,1319.9 1197.2,1320.3 1198.2,1320.7 1199.2,1321.2 1200.3,1321.6 1201.3,1322.1 1202.3,1322.5 1203.4,1322.9 1204.4,1323.4 1205.4,1323.8 1206.4,1324.2 1207.5,1324.7 1208.5,1325.1 1209.5,1325.5 1210.6,1325.9 1211.6,1326.4 1212.6,1326.8 1213.7,1327.2 1214.7,1327.7 1215.7,1328.1 1216.7,1328.5 1217.8,1328.9 1218.8,1329.4 1219.8,1329.8 1220.9,1330.2 1221.9,1330.6 1222.9,1331.0 1224.0,1331.5 1225.0,1331.9 1226.0,1332.3 1227.0,1332.7 1228.1,1333.1 1229.1,1333.5 1230.1,1333.9 1231.2,1334.4 1232.2,1334.8 1233.2,1335.2 1234.3,1335.6 1235.3,1336.0 1236.3,1336.4 1237.4,1336.8 1238.4,1337.2 1239.4,1337.6 1240.4,1338.0 1241.5,1338.4 1242.5,1338.8 1243.5,1339.2 1244.6,1339.6 1245.6,1340.0 1246.6,1340.4 1247.7,1340.8 1248.7,1341.2 1249.7,1341.6 1250.7,1342.0 1251.8,1342.4 1252.8,1342.8 1253.8,1343.2 1254.9,1343.6 1255.9,1344.0 1256.9,1344.4 1258.0,1344.8 1259.0,1345.2 1260.0,1345.6 1261.1,1345.9 1262.1,1346.3 1263.1,1346.7 1264.1,1347.1 1265.2,1347.5 1266.2,1347.9 1267.2,1348.2 1268.3,1348.6 1269.3,1349.0 1270.3,1349.4 1271.4,1349.7 1272.4,1350.1 1273.4,1350.5 1274.4,1350.9 1275.5,1351.2 1276.5,1351.6 1277.5,1352.0 1278.6,1352.4 1279.6,1352.7 1280.6,1353.1 1281.7,1353.5 1282.7,1353.8 1283.7,1354.2 1284.8,1354.5 1285.8,1354.9 1286.8,1355.3 1287.8,1355.6 1288.9,1356.0 1289.9,1356.3 1290.9,1356.7 1292.0,1357.1 1293.0,1357.4 1294.0,1357.8 1295.1,1358.1 1296.1,1358.5 1297.1,1358.8 1298.1,1359.2 1299.2,1359.5 1300.2,1359.9 1301.2,1360.2 1302.3,1360.6 1303.3,1360.9 1304.3,1361.2 1305.4,1361.6 1306.4,1361.9 1307.4,1362.3 1308.5,1362.6 1309.5,1362.9 1310.5,1363.3 1311.5,1363.6 1312.6,1363.9 1313.6,1364.3 1314.6,1364.6 1315.7,1364.9 1316.7,1365.3 1317.7,1365.6 1318.8,1365.9 1319.8,1366.3 1320.8,1366.6 1321.8,1366.9 1322.9,1367.2 1323.9,1367.5 1324.9,1367.9 1326.0,1368.2 1327.0,1368.5 1328.0,1368.8 1329.1,1369.1 1330.1,1369.4 1331.1,1369.8 1332.1,1370.1 1333.2,1370.4 1334.2,1370.7 1335.2,1371.0 1336.3,1371.3 1337.3,1371.6 1338.3,1371.9 1339.4,1372.2 1340.4,1372.5 1341.4,1372.8 1342.5,1373.1 1343.5,1373.4 1344.5,1373.7 1345.5,1374.0 1346.6,1374.3 1347.6,1374.6 1348.6,1374.9 1349.7,1375.2 1350.7,1375.5 1351.7,1375.8 1352.8,1376.1 1353.8,1376.3 1354.8,1376.6 1355.8,1376.9 1356.9,1377.2 1357.9,1377.5 1358.9,1377.8 1360.0,1378.0 1361.0,1378.3 1362.0,1378.6 1363.1,1378.9 1364.1,1379.1 1365.1,1379.4 1366.2,1379.7 1367.2,1380.0 1368.2,1380.2 1369.2,1380.5 1370.3,1380.8 1371.3,1381.0 1372.3,1381.3 1373.4,1381.6 1374.4,1381.8 1375.4,1382.1 1376.5,1382.3 1377.5,1382.6 1378.5,1382.9 1379.5,1383.1 1380.6,1383.4 1381.6,1383.6 1382.6,1383.9 1383.7,1384.1 1384.7,1384.4"/>
<polyline fill="none" stroke="#1a1af2" stroke-width="2.2" points="368.9,749.3 372.8,753.4 376.7,757.6 380.6,761.7 384.5,765.7 388.5,769.8 392.4,773.8 396.3,777.8 400.2,781.8 404.1,785.8 408.0,789.7 411.9,793.7 415.8,797.6 419.7,801.5 423.6,805.3 427.5,809.2 431.4,813.0 435.3,816.8 439.2,820.6 443.1,824.4 447.1,828.1 451.0,831.9 454.9,835.6 458.8,839.3 462.7,842.9 466.6,846.6 470.5,850.2 474.4,853.9 478.3,857.5 482.2,861.0 486.1,864.6 490.0,868.2 493.9,871.7 497.8,875.2 501.8,878.7 505.7,882.2 509.6,885.7 513.5,889.1 517.4,892.6 521.3,896.0 525.2,899.4 529.1,902.8 533.0,906.1 536.9,909.5 540.8,912.8 544.7,916.2 548.6,919.5 552.5,922.8 556.4,926.0 560.4,929.3 564.3,932.6 568.2,935.8 572.1,939.0 576.0,942.2 579.9,945.4 583.8,948.6 587.7,951.8 591.6,954.9 595.5,958.1 599.4,961.2 603.3,964.3 607.2,967.4 611.1,970.5 615.1,973.6 619.0,976.6 622.9,979.7 626.8,982.7 630.7,985.7 634.6,988.7 638.5,991.7 642.4,994.7 646.3,997.7 650.2,1000.6 654.1,1003.6 658.0,1006.5 661.9,1009.4 665.8,1012.4 669.7,1015.3 673.7,1018.1 677.6,1021.0 681.5,1023.9 685.4,1026.7 689.3,1029.6 693.2,1032.4 697.1,1035.2 701.0,1038.0 704.9,1040.8 708.8,1043.6 712.7,1046.4 716.6,1049.2 720.5,1051.9 724.4,1054.7 728.3,1057.4 732.3,1060.1 736.2,1062.8 740.1,1065.5 744.0,1068.2 747.9,1070.9 751.8,1073.6 755.7,1076.2 759.6,1078.9 763.5,1081.5 767.4,1084.1 771.3,1086.8 775.2,1089.4 779.1,1092.0 783.0,1094.6 787.0,1097.2 790.9,1099.7 794.8,1102.3 798.7,1104.8 802.6,1107.4 806.5,1109.9 810.4,1112.5 814.3,1115.0 818.2,1117.5 822.1,1120.0 826.0,1122.5 829.9,1125.0 833.8,1127.4 837.7,1129.9 841.6,1132.4 845.6,1134.8 849.5,1137.2 853.4,1139.7 857.3,1142.1 861.2,1144.5 865.1,1146.9 869.0,1149.3 872.9,1151.7 876.8,1154.1 880.7,1156.5 884.6,1158.8 888.5,1161.2 892.4,1163.5 896.3,1165.9 900.3,1168.2 904.2,1170.5 908.1,1172.9 912.0,1175.2 915.9,1177.5 919.8,1179.8 923.7,1182.1 927.6,1184.3 931.5,1186.6 935.4,1188.9 939.3,1191.1 943.2,1193.4 947.1,1195.6 951.0,1197.9 954.9,1200.1 958.9,1202.3 962.8,1204.5 966.7,1206.7 970.6,1208.9 974.5,1211.1 978.4,1213.3 982.3,1215.5 986.2,1217.7 990.1,1219.9 994.0,1222.0 997.9,1224.2 1001.8,1226.3 1005.7,1228.5 1009.6,1230.6 1013.5,1232.7 1017.5,1234.8 1021.4,1236.9 1025.3,1239.1 1029.2,1241.2 1033.1,1243.3 1037.0,1245.3 1040.9,1247.4 1044.8,1249.5 1048.7,1251.6 1052.6,1253.6 1056.5,1255.7 1060.4,1257.7 1064.3,1259.8 1068.2,1261.8 1072.2,1263.9 1076.1,1265.9 1080.0,1267.9 1083.9,1269.9 1087.8,1271.9 1091.7,1273.9 1095.6,1275.9 1099.5,1277.9 1103.4,1279.9 1107.3,1281.9 1111.2,1283.9 1115.1,1285.8 1119.0,1287.8 1122.9,1289.8 1126.8,1291.7 1130.8,1293.7 1134.7,1295.6 1138.6,1297.5 1142.5,1299.5 1146.4,1301.4 1150.3,1303.3 1154.2,1305.2 1158.1,1307.1 1162.0,1309.0 1165.9,1310.9 1169.8,1312.8 1173.7,1314.7 1177.6,1316.6 1181.5,1318.5 1185.5,1320.4 1189.4,1322.2 1193.3,1324.1 1197.2,1325.9 1201.1,1327.8 1205.0,1329.7 1208.9,1331.5 1212.8,1333.3 1216.7,1335.2 1220.6,1337.0 1224.5,1338.8 1228.4,1340.6 1232.3,1342.4 1236.2,1344.3 1240.1,1346.1 1244.1,1347.9 1248.0,1349.7 1251.9,1351.4 1255.8,1353.2 1259.7,1355.0 1263.6,1356.8 1267.5,1358.6 1271.4,1360.3 1275.3,1362.1 1279.2,1363.8 1283.1,1365.6 1287.0,1367.3 1290.9,1369.1 1294.8,1370.8 1298.7,1372.6 1302.7,1374.3 1306.6,1376.0 1310.5,1377.7 1314.4,1379.5 1318.3,1381.2 1322.2,1382.9 1326.1,1384.6 1330.0,1386.3 1333.9,1388.0 1337.8,1389.7 1341.7,1391.4 1345.6,1393.0 1349.5,1394.7 1353.4,1396.4 1357.4,1398.1 1361.3,1399.7 1365.2,1401.4 1369.1,1403.1 1373.0,1404.7 1376.9,1406.4 1380.8,1408.0 1384.7,1409.7"/>
<polyline fill="none" stroke="#ee1212" stroke-width="3.2" points="638.3,902.8 644.5,904.7 650.8,906.4 657.0,908.1 663.2,909.7 669.4,911.2 675.6,912.7 681.9,914.1 688.1,915.4 694.3,916.6 700.5,917.8 706.7,919.0 713.0,920.0 719.2,921.1 725.4,922.0 731.6,922.9 737.8,923.8 744.1,924.6 750.3,925.4 756.5,926.2 762.7,926.8 768.9,927.5 775.2,928.1 781.4,928.7 787.6,929.3 793.8,929.8 800.0,930.3 806.3,930.7 812.5,931.2 818.7,931.6 824.9,932.0 831.1,932.3 837.4,932.7 843.6,933.0 849.8,933.3 856.0,933.6 862.2,933.9 868.4,934.1 874.7,934.3 880.9,934.6 887.1,934.8 893.3,935.0 899.5,935.1 905.8,935.3 912.0,935.5 918.2,935.6 924.4,935.8 930.6,935.9 936.9,936.0 943.1,936.2 949.3,936.3 955.5,936.4 961.7,936.5 968.0,936.6 974.2,936.6 980.4,936.7 986.6,936.8 992.8,936.9 999.1,936.9 1005.3,937.0 1011.5,937.1 1017.7,937.1 1023.9,937.2 1030.2,937.2 1036.4,937.3 1042.6,937.3 1048.8,937.3 1055.0,937.4 1061.3,937.4 1067.5,937.4 1073.7,937.5 1079.9,937.5 1086.1,937.5 1092.4,937.5 1098.6,937.6 1104.8,937.6 1111.0,937.6 1117.2,937.6 1123.5,937.7 1129.7,937.7 1135.9,937.7 1142.1,937.7 1148.3,937.7 1154.6,937.7 1160.8,937.7 1167.0,937.7 1173.2,937.8 1179.4,937.8 1185.7,937.8 1191.9,937.8 1198.1,937.8 1204.3,937.8 1210.5,937.8 1216.8,937.8 1223.0,937.8 1229.2,937.8 1235.4,937.8 1241.6,937.8 1247.9,937.8 1254.1,937.9 1260.3,937.9 1266.5,937.9 1272.7,937.9 1279.0,937.9 1285.2,937.9 1291.4,937.9 1297.6,937.9 1303.8,937.9 1310.1,937.9 1316.3,937.9 1322.5,937.9 1328.7,937.9 1334.9,937.9 1341.2,937.9 1347.4,937.9 1353.6,937.9 1359.8,937.9 1366.0,937.9 1372.3,937.9 1378.5,937.9 1384.7,937.9"/>
</g>
<line x1="241.1" y1="1314.9" x2="241.1" y2="1308.9" stroke="#3a4848" stroke-width="1.5" />
<line x1="241.1" y1="511.3" x2="241.1" y2="517.3" stroke="#3a4848" stroke-width="1.5" />
<line x1="255.8" y1="1314.9" x2="255.8" y2="1308.9" stroke="#3a4848" stroke-width="1.5" />
<line x1="255.8" y1="511.3" x2="255.8" y2="517.3" stroke="#3a4848" stroke-width="1.5" />
<line x1="268.5" y1="1314.9" x2="268.5" y2="1308.9" stroke="#3a4848" stroke-width="1.5" />
<line x1="268.5" y1="511.3" x2="268.5" y2="517.3" stroke="#3a4848" stroke-width="1.5" />
<line x1="279.7" y1="1314.9" x2="279.7" y2="1308.9" stroke="#3a4848" stroke-width="1.5" />
<line x1="279.7" y1="511.3" x2="279.7" y2="517.3" stroke="#3a4848" stroke-width="1.5" />
<line x1="355.6" y1="1314.9" x2="355.6" y2="1308.9" stroke="#3a4848" stroke-width="1.5" />
<line x1="355.6" y1="511.3" x2="355.6" y2="517.3" stroke="#3a4848" stroke-width="1.5" />
<line x1="394.2" y1="1314.9" x2="394.2" y2="1308.9" stroke="#3a4848" stroke-width="1.5" />
<line x1="394.2" y1="511.3" x2="394.2" y2="517.3" stroke="#3a4848" stroke-width="1.5" />
<line x1="421.6" y1="1314.9" x2="421.6" y2="1308.9" stroke="#3a4848" stroke-width="1.5" />
<line x1="421.6" y1="511.3" x2="421.6" y2="517.3" stroke="#3a4848" stroke-width="1.5" />
<line x1="442.8" y1="1314.9" x2="442.8" y2="1308.9" stroke="#3a4848" stroke-width="1.5" />
<line x1="442.8" y1="511.3" x2="442.8" y2="517.3" stroke="#3a4848" stroke-width="1.5" />
<line x1="460.1" y1="1314.9" x2="460.1" y2="1308.9" stroke="#3a4848" stroke-width="1.5" />
<line x1="460.1" y1="511.3" x2="460.1" y2="517.3" stroke="#3a4848" stroke-width="1.5" />
<line x1="474.8" y1="1314.9" x2="474.8" y2="1308.9" stroke="#3a4848" stroke-width="1.5" />
<line x1="474.8" y1="511.3" x2="474.8" y2="517.3" stroke="#3a4848" stroke-width="1.5" />
<line x1="487.5" y1="1314.9" x2="487.5" y2="1308.9" stroke="#3a4848" stroke-width="1.5" />
<line x1="487.5" y1="511.3" x2="487.5" y2="517.3" stroke="#3a4848" stroke-width="1.5" />
<line x1="498.7" y1="1314.9" x2="498.7" y2="1308.9" stroke="#3a4848" stroke-width="1.5" />
<line x1="498.7" y1="511.3" x2="498.7" y2="517.3" stroke="#3a4848" stroke-width="1.5" />
<line x1="574.6" y1="1314.9" x2="574.6" y2="1308.9" stroke="#3a4848" stroke-width="1.5" />
<line x1="574.6" y1="511.3" x2="574.6" y2="517.3" stroke="#3a4848" stroke-width="1.5" />
<line x1="613.2" y1="1314.9" x2="613.2" y2="1308.9" stroke="#3a4848" stroke-width="1.5" />
<line x1="613.2" y1="511.3" x2="613.2" y2="517.3" stroke="#3a4848" stroke-width="1.5" />
<line x1="640.6" y1="1314.9" x2="640.6" y2="1308.9" stroke="#3a4848" stroke-width="1.5" />
<line x1="640.6" y1="511.3" x2="640.6" y2="517.3" stroke="#3a4848" stroke-width="1.5" />
<line x1="661.8" y1="1314.9" x2="661.8" y2="1308.9" stroke="#3a4848" stroke-width="1.5" />
<line x1="661.8" y1="511.3" x2="661.8" y2="517.3" stroke="#3a4848" stroke-width="1.5" />
<line x1="679.1" y1="1314.9" x2="679.1" y2="1308.9" stroke="#3a4848" stroke-width="1.5" />
<line x1="679.1" y1="511.3" x2="679.1" y2="517.3" stroke="#3a4848" stroke-width="1.5" />
<line x1="693.8" y1="1314.9" x2="693.8" y2="1308.9" stroke="#3a4848" stroke-width="1.5" />
<line x1="693.8" y1="511.3" x2="693.8" y2="517.3" stroke="#3a4848" stroke-width="1.5" />
<line x1="706.5" y1="1314.9" x2="706.5" y2="1308.9" stroke="#3a4848" stroke-width="1.5" />
<line x1="706.5" y1="511.3" x2="706.5" y2="517.3" stroke="#3a4848" stroke-width="1.5" />
<line x1="717.7" y1="1314.9" x2="717.7" y2="1308.9" stroke="#3a4848" stroke-width="1.5" />
<line x1="717.7" y1="511.3" x2="717.7" y2="517.3" stroke="#3a4848" stroke-width="1.5" />
<line x1="793.6" y1="1314.9" x2="793.6" y2="1308.9" stroke="#3a4848" stroke-width="1.5" />
<line x1="793.6" y1="511.3" x2="793.6" y2="517.3" stroke="#3a4848" stroke-width="1.5" />
<line x1="832.2" y1="1314.9" x2="832.2" y2="1308.9" stroke="#3a4848" stroke-width="1.5" />
<line x1="832.2" y1="511.3" x2="832.2" y2="517.3" stroke="#3a4848" stroke-width="1.5" />
<line x1="859.6" y1="1314.9" x2="859.6" y2="1308.9" stroke="#3a4848" stroke-width="1.5" />
<line x1="859.6" y1="511.3" x2="859.6" y2="517.3" stroke="#3a4848" stroke-width="1.5" />
<line x1="880.8" y1="1314.9" x2="880.8" y2="1308.9" stroke="#3a4848" stroke-width="1.5" />
<line x1="880.8" y1="511.3" x2="880.8" y2="517.3" stroke="#3a4848" stroke-width="1.5" />
<line x1="898.1" y1="1314.9" x2="898.1" y2="1308.9" stroke="#3a4848" stroke-width="1.5" />
<line x1="898.1" y1="511.3" x2="898.1" y2="517.3" stroke="#3a4848" stroke-width="1.5" />
<line x1="912.8" y1="1314.9" x2="912.8" y2="1308.9" stroke="#3a4848" stroke-width="1.5" />
<line x1="912.8" y1="511.3" x2="912.8" y2="517.3" stroke="#3a4848" stroke-width="1.5" />
<line x1="925.5" y1="1314.9" x2="925.5" y2="1308.9" stroke="#3a4848" stroke-width="1.5" />
<line x1="925.5" y1="511.3" x2="925.5" y2="517.3" stroke="#3a4848" stroke-width="1.5" />
<line x1="936.7" y1="1314.9" x2="936.7" y2="1308.9" stroke="#3a4848" stroke-width="1.5" />
<line x1="936.7" y1="511.3" x2="936.7" y2="517.3" stroke="#3a4848" stroke-width="1.5" />
<line x1="1012.6" y1="1314.9" x2="1012.6" y2="1308.9" stroke="#3a4848" stroke-width="1.5" />
<line x1="1012.6" y1="511.3" x2="1012.6" y2="517.3" stroke="#3a4848" stroke-width="1.5" />
<line x1="1051.2" y1="1314.9" x2="1051.2" y2="1308.9" stroke="#3a4848" stroke-width="1.5" />
<line x1="1051.2" y1="511.3" x2="1051.2" y2="517.3" stroke="#3a4848" stroke-width="1.5" />
<line x1="1078.6" y1="1314.9" x2="1078.6" y2="1308.9" stroke="#3a4848" stroke-width="1.5" />
<line x1="1078.6" y1="511.3" x2="1078.6" y2="517.3" stroke="#3a4848" stroke-width="1.5" />
<line x1="1099.8" y1="1314.9" x2="1099.8" y2="1308.9" stroke="#3a4848" stroke-width="1.5" />
<line x1="1099.8" y1="511.3" x2="1099.8" y2="517.3" stroke="#3a4848" stroke-width="1.5" />
<line x1="1117.1" y1="1314.9" x2="1117.1" y2="1308.9" stroke="#3a4848" stroke-width="1.5" />
<line x1="1117.1" y1="511.3" x2="1117.1" y2="517.3" stroke="#3a4848" stroke-width="1.5" />
<line x1="1131.8" y1="1314.9" x2="1131.8" y2="1308.9" stroke="#3a4848" stroke-width="1.5" />
<line x1="1131.8" y1="511.3" x2="1131.8" y2="517.3" stroke="#3a4848" stroke-width="1.5" />
<line x1="1144.5" y1="1314.9" x2="1144.5" y2="1308.9" stroke="#3a4848" stroke-width="1.5" />
<line x1="1144.5" y1="511.3" x2="1144.5" y2="517.3" stroke="#3a4848" stroke-width="1.5" />
<line x1="1155.7" y1="1314.9" x2="1155.7" y2="1308.9" stroke="#3a4848" stroke-width="1.5" />
<line x1="1155.7" y1="511.3" x2="1155.7" y2="517.3" stroke="#3a4848" stroke-width="1.5" />
<line x1="1231.6" y1="1314.9" x2="1231.6" y2="1308.9" stroke="#3a4848" stroke-width="1.5" />
<line x1="1231.6" y1="511.3" x2="1231.6" y2="517.3" stroke="#3a4848" stroke-width="1.5" />
<line x1="1270.2" y1="1314.9" x2="1270.2" y2="1308.9" stroke="#3a4848" stroke-width="1.5" />
<line x1="1270.2" y1="511.3" x2="1270.2" y2="517.3" stroke="#3a4848" stroke-width="1.5" />
<line x1="1297.6" y1="1314.9" x2="1297.6" y2="1308.9" stroke="#3a4848" stroke-width="1.5" />
<line x1="1297.6" y1="511.3" x2="1297.6" y2="517.3" stroke="#3a4848" stroke-width="1.5" />
<line x1="1318.8" y1="1314.9" x2="1318.8" y2="1308.9" stroke="#3a4848" stroke-width="1.5" />
<line x1="1318.8" y1="511.3" x2="1318.8" y2="517.3" stroke="#3a4848" stroke-width="1.5" />
<line x1="1336.1" y1="1314.9" x2="1336.1" y2="1308.9" stroke="#3a4848" stroke-width="1.5" />
<line x1="1336.1" y1="511.3" x2="1336.1" y2="517.3" stroke="#3a4848" stroke-width="1.5" />
<line x1="1350.8" y1="1314.9" x2="1350.8" y2="1308.9" stroke="#3a4848" stroke-width="1.5" />
<line x1="1350.8" y1="511.3" x2="1350.8" y2="517.3" stroke="#3a4848" stroke-width="1.5" />
<line x1="1363.5" y1="1314.9" x2="1363.5" y2="1308.9" stroke="#3a4848" stroke-width="1.5" />
<line x1="1363.5" y1="511.3" x2="1363.5" y2="517.3" stroke="#3a4848" stroke-width="1.5" />
<line x1="1374.7" y1="1314.9" x2="1374.7" y2="1308.9" stroke="#3a4848" stroke-width="1.5" />
<line x1="1374.7" y1="511.3" x2="1374.7" y2="517.3" stroke="#3a4848" stroke-width="1.5" />
<line x1="241.2" y1="544.4" x2="247.7" y2="544.4" stroke="#3a4848" stroke-width="1.5" />
<line x1="1384.2" y1="544.4" x2="1377.7" y2="544.4" stroke="#3a4848" stroke-width="1.5" />
<line x1="241.2" y1="581.9" x2="247.7" y2="581.9" stroke="#3a4848" stroke-width="1.5" />
<line x1="1384.2" y1="581.9" x2="1377.7" y2="581.9" stroke="#3a4848" stroke-width="1.5" />
<line x1="241.2" y1="624.4" x2="247.7" y2="624.4" stroke="#3a4848" stroke-width="1.5" />
<line x1="1384.2" y1="624.4" x2="1377.7" y2="624.4" stroke="#3a4848" stroke-width="1.5" />
<line x1="241.2" y1="673.5" x2="247.7" y2="673.5" stroke="#3a4848" stroke-width="1.5" />
<line x1="1384.2" y1="673.5" x2="1377.7" y2="673.5" stroke="#3a4848" stroke-width="1.5" />
<line x1="241.2" y1="701.2" x2="247.7" y2="701.2" stroke="#3a4848" stroke-width="1.5" />
<line x1="1384.2" y1="701.2" x2="1377.7" y2="701.2" stroke="#3a4848" stroke-width="1.5" />
<line x1="241.2" y1="731.5" x2="247.7" y2="731.5" stroke="#3a4848" stroke-width="1.5" />
<line x1="1384.2" y1="731.5" x2="1377.7" y2="731.5" stroke="#3a4848" stroke-width="1.5" />
<line x1="241.2" y1="765.1" x2="247.7" y2="765.1" stroke="#3a4848" stroke-width="1.5" />
<line x1="1384.2" y1="765.1" x2="1377.7" y2="765.1" stroke="#3a4848" stroke-width="1.5" />
<line x1="241.2" y1="802.6" x2="247.7" y2="802.6" stroke="#3a4848" stroke-width="1.5" />
<line x1="1384.2" y1="802.6" x2="1377.7" y2="802.6" stroke="#3a4848" stroke-width="1.5" />
<line x1="241.2" y1="845.1" x2="247.7" y2="845.1" stroke="#3a4848" stroke-width="1.5" />
<line x1="1384.2" y1="845.1" x2="1377.7" y2="845.1" stroke="#3a4848" stroke-width="1.5" />
<line x1="241.2" y1="894.1" x2="247.7" y2="894.1" stroke="#3a4848" stroke-width="1.5" />
<line x1="1384.2" y1="894.1" x2="1377.7" y2="894.1" stroke="#3a4848" stroke-width="1.5" />
<line x1="241.2" y1="952.2" x2="247.7" y2="952.2" stroke="#3a4848" stroke-width="1.5" />
<line x1="1384.2" y1="952.2" x2="1377.7" y2="952.2" stroke="#3a4848" stroke-width="1.5" />
<line x1="241.2" y1="1023.2" x2="247.7" y2="1023.2" stroke="#3a4848" stroke-width="1.5" />
<line x1="1384.2" y1="1023.2" x2="1377.7" y2="1023.2" stroke="#3a4848" stroke-width="1.5" />
<line x1="241.2" y1="1056.8" x2="247.7" y2="1056.8" stroke="#3a4848" stroke-width="1.5" />
<line x1="1384.2" y1="1056.8" x2="1377.7" y2="1056.8" stroke="#3a4848" stroke-width="1.5" />
<line x1="241.2" y1="1094.2" x2="247.7" y2="1094.2" stroke="#3a4848" stroke-width="1.5" />
<line x1="1384.2" y1="1094.2" x2="1377.7" y2="1094.2" stroke="#3a4848" stroke-width="1.5" />
<line x1="241.2" y1="1136.8" x2="247.7" y2="1136.8" stroke="#3a4848" stroke-width="1.5" />
<line x1="1384.2" y1="1136.8" x2="1377.7" y2="1136.8" stroke="#3a4848" stroke-width="1.5" />
<line x1="241.2" y1="1185.8" x2="247.7" y2="1185.8" stroke="#3a4848" stroke-width="1.5" />
<line x1="1384.2" y1="1185.8" x2="1377.7" y2="1185.8" stroke="#3a4848" stroke-width="1.5" />
<line x1="241.2" y1="1243.9" x2="247.7" y2="1243.9" stroke="#3a4848" stroke-width="1.5" />
<line x1="1384.2" y1="1243.9" x2="1377.7" y2="1243.9" stroke="#3a4848" stroke-width="1.5" />
<line x1="241.2" y1="1277.4" x2="247.7" y2="1277.4" stroke="#3a4848" stroke-width="1.5" />
<line x1="1384.2" y1="1277.4" x2="1377.7" y2="1277.4" stroke="#3a4848" stroke-width="1.5" />
<rect x="242.4" y="918.5" width="232.6" height="70.3" fill="#fff" />
<rect x="373.6" y="1014.5" width="272.6" height="99.5" fill="#fff" />
<rect x="607.5" y="1114.2" width="201.3" height="92.9" fill="#fff" />
<rect x="958.5" y="552.7" width="255.8" height="86.8" fill="#fff" />
<rect x="879.4" y="1202.0" width="66.5" height="23.0" fill="#fff" />
<rect x="998.6" y="1272.4" width="76.4" height="23.1" fill="#fff" />
<line x1="241.2" y1="510.3" x2="241.2" y2="1315.9" stroke="#6a7a7a" stroke-width="1.4" />
<line x1="240.5" y1="511.3" x2="1384.9" y2="511.3" stroke="#2c3636" stroke-width="2.0" />
<line x1="240.5" y1="1314.9" x2="1384.9" y2="1314.9" stroke="#3a4848" stroke-width="2.2" />
<line x1="1384.2" y1="510.3" x2="1384.2" y2="1315.9" stroke="#2c3636" stroke-width="1.6" />
<line x1="241.2" y1="903.5" x2="639.9" y2="903.5" stroke="#0a0a0a" stroke-width="3.2" stroke-dasharray="10.3 5.43" stroke-dashoffset="7.5"/>
<line x1="638.7" y1="903.5" x2="638.7" y2="1314.9" stroke="#0a0a0a" stroke-width="3.0" stroke-dasharray="10.3 5.43" stroke-dashoffset="8.33"/>
<line x1="950.5" y1="1213.8" x2="987.5" y2="1213.8" stroke="#5a6868" stroke-width="1.4" />
<line x1="1078.9" y1="1285.3" x2="1118.6" y2="1285.3" stroke="#5a6868" stroke-width="1.4" />
<line x1="648.3" y1="1039.0" x2="775.5" y2="946.8" stroke="#111" stroke-width="1.7" />
<polygon fill="#111" points="786.4,938.9 777.4,952.9 777.4,945.4 770.3,943.1"/>
<line x1="810.6" y1="1138.2" x2="835.0" y2="1138.2" stroke="#111" stroke-width="1.7" />
<polygon fill="#111" points="848.5,1138.2 833.0,1144.2 837.3,1138.2 833.0,1132.2"/>
<text x="204.0" y="516.2" font-size="12.6" class="s" textLength="30.0" lengthAdjust="spacingAndGlyphs" fill="#111">0.100</text>
<text x="207.6" y="548.5" font-size="12.6" class="s" textLength="30.0" lengthAdjust="spacingAndGlyphs" fill="#111">0.090</text>
<text x="207.6" y="586.0" font-size="12.6" class="s" textLength="30.0" lengthAdjust="spacingAndGlyphs" fill="#111">0.080</text>
<text x="207.6" y="628.5" font-size="12.6" class="s" textLength="30.0" lengthAdjust="spacingAndGlyphs" fill="#111">0.070</text>
<text x="207.6" y="677.6" font-size="12.6" class="s" textLength="30.0" lengthAdjust="spacingAndGlyphs" fill="#111">0.060</text>
<text x="207.6" y="705.3" font-size="12.6" class="s" textLength="30.0" lengthAdjust="spacingAndGlyphs" fill="#111">0.055</text>
<text x="207.6" y="735.6" font-size="12.6" class="s" textLength="30.0" lengthAdjust="spacingAndGlyphs" fill="#111">0.050</text>
<text x="207.6" y="769.2" font-size="12.6" class="s" textLength="30.0" lengthAdjust="spacingAndGlyphs" fill="#111">0.045</text>
<text x="207.6" y="806.7" font-size="12.6" class="s" textLength="30.0" lengthAdjust="spacingAndGlyphs" fill="#111">0.040</text>
<text x="207.6" y="849.2" font-size="12.6" class="s" textLength="30.0" lengthAdjust="spacingAndGlyphs" fill="#111">0.035</text>
<text x="207.6" y="898.2" font-size="12.6" class="s" textLength="30.0" lengthAdjust="spacingAndGlyphs" fill="#111">0.030</text>
<text x="207.6" y="956.3" font-size="12.6" class="s" textLength="30.0" lengthAdjust="spacingAndGlyphs" fill="#111">0.025</text>
<text x="207.6" y="1027.3" font-size="12.6" class="s" textLength="30.0" lengthAdjust="spacingAndGlyphs" fill="#111">0.020</text>
<text x="207.6" y="1060.9" font-size="12.6" class="s" textLength="30.0" lengthAdjust="spacingAndGlyphs" fill="#111">0.018</text>
<text x="207.6" y="1098.3" font-size="12.6" class="s" textLength="30.0" lengthAdjust="spacingAndGlyphs" fill="#111">0.016</text>
<text x="207.6" y="1140.9" font-size="12.6" class="s" textLength="30.0" lengthAdjust="spacingAndGlyphs" fill="#111">0.014</text>
<text x="207.6" y="1189.9" font-size="12.6" class="s" textLength="30.0" lengthAdjust="spacingAndGlyphs" fill="#111">0.012</text>
<text x="207.6" y="1248.0" font-size="12.6" class="s" textLength="30.0" lengthAdjust="spacingAndGlyphs" fill="#111">0.010</text>
<text x="207.6" y="1281.5" font-size="12.6" class="s" textLength="30.0" lengthAdjust="spacingAndGlyphs" fill="#111">0.009</text>
<text x="207.6" y="1318.0" font-size="12.6" class="s" textLength="30.0" lengthAdjust="spacingAndGlyphs" fill="#111">0.008</text>
<text x="1392.2" y="570.1" font-size="12.6" class="s" textLength="23.4" lengthAdjust="spacingAndGlyphs" fill="#111">0.07</text>
<text x="1392.2" y="594.4" font-size="12.6" class="s" textLength="23.4" lengthAdjust="spacingAndGlyphs" fill="#111">0.06</text>
<text x="1392.2" y="621.9" font-size="12.6" class="s" textLength="23.4" lengthAdjust="spacingAndGlyphs" fill="#111">0.05</text>
<text x="1392.2" y="637.3" font-size="12.6" class="s" textLength="30.0" lengthAdjust="spacingAndGlyphs" fill="#111">0.045</text>
<text x="1392.2" y="654.1" font-size="12.6" class="s" textLength="23.4" lengthAdjust="spacingAndGlyphs" fill="#111">0.04</text>
<text x="1392.2" y="672.6" font-size="12.6" class="s" textLength="30.0" lengthAdjust="spacingAndGlyphs" fill="#111">0.035</text>
<text x="1392.2" y="693.3" font-size="12.6" class="s" textLength="23.4" lengthAdjust="spacingAndGlyphs" fill="#111">0.03</text>
<text x="1392.2" y="716.9" font-size="12.6" class="s" textLength="30.0" lengthAdjust="spacingAndGlyphs" fill="#111">0.025</text>
<text x="1392.2" y="744.7" font-size="12.6" class="s" textLength="23.4" lengthAdjust="spacingAndGlyphs" fill="#111">0.02</text>
<text x="1392.2" y="760.8" font-size="12.6" class="s" textLength="36.7" lengthAdjust="spacingAndGlyphs" fill="#111">0.0175</text>
<text x="1392.2" y="778.9" font-size="12.6" class="s" textLength="30.0" lengthAdjust="spacingAndGlyphs" fill="#111">0.015</text>
<text x="1392.2" y="799.6" font-size="12.6" class="s" textLength="36.7" lengthAdjust="spacingAndGlyphs" fill="#111">0.0125</text>
<text x="1392.2" y="824.1" font-size="12.6" class="s" textLength="23.4" lengthAdjust="spacingAndGlyphs" fill="#111">0.01</text>
<text x="1392.2" y="847.6" font-size="12.6" class="s" textLength="30.0" lengthAdjust="spacingAndGlyphs" fill="#111">0.008</text>
<text x="1392.2" y="876.8" font-size="12.6" class="s" textLength="30.0" lengthAdjust="spacingAndGlyphs" fill="#111">0.006</text>
<text x="1392.2" y="915.7" font-size="12.6" class="s" textLength="30.0" lengthAdjust="spacingAndGlyphs" fill="#111">0.004</text>
<text x="1392.2" y="942.0" font-size="12.6" class="s" textLength="30.0" lengthAdjust="spacingAndGlyphs" fill="#111">0.003</text>
<text x="1392.2" y="977.3" font-size="12.6" class="s" textLength="30.0" lengthAdjust="spacingAndGlyphs" fill="#111">0.002</text>
<text x="1392.2" y="1001.1" font-size="12.6" class="s" textLength="36.7" lengthAdjust="spacingAndGlyphs" fill="#111">0.0015</text>
<text x="1392.2" y="1033.3" font-size="12.6" class="s" textLength="30.0" lengthAdjust="spacingAndGlyphs" fill="#111">0.001</text>
<text x="1392.2" y="1050.4" font-size="12.6" class="s" textLength="36.7" lengthAdjust="spacingAndGlyphs" fill="#111">0.0008</text>
<text x="1392.2" y="1071.7" font-size="12.6" class="s" textLength="36.7" lengthAdjust="spacingAndGlyphs" fill="#111">0.0006</text>
<text x="1392.2" y="1100.5" font-size="12.6" class="s" textLength="36.7" lengthAdjust="spacingAndGlyphs" fill="#111">0.0004</text>
<text x="1392.2" y="1147.0" font-size="12.6" class="s" textLength="36.7" lengthAdjust="spacingAndGlyphs" fill="#111">0.0002</text>
<text x="1392.2" y="1190.1" font-size="12.6" class="s" textLength="36.7" lengthAdjust="spacingAndGlyphs" fill="#111">0.0001</text>
<text x="1392.2" y="1230.2" font-size="12.6" class="s" textLength="40.4" lengthAdjust="spacingAndGlyphs" fill="#111">5e−005</text>
<text x="1392.2" y="1278.7" font-size="12.6" class="s" textLength="40.4" lengthAdjust="spacingAndGlyphs" fill="#111">2e−005</text>
<text x="1392.2" y="1311.7" font-size="12.6" class="s" textLength="40.4" lengthAdjust="spacingAndGlyphs" fill="#111">1e−005</text>
<text x="241.1" y="1331.7" font-size="12" class="s" text-anchor="middle" fill="#111">6</text>
<text x="255.8" y="1331.7" font-size="12" class="s" text-anchor="middle" fill="#111">7</text>
<text x="268.5" y="1331.7" font-size="12" class="s" text-anchor="middle" fill="#111">8</text>
<text x="355.6" y="1331.7" font-size="12" class="s" text-anchor="middle" fill="#111">2</text>
<text x="394.2" y="1331.7" font-size="12" class="s" text-anchor="middle" fill="#111">3</text>
<text x="421.6" y="1331.7" font-size="12" class="s" text-anchor="middle" fill="#111">4</text>
<text x="442.8" y="1331.7" font-size="12" class="s" text-anchor="middle" fill="#111">5</text>
<text x="460.1" y="1331.7" font-size="12" class="s" text-anchor="middle" fill="#111">6</text>
<text x="474.8" y="1331.7" font-size="12" class="s" text-anchor="middle" fill="#111">7</text>
<text x="487.5" y="1331.7" font-size="12" class="s" text-anchor="middle" fill="#111">8</text>
<text x="574.6" y="1331.7" font-size="12" class="s" text-anchor="middle" fill="#111">2</text>
<text x="613.2" y="1331.7" font-size="12" class="s" text-anchor="middle" fill="#111">3</text>
<text x="640.6" y="1331.7" font-size="12" class="s" text-anchor="middle" fill="#111">4</text>
<text x="661.8" y="1331.7" font-size="12" class="s" text-anchor="middle" fill="#111">5</text>
<text x="679.1" y="1331.7" font-size="12" class="s" text-anchor="middle" fill="#111">6</text>
<text x="693.8" y="1331.7" font-size="12" class="s" text-anchor="middle" fill="#111">7</text>
<text x="706.5" y="1331.7" font-size="12" class="s" text-anchor="middle" fill="#111">8</text>
<text x="793.6" y="1331.7" font-size="12" class="s" text-anchor="middle" fill="#111">2</text>
<text x="832.2" y="1331.7" font-size="12" class="s" text-anchor="middle" fill="#111">3</text>
<text x="859.6" y="1331.7" font-size="12" class="s" text-anchor="middle" fill="#111">4</text>
<text x="880.8" y="1331.7" font-size="12" class="s" text-anchor="middle" fill="#111">5</text>
<text x="898.1" y="1331.7" font-size="12" class="s" text-anchor="middle" fill="#111">6</text>
<text x="912.8" y="1331.7" font-size="12" class="s" text-anchor="middle" fill="#111">7</text>
<text x="925.5" y="1331.7" font-size="12" class="s" text-anchor="middle" fill="#111">8</text>
<text x="1012.6" y="1331.7" font-size="12" class="s" text-anchor="middle" fill="#111">2</text>
<text x="1051.2" y="1331.7" font-size="12" class="s" text-anchor="middle" fill="#111">3</text>
<text x="1078.6" y="1331.7" font-size="12" class="s" text-anchor="middle" fill="#111">4</text>
<text x="1099.8" y="1331.7" font-size="12" class="s" text-anchor="middle" fill="#111">5</text>
<text x="1117.1" y="1331.7" font-size="12" class="s" text-anchor="middle" fill="#111">6</text>
<text x="1131.8" y="1331.7" font-size="12" class="s" text-anchor="middle" fill="#111">7</text>
<text x="1144.5" y="1331.7" font-size="12" class="s" text-anchor="middle" fill="#111">8</text>
<text x="1231.6" y="1331.7" font-size="12" class="s" text-anchor="middle" fill="#111">2</text>
<text x="1270.2" y="1331.7" font-size="12" class="s" text-anchor="middle" fill="#111">3</text>
<text x="1297.6" y="1331.7" font-size="12" class="s" text-anchor="middle" fill="#111">4</text>
<text x="1318.8" y="1331.7" font-size="12" class="s" text-anchor="middle" fill="#111">5</text>
<text x="1336.1" y="1331.7" font-size="12" class="s" text-anchor="middle" fill="#111">6</text>
<text x="1350.8" y="1331.7" font-size="12" class="s" text-anchor="middle" fill="#111">7</text>
<text x="1363.5" y="1331.7" font-size="12" class="s" text-anchor="middle" fill="#111">8</text>
<text x="279.6" y="1339.3" font-size="15.6" class="s" textLength="15.0" lengthAdjust="spacingAndGlyphs" fill="#111">10</text>
<text x="294.3" y="1330.2" font-size="9.8" class="s" fill="#111">3</text>
<text x="498.6" y="1339.3" font-size="15.6" class="s" textLength="15.0" lengthAdjust="spacingAndGlyphs" fill="#111">10</text>
<text x="513.3" y="1330.2" font-size="9.8" class="s" fill="#111">4</text>
<text x="717.6" y="1339.3" font-size="15.6" class="s" textLength="15.0" lengthAdjust="spacingAndGlyphs" fill="#111">10</text>
<text x="732.3" y="1330.2" font-size="9.8" class="s" fill="#111">5</text>
<text x="936.6" y="1339.3" font-size="15.6" class="s" textLength="15.0" lengthAdjust="spacingAndGlyphs" fill="#111">10</text>
<text x="951.3" y="1330.2" font-size="9.8" class="s" fill="#111">6</text>
<text x="1155.6" y="1339.3" font-size="15.6" class="s" textLength="15.0" lengthAdjust="spacingAndGlyphs" fill="#111">10</text>
<text x="1170.3" y="1330.2" font-size="9.8" class="s" fill="#111">7</text>
<text x="1374.6" y="1339.3" font-size="15.6" class="s" textLength="15.0" lengthAdjust="spacingAndGlyphs" fill="#111">10</text>
<text x="1389.3" y="1330.2" font-size="9.8" class="s" fill="#111">8</text>
<g transform="translate(183.0,1010.8) rotate(-90)">
<text x="0.0" y="0.0" font-size="17" class="s" textLength="146.8" lengthAdjust="spacingAndGlyphs" fill="#111">Indice di resistenza</text>
<text x="161.5" y="0.8" font-size="19.5" class="ri" fill="#111">λ</text>
</g>
<g transform="translate(1470.1,1039.2) rotate(-90)">
<text x="0.0" y="0.0" font-size="17" class="s" textLength="142.6" lengthAdjust="spacingAndGlyphs" fill="#111">Scabrezza relativa</text>
<text x="161.3" y="-15.9" font-size="19" class="ri" fill="#111">ε</text>
<line x1="156.8" y1="-8.1" x2="176.2" y2="-8.1" stroke="#555" stroke-width="1.3" />
<text x="159.6" y="15.6" font-size="19" class="ri" fill="#111">D</text>
</g>
<text x="643.6" y="1375.3" font-size="17" class="s" textLength="157.4" lengthAdjust="spacingAndGlyphs" fill="#111">Numero di Reynolds</text>
<text x="815.2" y="1375.6" font-size="19.5" class="r" textLength="22.3" lengthAdjust="spacingAndGlyphs" fill="#111">Re</text>
<text x="843.0" y="1375.6" font-size="19.5" class="r" textLength="12.6" lengthAdjust="spacingAndGlyphs" fill="#111">=</text>
<line x1="860.0" y1="1370.6" x2="897.9" y2="1370.6" stroke="#444" stroke-width="1.2" />
<text x="861.5" y="1362.3" font-size="20" class="ri" fill="#111">V</text>
<text x="881.8" y="1362.3" font-size="20" class="ri" fill="#111">D</text>
<text x="874.2" y="1391.9" font-size="20" class="ri" fill="#111">ν</text>
<text x="258.0" y="955.9" font-size="17" class="s" textLength="131.6" lengthAdjust="spacingAndGlyphs" fill="#111">Regime laminare</text>
<text x="402.4" y="955.9" font-size="19.5" class="ri" fill="#111">λ</text>
<text x="418.4" y="955.9" font-size="19.5" class="r" textLength="10.6" lengthAdjust="spacingAndGlyphs" fill="#111">=</text>
<line x1="432.8" y1="951.4" x2="457.2" y2="951.4" stroke="#444" stroke-width="1.2" />
<text x="436.0" y="943.6" font-size="18.6" class="r" textLength="18.8" lengthAdjust="spacingAndGlyphs" fill="#111">64</text>
<text x="436.0" y="970.2" font-size="18.6" class="ri" textLength="19.5" lengthAdjust="spacingAndGlyphs" fill="#111">Re</text>
<text x="386.8" y="1037.0" font-size="17" class="s" textLength="168.2" lengthAdjust="spacingAndGlyphs" fill="#111">Regime di transizione</text>
<text x="404.0" y="1063.9" font-size="17.3" class="r" text-anchor="middle" fill="#111">1</text>
<line x1="389.3" y1="1071.5" x2="418.6" y2="1071.5" stroke="#444" stroke-width="1.2" />
<path d="M390.9,1086.5 l2.2,-1.4 L398.2,1094.8 L404.7,1075.1 H416.9" fill="none" stroke="#1a1a1a" stroke-width="1.15" stroke-linejoin="miter"/>
<path d="M393.5,1085.7 L398.2,1094.8" fill="none" stroke="#1a1a1a" stroke-width="2.0"/>
<text x="406.1" y="1093.8" font-size="20.76" class="ri" fill="#111">λ</text>
<text x="423.6" y="1076.9" font-size="17.3" class="r" textLength="12.0" lengthAdjust="spacingAndGlyphs" fill="#111">=</text>
<text x="438.2" y="1077.4" font-size="17.3" class="r" textLength="20.4" lengthAdjust="spacingAndGlyphs" fill="#111">−2</text>
<text x="460.3" y="1077.4" font-size="17.3" class="ri" textLength="24.0" lengthAdjust="spacingAndGlyphs" fill="#111">log</text>
<path d="M493.7,1045.0 Q482.8,1071.2 493.7,1097.5" fill="none" stroke="#333" stroke-width="1.2"/>
<text x="508.5" y="1063.8" font-size="17.3" class="r" textLength="30.6" lengthAdjust="spacingAndGlyphs" fill="#111">2,51</text>
<line x1="496.1" y1="1071.5" x2="549.5" y2="1071.5" stroke="#444" stroke-width="1.2" />
<text x="499.0" y="1093.8" font-size="17.3" class="ri" textLength="19.6" lengthAdjust="spacingAndGlyphs" fill="#111">Re</text>
<path d="M520.0,1086.5 l2.2,-1.4 L527.3,1094.8 L533.8,1075.1 H546.0" fill="none" stroke="#1a1a1a" stroke-width="1.15" stroke-linejoin="miter"/>
<path d="M522.6,1085.7 L527.3,1094.8" fill="none" stroke="#1a1a1a" stroke-width="2.0"/>
<text x="535.2" y="1093.8" font-size="20.76" class="ri" fill="#111">λ</text>
<text x="554.2" y="1076.9" font-size="17.3" class="r" textLength="10.4" lengthAdjust="spacingAndGlyphs" fill="#111">+</text>
<text x="585.2" y="1063.8" font-size="17.3" class="r" text-anchor="middle" fill="#111">1</text>
<line x1="569.4" y1="1071.5" x2="601.8" y2="1071.5" stroke="#444" stroke-width="1.2" />
<text x="570.2" y="1091.0" font-size="17.3" class="r" textLength="30.8" lengthAdjust="spacingAndGlyphs" fill="#111">3,71</text>
<text x="610.0" y="1063.8" font-size="17.3" class="ri" fill="#111">ε</text>
<line x1="606.0" y1="1071.5" x2="623.8" y2="1071.5" stroke="#444" stroke-width="1.2" />
<text x="606.8" y="1091.0" font-size="17.3" class="ri" textLength="15.0" lengthAdjust="spacingAndGlyphs" fill="#111">D</text>
<path d="M626.0,1045.0 Q636.9,1071.2 626.0,1097.5" fill="none" stroke="#333" stroke-width="1.2"/>
<text x="619.6" y="1135.7" font-size="17" class="s" textLength="160.8" lengthAdjust="spacingAndGlyphs" fill="#111">Regime di tubo liscio</text>
<text x="636.0" y="1163.2" font-size="17.3" class="r" text-anchor="middle" fill="#111">1</text>
<line x1="622.2" y1="1170.8" x2="649.9" y2="1170.8" stroke="#444" stroke-width="1.2" />
<path d="M623.8,1185.8 l2.2,-1.4 L631.1,1194.1 L637.6,1174.4 H649.8" fill="none" stroke="#1a1a1a" stroke-width="1.15" stroke-linejoin="miter"/>
<path d="M626.4,1185.0 L631.1,1194.1" fill="none" stroke="#1a1a1a" stroke-width="2.0"/>
<text x="639.0" y="1193.1" font-size="20.76" class="ri" fill="#111">λ</text>
<text x="655.2" y="1176.2" font-size="17.3" class="r" textLength="11.4" lengthAdjust="spacingAndGlyphs" fill="#111">=</text>
<text x="669.0" y="1176.2" font-size="17.3" class="r" textLength="21.0" lengthAdjust="spacingAndGlyphs" fill="#111">−2</text>
<text x="693.0" y="1176.2" font-size="17.3" class="ri" textLength="24.6" lengthAdjust="spacingAndGlyphs" fill="#111">log</text>
<path d="M726.6,1146.2 Q715.8,1171.7 726.6,1197.2" fill="none" stroke="#333" stroke-width="1.2"/>
<text x="740.2" y="1163.7" font-size="17.3" class="r" textLength="30.2" lengthAdjust="spacingAndGlyphs" fill="#111">2,51</text>
<line x1="728.4" y1="1170.8" x2="781.0" y2="1170.8" stroke="#444" stroke-width="1.2" />
<text x="731.8" y="1192.4" font-size="17.3" class="ri" textLength="19.6" lengthAdjust="spacingAndGlyphs" fill="#111">Re</text>
<path d="M752.6,1185.1 l2.2,-1.4 L759.9,1193.4 L766.4,1173.7 H778.6" fill="none" stroke="#1a1a1a" stroke-width="1.15" stroke-linejoin="miter"/>
<path d="M755.2,1184.3 L759.9,1193.4" fill="none" stroke="#1a1a1a" stroke-width="2.0"/>
<text x="767.8" y="1192.4" font-size="20.76" class="ri" fill="#111">λ</text>
<path d="M782.4,1146.2 Q793.2,1171.7 782.4,1197.2" fill="none" stroke="#333" stroke-width="1.2"/>
<text x="970.6" y="572.4" font-size="17" class="s" textLength="231.2" lengthAdjust="spacingAndGlyphs" fill="#111">Regime puramente turbolento</text>
<text x="987.6" y="597.7" font-size="17.3" class="r" text-anchor="middle" fill="#111">1</text>
<line x1="973.3" y1="605.3" x2="1001.9" y2="605.3" stroke="#444" stroke-width="1.2" />
<path d="M974.9,620.3 l2.2,-1.4 L982.2,628.6 L988.7,608.9 H1000.9" fill="none" stroke="#1a1a1a" stroke-width="1.15" stroke-linejoin="miter"/>
<path d="M977.5,619.5 L982.2,628.6" fill="none" stroke="#1a1a1a" stroke-width="2.0"/>
<text x="990.1" y="627.6" font-size="20.76" class="ri" fill="#111">λ</text>
<text x="1007.2" y="610.7" font-size="17.3" class="r" textLength="11.6" lengthAdjust="spacingAndGlyphs" fill="#111">=</text>
<text x="1022.5" y="610.5" font-size="17.3" class="r" textLength="19.4" lengthAdjust="spacingAndGlyphs" fill="#111">−2</text>
<text x="1045.0" y="610.5" font-size="17.3" class="ri" textLength="23.8" lengthAdjust="spacingAndGlyphs" fill="#111">log</text>
<path d="M1077.8,581.3 Q1067.0,605.4 1077.8,629.5" fill="none" stroke="#333" stroke-width="1.2"/>
<text x="1096.8" y="597.9" font-size="17.3" class="r" text-anchor="middle" fill="#111">1</text>
<line x1="1080.4" y1="605.3" x2="1112.7" y2="605.3" stroke="#444" stroke-width="1.2" />
<text x="1081.0" y="624.7" font-size="17.3" class="r" textLength="31.0" lengthAdjust="spacingAndGlyphs" fill="#111">3,71</text>
<text x="1120.8" y="597.9" font-size="17.3" class="ri" fill="#111">ε</text>
<line x1="1117.3" y1="605.3" x2="1134.9" y2="605.3" stroke="#444" stroke-width="1.2" />
<text x="1119.0" y="624.7" font-size="17.3" class="ri" textLength="14.4" lengthAdjust="spacingAndGlyphs" fill="#111">D</text>
<path d="M1136.4,581.3 Q1147.2,605.4 1136.4,629.5" fill="none" stroke="#333" stroke-width="1.2"/>
<text x="890.2" y="1218.2" font-size="13.6" class="s" textLength="46.8" lengthAdjust="spacingAndGlyphs" fill="#111">5e−006</text>
<text x="1021.0" y="1289.0" font-size="13.6" class="s" textLength="45.4" lengthAdjust="spacingAndGlyphs" fill="#111">1e−006</text>
</g>
</svg></body></html>
